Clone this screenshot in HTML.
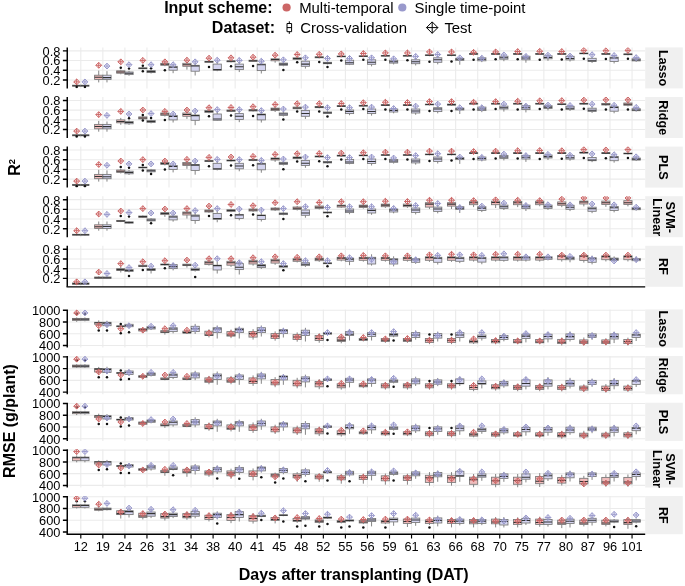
<!DOCTYPE html>
<html><head><meta charset="utf-8"><style>
html,body{margin:0;padding:0;background:#fff;}
body{width:685px;height:586px;overflow:hidden;font-family:"Liberation Sans",sans-serif;}
svg{display:block;will-change:transform;}
</style></head><body>
<svg width="685" height="586" viewBox="0 0 685 586" font-family='"Liberation Sans", sans-serif'><defs><clipPath id="c0"><rect x="67.6" y="47.4" width="577.6" height="41"/></clipPath><clipPath id="c1"><rect x="67.6" y="97" width="577.6" height="41"/></clipPath><clipPath id="c2"><rect x="67.6" y="146.6" width="577.6" height="41"/></clipPath><clipPath id="c3"><rect x="67.6" y="196.2" width="577.6" height="41"/></clipPath><clipPath id="c4"><rect x="67.6" y="245.8" width="577.6" height="41"/></clipPath><clipPath id="c5"><rect x="67.6" y="309.4" width="577.6" height="38.2"/></clipPath><clipPath id="c6"><rect x="67.6" y="356.05" width="577.6" height="38.2"/></clipPath><clipPath id="c7"><rect x="67.6" y="402.7" width="577.6" height="38.2"/></clipPath><clipPath id="c8"><rect x="67.6" y="449.35" width="577.6" height="38.2"/></clipPath><clipPath id="c9"><rect x="67.6" y="496" width="577.6" height="38.2"/></clipPath></defs>
<path d="M67.6 50.85H645.2M67.6 60.55H645.2M67.6 70.25H645.2M67.6 79.95H645.2M80.8 47.4V88.4M102.85 47.4V88.4M124.9 47.4V88.4M146.95 47.4V88.4M169 47.4V88.4M191.05 47.4V88.4M213.1 47.4V88.4M235.15 47.4V88.4M257.2 47.4V88.4M279.25 47.4V88.4M301.3 47.4V88.4M323.35 47.4V88.4M345.4 47.4V88.4M367.45 47.4V88.4M389.5 47.4V88.4M411.55 47.4V88.4M433.6 47.4V88.4M455.65 47.4V88.4M477.7 47.4V88.4M499.75 47.4V88.4M521.8 47.4V88.4M543.85 47.4V88.4M565.9 47.4V88.4M587.95 47.4V88.4M610 47.4V88.4M632.05 47.4V88.4" stroke="#EBEBEB" stroke-width="1.1" fill="none"/>
<rect x="645.2" y="47.4" width="37.6" height="41" fill="#F0F0F0"/>
<text transform="translate(659.2 68.1) rotate(90)" text-anchor="middle" font-weight="bold" font-size="12.6">Lasso</text>
<path d="M67.25 47.4V88.4M62.9 50.85H67.25M62.9 60.55H67.25M62.9 70.25H67.25M62.9 79.95H67.25" stroke="#000" stroke-width="1.45" fill="none"/>
<text x="60.4" y="55.75" text-anchor="end" font-size="12.8">0.8</text>
<text x="60.4" y="65.45" text-anchor="end" font-size="12.8">0.6</text>
<text x="60.4" y="75.15" text-anchor="end" font-size="12.8">0.4</text>
<text x="60.4" y="84.85" text-anchor="end" font-size="12.8">0.2</text>
<path d="M67.6 100.45H645.2M67.6 110.15H645.2M67.6 119.85H645.2M67.6 129.55H645.2M80.8 97V138M102.85 97V138M124.9 97V138M146.95 97V138M169 97V138M191.05 97V138M213.1 97V138M235.15 97V138M257.2 97V138M279.25 97V138M301.3 97V138M323.35 97V138M345.4 97V138M367.45 97V138M389.5 97V138M411.55 97V138M433.6 97V138M455.65 97V138M477.7 97V138M499.75 97V138M521.8 97V138M543.85 97V138M565.9 97V138M587.95 97V138M610 97V138M632.05 97V138" stroke="#EBEBEB" stroke-width="1.1" fill="none"/>
<rect x="645.2" y="97" width="37.6" height="41" fill="#F0F0F0"/>
<text transform="translate(659.2 117.7) rotate(90)" text-anchor="middle" font-weight="bold" font-size="12.6">Ridge</text>
<path d="M67.25 97V138M62.9 100.45H67.25M62.9 110.15H67.25M62.9 119.85H67.25M62.9 129.55H67.25" stroke="#000" stroke-width="1.45" fill="none"/>
<text x="60.4" y="105.35" text-anchor="end" font-size="12.8">0.8</text>
<text x="60.4" y="115.05" text-anchor="end" font-size="12.8">0.6</text>
<text x="60.4" y="124.75" text-anchor="end" font-size="12.8">0.4</text>
<text x="60.4" y="134.45" text-anchor="end" font-size="12.8">0.2</text>
<path d="M67.6 150.05H645.2M67.6 159.75H645.2M67.6 169.45H645.2M67.6 179.15H645.2M80.8 146.6V187.6M102.85 146.6V187.6M124.9 146.6V187.6M146.95 146.6V187.6M169 146.6V187.6M191.05 146.6V187.6M213.1 146.6V187.6M235.15 146.6V187.6M257.2 146.6V187.6M279.25 146.6V187.6M301.3 146.6V187.6M323.35 146.6V187.6M345.4 146.6V187.6M367.45 146.6V187.6M389.5 146.6V187.6M411.55 146.6V187.6M433.6 146.6V187.6M455.65 146.6V187.6M477.7 146.6V187.6M499.75 146.6V187.6M521.8 146.6V187.6M543.85 146.6V187.6M565.9 146.6V187.6M587.95 146.6V187.6M610 146.6V187.6M632.05 146.6V187.6" stroke="#EBEBEB" stroke-width="1.1" fill="none"/>
<rect x="645.2" y="146.6" width="37.6" height="41" fill="#F0F0F0"/>
<text transform="translate(659.2 167.3) rotate(90)" text-anchor="middle" font-weight="bold" font-size="12.6">PLS</text>
<path d="M67.25 146.6V187.6M62.9 150.05H67.25M62.9 159.75H67.25M62.9 169.45H67.25M62.9 179.15H67.25" stroke="#000" stroke-width="1.45" fill="none"/>
<text x="60.4" y="154.95" text-anchor="end" font-size="12.8">0.8</text>
<text x="60.4" y="164.65" text-anchor="end" font-size="12.8">0.6</text>
<text x="60.4" y="174.35" text-anchor="end" font-size="12.8">0.4</text>
<text x="60.4" y="184.05" text-anchor="end" font-size="12.8">0.2</text>
<path d="M67.6 199.65H645.2M67.6 209.35H645.2M67.6 219.05H645.2M67.6 228.75H645.2M80.8 196.2V237.2M102.85 196.2V237.2M124.9 196.2V237.2M146.95 196.2V237.2M169 196.2V237.2M191.05 196.2V237.2M213.1 196.2V237.2M235.15 196.2V237.2M257.2 196.2V237.2M279.25 196.2V237.2M301.3 196.2V237.2M323.35 196.2V237.2M345.4 196.2V237.2M367.45 196.2V237.2M389.5 196.2V237.2M411.55 196.2V237.2M433.6 196.2V237.2M455.65 196.2V237.2M477.7 196.2V237.2M499.75 196.2V237.2M521.8 196.2V237.2M543.85 196.2V237.2M565.9 196.2V237.2M587.95 196.2V237.2M610 196.2V237.2M632.05 196.2V237.2" stroke="#EBEBEB" stroke-width="1.1" fill="none"/>
<rect x="645.2" y="196.2" width="37.6" height="41" fill="#F0F0F0"/>
<text transform="translate(665.8 217.2) rotate(90)" text-anchor="middle" font-weight="bold" font-size="12.6">SVM-</text>
<text transform="translate(652.6 217.2) rotate(90)" text-anchor="middle" font-weight="bold" font-size="12.6">Linear</text>
<path d="M67.25 196.2V237.2M62.9 199.65H67.25M62.9 209.35H67.25M62.9 219.05H67.25M62.9 228.75H67.25" stroke="#000" stroke-width="1.45" fill="none"/>
<text x="60.4" y="204.55" text-anchor="end" font-size="12.8">0.8</text>
<text x="60.4" y="214.25" text-anchor="end" font-size="12.8">0.6</text>
<text x="60.4" y="223.95" text-anchor="end" font-size="12.8">0.4</text>
<text x="60.4" y="233.65" text-anchor="end" font-size="12.8">0.2</text>
<path d="M67.6 249.25H645.2M67.6 258.95H645.2M67.6 268.65H645.2M67.6 278.35H645.2M80.8 245.8V286.8M102.85 245.8V286.8M124.9 245.8V286.8M146.95 245.8V286.8M169 245.8V286.8M191.05 245.8V286.8M213.1 245.8V286.8M235.15 245.8V286.8M257.2 245.8V286.8M279.25 245.8V286.8M301.3 245.8V286.8M323.35 245.8V286.8M345.4 245.8V286.8M367.45 245.8V286.8M389.5 245.8V286.8M411.55 245.8V286.8M433.6 245.8V286.8M455.65 245.8V286.8M477.7 245.8V286.8M499.75 245.8V286.8M521.8 245.8V286.8M543.85 245.8V286.8M565.9 245.8V286.8M587.95 245.8V286.8M610 245.8V286.8M632.05 245.8V286.8" stroke="#EBEBEB" stroke-width="1.1" fill="none"/>
<rect x="645.2" y="245.8" width="37.6" height="41" fill="#F0F0F0"/>
<text transform="translate(659.2 266.5) rotate(90)" text-anchor="middle" font-weight="bold" font-size="12.6">RF</text>
<path d="M67.25 245.8V286.8M62.9 249.25H67.25M62.9 258.95H67.25M62.9 268.65H67.25M62.9 278.35H67.25" stroke="#000" stroke-width="1.45" fill="none"/>
<text x="60.4" y="254.15" text-anchor="end" font-size="12.8">0.8</text>
<text x="60.4" y="263.85" text-anchor="end" font-size="12.8">0.6</text>
<text x="60.4" y="273.55" text-anchor="end" font-size="12.8">0.4</text>
<text x="60.4" y="283.25" text-anchor="end" font-size="12.8">0.2</text>
<path d="M67.6 310.2H645.2M67.6 321.95H645.2M67.6 333.7H645.2M67.6 345.45H645.2M80.8 309.4V347.6M102.85 309.4V347.6M124.9 309.4V347.6M146.95 309.4V347.6M169 309.4V347.6M191.05 309.4V347.6M213.1 309.4V347.6M235.15 309.4V347.6M257.2 309.4V347.6M279.25 309.4V347.6M301.3 309.4V347.6M323.35 309.4V347.6M345.4 309.4V347.6M367.45 309.4V347.6M389.5 309.4V347.6M411.55 309.4V347.6M433.6 309.4V347.6M455.65 309.4V347.6M477.7 309.4V347.6M499.75 309.4V347.6M521.8 309.4V347.6M543.85 309.4V347.6M565.9 309.4V347.6M587.95 309.4V347.6M610 309.4V347.6M632.05 309.4V347.6" stroke="#EBEBEB" stroke-width="1.1" fill="none"/>
<rect x="645.2" y="309.4" width="37.6" height="38.2" fill="#F0F0F0"/>
<text transform="translate(659.2 328.7) rotate(90)" text-anchor="middle" font-weight="bold" font-size="12.6">Lasso</text>
<path d="M67.25 309.4V347.6M62.9 310.2H67.25M62.9 321.95H67.25M62.9 333.7H67.25M62.9 345.45H67.25" stroke="#000" stroke-width="1.45" fill="none"/>
<text x="60.4" y="315.1" text-anchor="end" font-size="12.8">1000</text>
<text x="60.4" y="326.85" text-anchor="end" font-size="12.8">800</text>
<text x="60.4" y="338.6" text-anchor="end" font-size="12.8">600</text>
<text x="60.4" y="350.35" text-anchor="end" font-size="12.8">400</text>
<path d="M67.6 356.85H645.2M67.6 368.6H645.2M67.6 380.35H645.2M67.6 392.1H645.2M80.8 356.05V394.25M102.85 356.05V394.25M124.9 356.05V394.25M146.95 356.05V394.25M169 356.05V394.25M191.05 356.05V394.25M213.1 356.05V394.25M235.15 356.05V394.25M257.2 356.05V394.25M279.25 356.05V394.25M301.3 356.05V394.25M323.35 356.05V394.25M345.4 356.05V394.25M367.45 356.05V394.25M389.5 356.05V394.25M411.55 356.05V394.25M433.6 356.05V394.25M455.65 356.05V394.25M477.7 356.05V394.25M499.75 356.05V394.25M521.8 356.05V394.25M543.85 356.05V394.25M565.9 356.05V394.25M587.95 356.05V394.25M610 356.05V394.25M632.05 356.05V394.25" stroke="#EBEBEB" stroke-width="1.1" fill="none"/>
<rect x="645.2" y="356.05" width="37.6" height="38.2" fill="#F0F0F0"/>
<text transform="translate(659.2 375.35) rotate(90)" text-anchor="middle" font-weight="bold" font-size="12.6">Ridge</text>
<path d="M67.25 356.05V394.25M62.9 356.85H67.25M62.9 368.6H67.25M62.9 380.35H67.25M62.9 392.1H67.25" stroke="#000" stroke-width="1.45" fill="none"/>
<text x="60.4" y="361.75" text-anchor="end" font-size="12.8">1000</text>
<text x="60.4" y="373.5" text-anchor="end" font-size="12.8">800</text>
<text x="60.4" y="385.25" text-anchor="end" font-size="12.8">600</text>
<text x="60.4" y="397" text-anchor="end" font-size="12.8">400</text>
<path d="M67.6 403.5H645.2M67.6 415.25H645.2M67.6 427H645.2M67.6 438.75H645.2M80.8 402.7V440.9M102.85 402.7V440.9M124.9 402.7V440.9M146.95 402.7V440.9M169 402.7V440.9M191.05 402.7V440.9M213.1 402.7V440.9M235.15 402.7V440.9M257.2 402.7V440.9M279.25 402.7V440.9M301.3 402.7V440.9M323.35 402.7V440.9M345.4 402.7V440.9M367.45 402.7V440.9M389.5 402.7V440.9M411.55 402.7V440.9M433.6 402.7V440.9M455.65 402.7V440.9M477.7 402.7V440.9M499.75 402.7V440.9M521.8 402.7V440.9M543.85 402.7V440.9M565.9 402.7V440.9M587.95 402.7V440.9M610 402.7V440.9M632.05 402.7V440.9" stroke="#EBEBEB" stroke-width="1.1" fill="none"/>
<rect x="645.2" y="402.7" width="37.6" height="38.2" fill="#F0F0F0"/>
<text transform="translate(659.2 422) rotate(90)" text-anchor="middle" font-weight="bold" font-size="12.6">PLS</text>
<path d="M67.25 402.7V440.9M62.9 403.5H67.25M62.9 415.25H67.25M62.9 427H67.25M62.9 438.75H67.25" stroke="#000" stroke-width="1.45" fill="none"/>
<text x="60.4" y="408.4" text-anchor="end" font-size="12.8">1000</text>
<text x="60.4" y="420.15" text-anchor="end" font-size="12.8">800</text>
<text x="60.4" y="431.9" text-anchor="end" font-size="12.8">600</text>
<text x="60.4" y="443.65" text-anchor="end" font-size="12.8">400</text>
<path d="M67.6 450.15H645.2M67.6 461.9H645.2M67.6 473.65H645.2M67.6 485.4H645.2M80.8 449.35V487.55M102.85 449.35V487.55M124.9 449.35V487.55M146.95 449.35V487.55M169 449.35V487.55M191.05 449.35V487.55M213.1 449.35V487.55M235.15 449.35V487.55M257.2 449.35V487.55M279.25 449.35V487.55M301.3 449.35V487.55M323.35 449.35V487.55M345.4 449.35V487.55M367.45 449.35V487.55M389.5 449.35V487.55M411.55 449.35V487.55M433.6 449.35V487.55M455.65 449.35V487.55M477.7 449.35V487.55M499.75 449.35V487.55M521.8 449.35V487.55M543.85 449.35V487.55M565.9 449.35V487.55M587.95 449.35V487.55M610 449.35V487.55M632.05 449.35V487.55" stroke="#EBEBEB" stroke-width="1.1" fill="none"/>
<rect x="645.2" y="449.35" width="37.6" height="38.2" fill="#F0F0F0"/>
<text transform="translate(665.8 468.95) rotate(90)" text-anchor="middle" font-weight="bold" font-size="12.6">SVM-</text>
<text transform="translate(652.6 468.95) rotate(90)" text-anchor="middle" font-weight="bold" font-size="12.6">Linear</text>
<path d="M67.25 449.35V487.55M62.9 450.15H67.25M62.9 461.9H67.25M62.9 473.65H67.25M62.9 485.4H67.25" stroke="#000" stroke-width="1.45" fill="none"/>
<text x="60.4" y="455.05" text-anchor="end" font-size="12.8">1000</text>
<text x="60.4" y="466.8" text-anchor="end" font-size="12.8">800</text>
<text x="60.4" y="478.55" text-anchor="end" font-size="12.8">600</text>
<text x="60.4" y="490.3" text-anchor="end" font-size="12.8">400</text>
<path d="M67.6 496.8H645.2M67.6 508.55H645.2M67.6 520.3H645.2M67.6 532.05H645.2M80.8 496V534.2M102.85 496V534.2M124.9 496V534.2M146.95 496V534.2M169 496V534.2M191.05 496V534.2M213.1 496V534.2M235.15 496V534.2M257.2 496V534.2M279.25 496V534.2M301.3 496V534.2M323.35 496V534.2M345.4 496V534.2M367.45 496V534.2M389.5 496V534.2M411.55 496V534.2M433.6 496V534.2M455.65 496V534.2M477.7 496V534.2M499.75 496V534.2M521.8 496V534.2M543.85 496V534.2M565.9 496V534.2M587.95 496V534.2M610 496V534.2M632.05 496V534.2" stroke="#EBEBEB" stroke-width="1.1" fill="none"/>
<rect x="645.2" y="496" width="37.6" height="38.2" fill="#F0F0F0"/>
<text transform="translate(659.2 515.3) rotate(90)" text-anchor="middle" font-weight="bold" font-size="12.6">RF</text>
<path d="M67.25 496V534.2M62.9 496.8H67.25M62.9 508.55H67.25M62.9 520.3H67.25M62.9 532.05H67.25" stroke="#000" stroke-width="1.45" fill="none"/>
<text x="60.4" y="501.7" text-anchor="end" font-size="12.8">1000</text>
<text x="60.4" y="513.45" text-anchor="end" font-size="12.8">800</text>
<text x="60.4" y="525.2" text-anchor="end" font-size="12.8">600</text>
<text x="60.4" y="536.95" text-anchor="end" font-size="12.8">400</text>
<g clip-path="url(#c0)">
<path d="M76.68 84.6V85.2M76.68 86.2V86.8" stroke="#777777" stroke-width="0.9"/><rect x="72.56" y="85.2" width="8.24" height="1" fill="#F0BCBC" stroke="#777777" stroke-width="0.85"/><path d="M72.56 85.7H80.8" stroke="#333" stroke-width="1.05"/><circle cx="76.68" cy="87" r="1.25" fill="#111"/>
<path d="M84.92 84.6V85.2M84.92 86.2V86.8" stroke="#777777" stroke-width="0.9"/><rect x="80.8" y="85.2" width="8.24" height="1" fill="#D5D5F0" stroke="#777777" stroke-width="0.85"/><path d="M80.8 85.7H89.04" stroke="#333" stroke-width="1.05"/><circle cx="84.92" cy="87" r="1.25" fill="#111"/>
<path d="M98.73 70.6V75.2M98.73 79.5V82.4" stroke="#777777" stroke-width="0.9"/><rect x="94.61" y="75.2" width="8.24" height="4.3" fill="#F0BCBC" stroke="#777777" stroke-width="0.85"/><path d="M94.61 77.3H102.85" stroke="#333" stroke-width="1.05"/>
<path d="M106.97 71.2V75.2M106.97 79.5V82.4" stroke="#777777" stroke-width="0.9"/><rect x="102.85" y="75.2" width="8.24" height="4.3" fill="#D5D5F0" stroke="#777777" stroke-width="0.85"/><path d="M102.85 77.6H111.09" stroke="#333" stroke-width="1.05"/>
<path d="M120.78 69.72V70.8M120.78 73.2V74.28" stroke="#777777" stroke-width="0.9"/><rect x="116.66" y="70.8" width="8.24" height="2.4" fill="#F0BCBC" stroke="#777777" stroke-width="0.85"/><path d="M116.66 72H124.9" stroke="#333" stroke-width="1.05"/><circle cx="120.78" cy="67.7" r="1.25" fill="#111"/>
<path d="M129.02 70.83V72M129.02 74.6V75.77" stroke="#777777" stroke-width="0.9"/><rect x="124.9" y="72" width="8.24" height="2.6" fill="#D5D5F0" stroke="#777777" stroke-width="0.85"/><path d="M124.9 73.2H133.14" stroke="#333" stroke-width="1.05"/><circle cx="129.02" cy="68.6" r="1.25" fill="#111"/>
<path d="M142.83 67.3V67.9M142.83 68.7V69.3" stroke="#777777" stroke-width="0.9"/><rect x="138.71" y="67.9" width="8.24" height="0.8" fill="#F0BCBC" stroke="#777777" stroke-width="0.85"/><path d="M138.71 68.3H146.95" stroke="#333" stroke-width="1.05"/><circle cx="142.83" cy="65.7" r="1.25" fill="#111"/><circle cx="142.83" cy="71.2" r="1.25" fill="#111"/>
<path d="M151.07 69.7V70.6M151.07 72.6V73.5" stroke="#777777" stroke-width="0.9"/><rect x="146.95" y="70.6" width="8.24" height="2" fill="#D5D5F0" stroke="#777777" stroke-width="0.85"/><path d="M146.95 71.6H155.19" stroke="#333" stroke-width="1.05"/><circle cx="151.07" cy="68.3" r="1.25" fill="#111"/>
<path d="M164.88 62.4V63.3M164.88 65.3V66.2" stroke="#777777" stroke-width="0.9"/><rect x="160.76" y="63.3" width="8.24" height="2" fill="#F0BCBC" stroke="#777777" stroke-width="0.85"/><path d="M160.76 64.3H169" stroke="#333" stroke-width="1.05"/><circle cx="164.88" cy="70.2" r="1.25" fill="#111"/>
<path d="M173.12 64.54V66.3M173.12 70.2V73.2" stroke="#777777" stroke-width="0.9"/><rect x="169" y="66.3" width="8.24" height="3.9" fill="#D5D5F0" stroke="#777777" stroke-width="0.85"/><path d="M169 67.3H177.24" stroke="#333" stroke-width="1.05"/>
<path d="M186.93 61.95V63.3M186.93 66.3V69.6" stroke="#777777" stroke-width="0.9"/><rect x="182.81" y="63.3" width="8.24" height="3" fill="#F0BCBC" stroke="#777777" stroke-width="0.85"/><path d="M182.81 64.7H191.05" stroke="#333" stroke-width="1.05"/>
<path d="M195.17 62.64V65.3M195.17 71.2V75.5" stroke="#777777" stroke-width="0.9"/><rect x="191.05" y="65.3" width="8.24" height="5.9" fill="#D5D5F0" stroke="#777777" stroke-width="0.85"/><path d="M191.05 65.9H199.29" stroke="#333" stroke-width="1.05"/>
<path d="M208.98 60.8V61.4M208.98 62.3V62.9" stroke="#777777" stroke-width="0.9"/><rect x="204.86" y="61.4" width="8.24" height="0.9" fill="#F0BCBC" stroke="#777777" stroke-width="0.85"/><path d="M204.86 61.8H213.1" stroke="#333" stroke-width="1.05"/><circle cx="208.98" cy="67.1" r="1.25" fill="#111"/>
<path d="M217.22 61.35V64.1M217.22 70.2V71.2" stroke="#777777" stroke-width="0.9"/><rect x="213.1" y="64.1" width="8.24" height="6.1" fill="#D5D5F0" stroke="#777777" stroke-width="0.85"/><path d="M213.1 69.6H221.34" stroke="#333" stroke-width="1.05"/>
<path d="M231.03 60.2V60.8M231.03 61.8V62.4" stroke="#777777" stroke-width="0.9"/><rect x="226.91" y="60.8" width="8.24" height="1" fill="#F0BCBC" stroke="#777777" stroke-width="0.85"/><path d="M226.91 61.3H235.15" stroke="#333" stroke-width="1.05"/><circle cx="231.03" cy="66.3" r="1.25" fill="#111"/>
<path d="M239.27 61.62V64.1M239.27 69.6V72.07" stroke="#777777" stroke-width="0.9"/><rect x="235.15" y="64.1" width="8.24" height="5.5" fill="#D5D5F0" stroke="#777777" stroke-width="0.85"/><path d="M235.15 66.7H243.39" stroke="#333" stroke-width="1.05"/>
<path d="M253.08 59.6V60.2M253.08 61.4V62" stroke="#777777" stroke-width="0.9"/><rect x="248.96" y="60.2" width="8.24" height="1.2" fill="#F0BCBC" stroke="#777777" stroke-width="0.85"/><path d="M248.96 60.8H257.2" stroke="#333" stroke-width="1.05"/><circle cx="253.08" cy="66.1" r="1.25" fill="#111"/>
<path d="M261.32 61.17V64.1M261.32 70.6V73.52" stroke="#777777" stroke-width="0.9"/><rect x="257.2" y="64.1" width="8.24" height="6.5" fill="#D5D5F0" stroke="#777777" stroke-width="0.85"/><path d="M257.2 64.7H265.44" stroke="#333" stroke-width="1.05"/>
<path d="M275.13 57.9V58.8M275.13 60.8V62.7" stroke="#777777" stroke-width="0.9"/><rect x="271.01" y="58.8" width="8.24" height="2" fill="#F0BCBC" stroke="#777777" stroke-width="0.85"/><path d="M271.01 59.4H279.25" stroke="#333" stroke-width="1.05"/>
<path d="M283.37 62.11V63.1M283.37 65.3V66.29" stroke="#777777" stroke-width="0.9"/><rect x="279.25" y="63.1" width="8.24" height="2.2" fill="#D5D5F0" stroke="#777777" stroke-width="0.85"/><path d="M279.25 64.1H287.49" stroke="#333" stroke-width="1.05"/><circle cx="283.37" cy="70" r="1.25" fill="#111"/>
<path d="M297.18 57.08V57.8M297.18 59.4V60.12" stroke="#777777" stroke-width="0.9"/><rect x="293.06" y="57.8" width="8.24" height="1.6" fill="#F0BCBC" stroke="#777777" stroke-width="0.85"/><path d="M293.06 58.4H301.3" stroke="#333" stroke-width="1.05"/><circle cx="297.18" cy="62.3" r="1.25" fill="#111"/>
<path d="M305.42 58.91V61.2M305.42 66.3V68.59" stroke="#777777" stroke-width="0.9"/><rect x="301.3" y="61.2" width="8.24" height="5.1" fill="#D5D5F0" stroke="#777777" stroke-width="0.85"/><path d="M301.3 64.1H309.54" stroke="#333" stroke-width="1.05"/>
<path d="M319.23 56.2V56.8M319.23 57.8V58.4" stroke="#777777" stroke-width="0.9"/><rect x="315.11" y="56.8" width="8.24" height="1" fill="#F0BCBC" stroke="#777777" stroke-width="0.85"/><path d="M315.11 57.3H323.35" stroke="#333" stroke-width="1.05"/><circle cx="319.23" cy="62.1" r="1.25" fill="#111"/>
<path d="M327.47 61.67V62.3M327.47 63.7V64.33" stroke="#777777" stroke-width="0.9"/><rect x="323.35" y="62.3" width="8.24" height="1.4" fill="#D5D5F0" stroke="#777777" stroke-width="0.85"/><path d="M323.35 63.1H331.59" stroke="#333" stroke-width="1.05"/><circle cx="327.47" cy="67.1" r="1.25" fill="#111"/>
<path d="M341.28 55.4V56M341.28 56.8V57.4" stroke="#777777" stroke-width="0.9"/><rect x="337.16" y="56" width="8.24" height="0.8" fill="#F0BCBC" stroke="#777777" stroke-width="0.85"/><path d="M337.16 56.4H345.4" stroke="#333" stroke-width="1.05"/><circle cx="341.28" cy="60.4" r="1.25" fill="#111"/>
<path d="M349.52 58.36V60.2M349.52 64.3V65.1" stroke="#777777" stroke-width="0.9"/><rect x="345.4" y="60.2" width="8.24" height="4.1" fill="#D5D5F0" stroke="#777777" stroke-width="0.85"/><path d="M345.4 62.7H353.64" stroke="#333" stroke-width="1.05"/>
<path d="M363.33 55.2V55.8M363.33 56.6V57.2" stroke="#777777" stroke-width="0.9"/><rect x="359.21" y="55.8" width="8.24" height="0.8" fill="#F0BCBC" stroke="#777777" stroke-width="0.85"/><path d="M359.21 56.2H367.45" stroke="#333" stroke-width="1.05"/><circle cx="363.33" cy="59.8" r="1.25" fill="#111"/>
<path d="M371.57 57.77V59.8M371.57 64.3V66.33" stroke="#777777" stroke-width="0.9"/><rect x="367.45" y="59.8" width="8.24" height="4.5" fill="#D5D5F0" stroke="#777777" stroke-width="0.85"/><path d="M367.45 62.3H375.69" stroke="#333" stroke-width="1.05"/>
<path d="M385.38 54.8V55.4M385.38 56.2V56.8" stroke="#777777" stroke-width="0.9"/><rect x="381.26" y="55.4" width="8.24" height="0.8" fill="#F0BCBC" stroke="#777777" stroke-width="0.85"/><path d="M381.26 55.8H389.5" stroke="#333" stroke-width="1.05"/><circle cx="385.38" cy="59.8" r="1.25" fill="#111"/>
<path d="M393.62 58.9V60.2M393.62 63.1V64.41" stroke="#777777" stroke-width="0.9"/><rect x="389.5" y="60.2" width="8.24" height="2.9" fill="#D5D5F0" stroke="#777777" stroke-width="0.85"/><path d="M389.5 61.8H397.74" stroke="#333" stroke-width="1.05"/>
<path d="M407.43 54.8V55.4M407.43 56.2V56.8" stroke="#777777" stroke-width="0.9"/><rect x="403.31" y="55.4" width="8.24" height="0.8" fill="#F0BCBC" stroke="#777777" stroke-width="0.85"/><path d="M403.31 55.8H411.55" stroke="#333" stroke-width="1.05"/><circle cx="407.43" cy="60.2" r="1.25" fill="#111"/>
<path d="M415.67 58.04V59.8M415.67 63.7V65.46" stroke="#777777" stroke-width="0.9"/><rect x="411.55" y="59.8" width="8.24" height="3.9" fill="#D5D5F0" stroke="#777777" stroke-width="0.85"/><path d="M411.55 61.8H419.79" stroke="#333" stroke-width="1.05"/>
<path d="M429.48 54.2V54.8M429.48 55.6V56.2" stroke="#777777" stroke-width="0.9"/><rect x="425.36" y="54.8" width="8.24" height="0.8" fill="#F0BCBC" stroke="#777777" stroke-width="0.85"/><path d="M425.36 55.2H433.6" stroke="#333" stroke-width="1.05"/><circle cx="429.48" cy="61.8" r="1.25" fill="#111"/>
<path d="M437.72 55.77V57.8M437.72 62.3V64.33" stroke="#777777" stroke-width="0.9"/><rect x="433.6" y="57.8" width="8.24" height="4.5" fill="#D5D5F0" stroke="#777777" stroke-width="0.85"/><path d="M433.6 59.8H441.84" stroke="#333" stroke-width="1.05"/>
<path d="M451.53 54.2V54.8M451.53 55.6V56.2" stroke="#777777" stroke-width="0.9"/><rect x="447.41" y="54.8" width="8.24" height="0.8" fill="#F0BCBC" stroke="#777777" stroke-width="0.85"/><path d="M447.41 55.2H455.65" stroke="#333" stroke-width="1.05"/><circle cx="451.53" cy="61.4" r="1.25" fill="#111"/>
<path d="M459.77 57.5V58.4M459.77 60.4V64.7" stroke="#777777" stroke-width="0.9"/><rect x="455.65" y="58.4" width="8.24" height="2" fill="#D5D5F0" stroke="#777777" stroke-width="0.85"/><path d="M455.65 59.2H463.89" stroke="#333" stroke-width="1.05"/>
<path d="M473.58 52.9V53.5M473.58 54.3V54.9" stroke="#777777" stroke-width="0.9"/><rect x="469.46" y="53.5" width="8.24" height="0.8" fill="#F0BCBC" stroke="#777777" stroke-width="0.85"/><path d="M469.46 53.9H477.7" stroke="#333" stroke-width="1.05"/><circle cx="473.58" cy="59.8" r="1.25" fill="#111"/>
<path d="M481.82 56.45V57.8M481.82 60.8V62.15" stroke="#777777" stroke-width="0.9"/><rect x="477.7" y="57.8" width="8.24" height="3" fill="#D5D5F0" stroke="#777777" stroke-width="0.85"/><path d="M477.7 59.2H485.94" stroke="#333" stroke-width="1.05"/>
<path d="M495.63 52.9V53.5M495.63 54.3V54.9" stroke="#777777" stroke-width="0.9"/><rect x="491.51" y="53.5" width="8.24" height="0.8" fill="#F0BCBC" stroke="#777777" stroke-width="0.85"/><path d="M491.51 53.9H499.75" stroke="#333" stroke-width="1.05"/><circle cx="495.63" cy="59.2" r="1.25" fill="#111"/>
<path d="M503.87 54.85V56.2M503.87 59.2V61.2" stroke="#777777" stroke-width="0.9"/><rect x="499.75" y="56.2" width="8.24" height="3" fill="#D5D5F0" stroke="#777777" stroke-width="0.85"/><path d="M499.75 57.8H507.99" stroke="#333" stroke-width="1.05"/>
<path d="M517.68 52.9V53.5M517.68 54.3V54.9" stroke="#777777" stroke-width="0.9"/><rect x="513.56" y="53.5" width="8.24" height="0.8" fill="#F0BCBC" stroke="#777777" stroke-width="0.85"/><path d="M513.56 53.9H521.8" stroke="#333" stroke-width="1.05"/><circle cx="517.68" cy="59.2" r="1.25" fill="#111"/>
<path d="M525.92 54.58V56.2M525.92 59.8V62.7" stroke="#777777" stroke-width="0.9"/><rect x="521.8" y="56.2" width="8.24" height="3.6" fill="#D5D5F0" stroke="#777777" stroke-width="0.85"/><path d="M521.8 58H530.04" stroke="#333" stroke-width="1.05"/>
<path d="M539.73 52.9V53.5M539.73 54.3V54.9" stroke="#777777" stroke-width="0.9"/><rect x="535.61" y="53.5" width="8.24" height="0.8" fill="#F0BCBC" stroke="#777777" stroke-width="0.85"/><path d="M535.61 53.9H543.85" stroke="#333" stroke-width="1.05"/><circle cx="539.73" cy="59.8" r="1.25" fill="#111"/>
<path d="M547.97 54.45V55.8M547.97 58.8V60.8" stroke="#777777" stroke-width="0.9"/><rect x="543.85" y="55.8" width="8.24" height="3" fill="#D5D5F0" stroke="#777777" stroke-width="0.85"/><path d="M543.85 57.4H552.09" stroke="#333" stroke-width="1.05"/>
<path d="M561.78 52.9V53.5M561.78 54.3V54.9" stroke="#777777" stroke-width="0.9"/><rect x="557.66" y="53.5" width="8.24" height="0.8" fill="#F0BCBC" stroke="#777777" stroke-width="0.85"/><path d="M557.66 53.9H565.9" stroke="#333" stroke-width="1.05"/><circle cx="561.78" cy="59.6" r="1.25" fill="#111"/>
<path d="M570.02 54.68V56.3M570.02 59.9V61.52" stroke="#777777" stroke-width="0.9"/><rect x="565.9" y="56.3" width="8.24" height="3.6" fill="#D5D5F0" stroke="#777777" stroke-width="0.85"/><path d="M565.9 58.5H574.14" stroke="#333" stroke-width="1.05"/>
<path d="M583.83 52.4V53M583.83 53.8V54.4" stroke="#777777" stroke-width="0.9"/><rect x="579.71" y="53" width="8.24" height="0.8" fill="#F0BCBC" stroke="#777777" stroke-width="0.85"/><path d="M579.71 53.4H587.95" stroke="#333" stroke-width="1.05"/><circle cx="583.83" cy="58.8" r="1.25" fill="#111"/>
<path d="M592.07 56.86V58.3M592.07 61.5V62.94" stroke="#777777" stroke-width="0.9"/><rect x="587.95" y="58.3" width="8.24" height="3.2" fill="#D5D5F0" stroke="#777777" stroke-width="0.85"/><path d="M587.95 60.7H596.19" stroke="#333" stroke-width="1.05"/>
<path d="M605.88 52.9V53.5M605.88 54.3V54.9" stroke="#777777" stroke-width="0.9"/><rect x="601.76" y="53.5" width="8.24" height="0.8" fill="#F0BCBC" stroke="#777777" stroke-width="0.85"/><path d="M601.76 53.9H610" stroke="#333" stroke-width="1.05"/><circle cx="605.88" cy="59.1" r="1.25" fill="#111"/>
<path d="M614.12 55.27V57.2M614.12 61.5V63.44" stroke="#777777" stroke-width="0.9"/><rect x="610" y="57.2" width="8.24" height="4.3" fill="#D5D5F0" stroke="#777777" stroke-width="0.85"/><path d="M610 58H618.24" stroke="#333" stroke-width="1.05"/>
<path d="M627.93 53.3V53.9M627.93 54.7V55.3" stroke="#777777" stroke-width="0.9"/><rect x="623.81" y="53.9" width="8.24" height="0.8" fill="#F0BCBC" stroke="#777777" stroke-width="0.85"/><path d="M623.81 54.3H632.05" stroke="#333" stroke-width="1.05"/><circle cx="627.93" cy="58.8" r="1.25" fill="#111"/>
<path d="M636.17 57.85V58.8M636.17 60.9V61.84" stroke="#777777" stroke-width="0.9"/><rect x="632.05" y="58.8" width="8.24" height="2.1" fill="#D5D5F0" stroke="#777777" stroke-width="0.85"/><path d="M632.05 59.9H640.29" stroke="#333" stroke-width="1.05"/>
<path d="M76.68 79L79.58 81.9L76.68 84.8L73.78 81.9ZM73.78 81.9H79.58M76.68 79V84.8" stroke="#CC6666" stroke-width="1.0" fill="none"/>
<path d="M84.92 79L87.82 81.9L84.92 84.8L82.02 81.9ZM82.02 81.9H87.82M84.92 79V84.8" stroke="#9999CC" stroke-width="1.0" fill="none"/>
<path d="M98.73 62.4L101.63 65.3L98.73 68.2L95.83 65.3ZM95.83 65.3H101.63M98.73 62.4V68.2" stroke="#CC6666" stroke-width="1.0" fill="none"/>
<path d="M106.97 63.2L109.87 66.1L106.97 69L104.07 66.1ZM104.07 66.1H109.87M106.97 63.2V69" stroke="#9999CC" stroke-width="1.0" fill="none"/>
<path d="M120.78 58.9L123.68 61.8L120.78 64.7L117.88 61.8ZM117.88 61.8H123.68M120.78 58.9V64.7" stroke="#CC6666" stroke-width="1.0" fill="none"/>
<path d="M129.02 61.8L131.92 64.7L129.02 67.6L126.12 64.7ZM126.12 64.7H131.92M129.02 61.8V67.6" stroke="#9999CC" stroke-width="1.0" fill="none"/>
<path d="M142.83 57.5L145.73 60.4L142.83 63.3L139.93 60.4ZM139.93 60.4H145.73M142.83 57.5V63.3" stroke="#CC6666" stroke-width="1.0" fill="none"/>
<path d="M151.07 61.8L153.97 64.7L151.07 67.6L148.17 64.7ZM148.17 64.7H153.97M151.07 61.8V67.6" stroke="#9999CC" stroke-width="1.0" fill="none"/>
<path d="M164.88 58.9L167.78 61.8L164.88 64.7L161.98 61.8ZM161.98 61.8H167.78M164.88 58.9V64.7" stroke="#CC6666" stroke-width="1.0" fill="none"/>
<path d="M173.12 61.8L176.02 64.7L173.12 67.6L170.22 64.7ZM170.22 64.7H176.02M173.12 61.8V67.6" stroke="#9999CC" stroke-width="1.0" fill="none"/>
<path d="M186.93 57.3L189.83 60.2L186.93 63.1L184.03 60.2ZM184.03 60.2H189.83M186.93 57.3V63.1" stroke="#CC6666" stroke-width="1.0" fill="none"/>
<path d="M195.17 58.9L198.07 61.8L195.17 64.7L192.27 61.8ZM192.27 61.8H198.07M195.17 58.9V64.7" stroke="#9999CC" stroke-width="1.0" fill="none"/>
<path d="M208.98 55.3L211.88 58.2L208.98 61.1L206.08 58.2ZM206.08 58.2H211.88M208.98 55.3V61.1" stroke="#CC6666" stroke-width="1.0" fill="none"/>
<path d="M217.22 57.3L220.12 60.2L217.22 63.1L214.32 60.2ZM214.32 60.2H220.12M217.22 57.3V63.1" stroke="#9999CC" stroke-width="1.0" fill="none"/>
<path d="M231.03 54.9L233.93 57.8L231.03 60.7L228.13 57.8ZM228.13 57.8H233.93M231.03 54.9V60.7" stroke="#CC6666" stroke-width="1.0" fill="none"/>
<path d="M239.27 57.5L242.17 60.4L239.27 63.3L236.37 60.4ZM236.37 60.4H242.17M239.27 57.5V63.3" stroke="#9999CC" stroke-width="1.0" fill="none"/>
<path d="M253.08 54.3L255.98 57.2L253.08 60.1L250.18 57.2ZM250.18 57.2H255.98M253.08 54.3V60.1" stroke="#CC6666" stroke-width="1.0" fill="none"/>
<path d="M261.32 58.3L264.22 61.2L261.32 64.1L258.42 61.2ZM258.42 61.2H264.22M261.32 58.3V64.1" stroke="#9999CC" stroke-width="1.0" fill="none"/>
<path d="M275.13 52.3L278.03 55.2L275.13 58.1L272.23 55.2ZM272.23 55.2H278.03M275.13 52.3V58.1" stroke="#CC6666" stroke-width="1.0" fill="none"/>
<path d="M283.37 56.9L286.27 59.8L283.37 62.7L280.47 59.8ZM280.47 59.8H286.27M283.37 56.9V62.7" stroke="#9999CC" stroke-width="1.0" fill="none"/>
<path d="M297.18 51.6L300.08 54.5L297.18 57.4L294.28 54.5ZM294.28 54.5H300.08M297.18 51.6V57.4" stroke="#CC6666" stroke-width="1.0" fill="none"/>
<path d="M305.42 54.9L308.32 57.8L305.42 60.7L302.52 57.8ZM302.52 57.8H308.32M305.42 54.9V60.7" stroke="#9999CC" stroke-width="1.0" fill="none"/>
<path d="M319.23 51.4L322.13 54.3L319.23 57.2L316.33 54.3ZM316.33 54.3H322.13M319.23 51.4V57.2" stroke="#CC6666" stroke-width="1.0" fill="none"/>
<path d="M327.47 55.5L330.37 58.4L327.47 61.3L324.57 58.4ZM324.57 58.4H330.37M327.47 55.5V61.3" stroke="#9999CC" stroke-width="1.0" fill="none"/>
<path d="M341.28 51L344.18 53.9L341.28 56.8L338.38 53.9ZM338.38 53.9H344.18M341.28 51V56.8" stroke="#CC6666" stroke-width="1.0" fill="none"/>
<path d="M349.52 55.5L352.42 58.4L349.52 61.3L346.62 58.4ZM346.62 58.4H352.42M349.52 55.5V61.3" stroke="#9999CC" stroke-width="1.0" fill="none"/>
<path d="M363.33 50.6L366.23 53.5L363.33 56.4L360.43 53.5ZM360.43 53.5H366.23M363.33 50.6V56.4" stroke="#CC6666" stroke-width="1.0" fill="none"/>
<path d="M371.57 54.9L374.47 57.8L371.57 60.7L368.67 57.8ZM368.67 57.8H374.47M371.57 54.9V60.7" stroke="#9999CC" stroke-width="1.0" fill="none"/>
<path d="M385.38 50L388.28 52.9L385.38 55.8L382.48 52.9ZM382.48 52.9H388.28M385.38 50V55.8" stroke="#CC6666" stroke-width="1.0" fill="none"/>
<path d="M393.62 55.9L396.52 58.8L393.62 61.7L390.72 58.8ZM390.72 58.8H396.52M393.62 55.9V61.7" stroke="#9999CC" stroke-width="1.0" fill="none"/>
<path d="M407.43 50L410.33 52.9L407.43 55.8L404.53 52.9ZM404.53 52.9H410.33M407.43 50V55.8" stroke="#CC6666" stroke-width="1.0" fill="none"/>
<path d="M415.67 53.5L418.57 56.4L415.67 59.3L412.77 56.4ZM412.77 56.4H418.57M415.67 53.5V59.3" stroke="#9999CC" stroke-width="1.0" fill="none"/>
<path d="M429.48 49L432.38 51.9L429.48 54.8L426.58 51.9ZM426.58 51.9H432.38M429.48 49V54.8" stroke="#CC6666" stroke-width="1.0" fill="none"/>
<path d="M437.72 51.6L440.62 54.5L437.72 57.4L434.82 54.5ZM434.82 54.5H440.62M437.72 51.6V57.4" stroke="#9999CC" stroke-width="1.0" fill="none"/>
<path d="M451.53 49L454.43 51.9L451.53 54.8L448.63 51.9ZM448.63 51.9H454.43M451.53 49V54.8" stroke="#CC6666" stroke-width="1.0" fill="none"/>
<path d="M459.77 54.9L462.67 57.8L459.77 60.7L456.87 57.8ZM456.87 57.8H462.67M459.77 54.9V60.7" stroke="#9999CC" stroke-width="1.0" fill="none"/>
<path d="M473.58 49.4L476.48 52.3L473.58 55.2L470.68 52.3ZM470.68 52.3H476.48M473.58 49.4V55.2" stroke="#CC6666" stroke-width="1.0" fill="none"/>
<path d="M481.82 55.3L484.72 58.2L481.82 61.1L478.92 58.2ZM478.92 58.2H484.72M481.82 55.3V61.1" stroke="#9999CC" stroke-width="1.0" fill="none"/>
<path d="M495.63 49L498.53 51.9L495.63 54.8L492.73 51.9ZM492.73 51.9H498.53M495.63 49V54.8" stroke="#CC6666" stroke-width="1.0" fill="none"/>
<path d="M503.87 52L506.77 54.9L503.87 57.8L500.97 54.9ZM500.97 54.9H506.77M503.87 52V57.8" stroke="#9999CC" stroke-width="1.0" fill="none"/>
<path d="M517.68 48.6L520.58 51.5L517.68 54.4L514.78 51.5ZM514.78 51.5H520.58M517.68 48.6V54.4" stroke="#CC6666" stroke-width="1.0" fill="none"/>
<path d="M525.92 53.5L528.82 56.4L525.92 59.3L523.02 56.4ZM523.02 56.4H528.82M525.92 53.5V59.3" stroke="#9999CC" stroke-width="1.0" fill="none"/>
<path d="M539.73 48.4L542.63 51.3L539.73 54.2L536.83 51.3ZM536.83 51.3H542.63M539.73 48.4V54.2" stroke="#CC6666" stroke-width="1.0" fill="none"/>
<path d="M547.97 52.3L550.87 55.2L547.97 58.1L545.07 55.2ZM545.07 55.2H550.87M547.97 52.3V58.1" stroke="#9999CC" stroke-width="1.0" fill="none"/>
<path d="M561.78 48.6L564.68 51.5L561.78 54.4L558.88 51.5ZM558.88 51.5H564.68M561.78 48.6V54.4" stroke="#CC6666" stroke-width="1.0" fill="none"/>
<path d="M570.02 53.1L572.92 56L570.02 58.9L567.12 56ZM567.12 56H572.92M570.02 53.1V58.9" stroke="#9999CC" stroke-width="1.0" fill="none"/>
<path d="M583.83 47.5L586.73 50.4L583.83 53.3L580.93 50.4ZM580.93 50.4H586.73M583.83 47.5V53.3" stroke="#CC6666" stroke-width="1.0" fill="none"/>
<path d="M592.07 51.8L594.97 54.7L592.07 57.6L589.17 54.7ZM589.17 54.7H594.97M592.07 51.8V57.6" stroke="#9999CC" stroke-width="1.0" fill="none"/>
<path d="M605.88 47.8L608.78 50.7L605.88 53.6L602.98 50.7ZM602.98 50.7H608.78M605.88 47.8V53.6" stroke="#CC6666" stroke-width="1.0" fill="none"/>
<path d="M614.12 52.6L617.02 55.5L614.12 58.4L611.22 55.5ZM611.22 55.5H617.02M614.12 52.6V58.4" stroke="#9999CC" stroke-width="1.0" fill="none"/>
<path d="M627.93 47.5L630.83 50.4L627.93 53.3L625.03 50.4ZM625.03 50.4H630.83M627.93 47.5V53.3" stroke="#CC6666" stroke-width="1.0" fill="none"/>
<path d="M636.17 54.7L639.07 57.6L636.17 60.5L633.27 57.6ZM633.27 57.6H639.07M636.17 54.7V60.5" stroke="#9999CC" stroke-width="1.0" fill="none"/>
</g>
<g clip-path="url(#c1)">
<path d="M76.68 134.2V134.8M76.68 135.8V136.4" stroke="#777777" stroke-width="0.9"/><rect x="72.56" y="134.8" width="8.24" height="1" fill="#F0BCBC" stroke="#777777" stroke-width="0.85"/><path d="M72.56 135.3H80.8" stroke="#333" stroke-width="1.05"/><circle cx="76.68" cy="136.5" r="1.25" fill="#111"/>
<path d="M84.92 134.2V134.8M84.92 135.8V136.4" stroke="#777777" stroke-width="0.9"/><rect x="80.8" y="134.8" width="8.24" height="1" fill="#D5D5F0" stroke="#777777" stroke-width="0.85"/><path d="M80.8 135.3H89.04" stroke="#333" stroke-width="1.05"/><circle cx="84.92" cy="136.5" r="1.25" fill="#111"/>
<path d="M98.73 120.9V124.4M98.73 128.8V131.7" stroke="#777777" stroke-width="0.9"/><rect x="94.61" y="124.4" width="8.24" height="4.4" fill="#F0BCBC" stroke="#777777" stroke-width="0.85"/><path d="M94.61 126.4H102.85" stroke="#333" stroke-width="1.05"/>
<path d="M106.97 121.5V124.4M106.97 128.8V131.7" stroke="#777777" stroke-width="0.9"/><rect x="102.85" y="124.4" width="8.24" height="4.4" fill="#D5D5F0" stroke="#777777" stroke-width="0.85"/><path d="M102.85 126.6H111.09" stroke="#333" stroke-width="1.05"/>
<path d="M120.78 117.9V119.9M120.78 122.8V124.8" stroke="#777777" stroke-width="0.9"/><rect x="116.66" y="119.9" width="8.24" height="2.9" fill="#F0BCBC" stroke="#777777" stroke-width="0.85"/><path d="M116.66 121.5H124.9" stroke="#333" stroke-width="1.05"/>
<path d="M129.02 120.47V121.5M129.02 123.8V124.83" stroke="#777777" stroke-width="0.9"/><rect x="124.9" y="121.5" width="8.24" height="2.3" fill="#D5D5F0" stroke="#777777" stroke-width="0.85"/><path d="M124.9 122.5H133.14" stroke="#333" stroke-width="1.05"/><circle cx="129.02" cy="118.3" r="1.25" fill="#111"/>
<path d="M142.83 116V116.9M142.83 118.9V119.8" stroke="#777777" stroke-width="0.9"/><rect x="138.71" y="116.9" width="8.24" height="2" fill="#F0BCBC" stroke="#777777" stroke-width="0.85"/><path d="M138.71 117.9H146.95" stroke="#333" stroke-width="1.05"/><circle cx="142.83" cy="115" r="1.25" fill="#111"/><circle cx="142.83" cy="120.5" r="1.25" fill="#111"/>
<path d="M151.07 119.6V120.5M151.07 122.5V123.4" stroke="#777777" stroke-width="0.9"/><rect x="146.95" y="120.5" width="8.24" height="2" fill="#D5D5F0" stroke="#777777" stroke-width="0.85"/><path d="M146.95 121.5H155.19" stroke="#333" stroke-width="1.05"/><circle cx="151.07" cy="117.9" r="1.25" fill="#111"/>
<path d="M164.88 111.92V113M164.88 115.4V116.48" stroke="#777777" stroke-width="0.9"/><rect x="160.76" y="113" width="8.24" height="2.4" fill="#F0BCBC" stroke="#777777" stroke-width="0.85"/><path d="M160.76 114H169" stroke="#333" stroke-width="1.05"/><circle cx="164.88" cy="119.9" r="1.25" fill="#111"/>
<path d="M173.12 113.38V115.4M173.12 119.9V122.5" stroke="#777777" stroke-width="0.9"/><rect x="169" y="115.4" width="8.24" height="4.5" fill="#D5D5F0" stroke="#777777" stroke-width="0.85"/><path d="M169 116.5H177.24" stroke="#333" stroke-width="1.05"/>
<path d="M186.93 111.52V113M186.93 116.3V118.9" stroke="#777777" stroke-width="0.9"/><rect x="182.81" y="113" width="8.24" height="3.3" fill="#F0BCBC" stroke="#777777" stroke-width="0.85"/><path d="M182.81 114.4H191.05" stroke="#333" stroke-width="1.05"/>
<path d="M195.17 112.61V115M195.17 120.3V125.2" stroke="#777777" stroke-width="0.9"/><rect x="191.05" y="115" width="8.24" height="5.3" fill="#D5D5F0" stroke="#777777" stroke-width="0.85"/><path d="M191.05 115.6H199.29" stroke="#333" stroke-width="1.05"/>
<path d="M208.98 109.5V110.4M208.98 112.4V113.3" stroke="#777777" stroke-width="0.9"/><rect x="204.86" y="110.4" width="8.24" height="2" fill="#F0BCBC" stroke="#777777" stroke-width="0.85"/><path d="M204.86 111.4H213.1" stroke="#333" stroke-width="1.05"/><circle cx="208.98" cy="116.3" r="1.25" fill="#111"/>
<path d="M217.22 111.17V114M217.22 120.3V120.9" stroke="#777777" stroke-width="0.9"/><rect x="213.1" y="114" width="8.24" height="6.3" fill="#D5D5F0" stroke="#777777" stroke-width="0.85"/><path d="M213.1 118.9H221.34" stroke="#333" stroke-width="1.05"/>
<path d="M231.03 109.37V110M231.03 111.4V112.03" stroke="#777777" stroke-width="0.9"/><rect x="226.91" y="110" width="8.24" height="1.4" fill="#F0BCBC" stroke="#777777" stroke-width="0.85"/><path d="M226.91 110.7H235.15" stroke="#333" stroke-width="1.05"/><circle cx="231.03" cy="115.6" r="1.25" fill="#111"/>
<path d="M239.27 110.94V113.6M239.27 119.5V122.16" stroke="#777777" stroke-width="0.9"/><rect x="235.15" y="113.6" width="8.24" height="5.9" fill="#D5D5F0" stroke="#777777" stroke-width="0.85"/><path d="M235.15 116.3H243.39" stroke="#333" stroke-width="1.05"/>
<path d="M253.08 108.97V109.6M253.08 111V111.63" stroke="#777777" stroke-width="0.9"/><rect x="248.96" y="109.6" width="8.24" height="1.4" fill="#F0BCBC" stroke="#777777" stroke-width="0.85"/><path d="M248.96 110.3H257.2" stroke="#333" stroke-width="1.05"/><circle cx="253.08" cy="116" r="1.25" fill="#111"/>
<path d="M261.32 111.34V114M261.32 119.9V122.56" stroke="#777777" stroke-width="0.9"/><rect x="257.2" y="114" width="8.24" height="5.9" fill="#D5D5F0" stroke="#777777" stroke-width="0.85"/><path d="M257.2 114.6H265.44" stroke="#333" stroke-width="1.05"/>
<path d="M275.13 106.97V108.1M275.13 110.6V112" stroke="#777777" stroke-width="0.9"/><rect x="271.01" y="108.1" width="8.24" height="2.5" fill="#F0BCBC" stroke="#777777" stroke-width="0.85"/><path d="M271.01 109.1H279.25" stroke="#333" stroke-width="1.05"/>
<path d="M283.37 111.92V113M283.37 115.4V116.48" stroke="#777777" stroke-width="0.9"/><rect x="279.25" y="113" width="8.24" height="2.4" fill="#D5D5F0" stroke="#777777" stroke-width="0.85"/><path d="M279.25 114H287.49" stroke="#333" stroke-width="1.05"/><circle cx="283.37" cy="119.5" r="1.25" fill="#111"/>
<path d="M297.18 106.38V107.1M297.18 108.7V109.42" stroke="#777777" stroke-width="0.9"/><rect x="293.06" y="107.1" width="8.24" height="1.6" fill="#F0BCBC" stroke="#777777" stroke-width="0.85"/><path d="M293.06 107.9H301.3" stroke="#333" stroke-width="1.05"/><circle cx="297.18" cy="111.6" r="1.25" fill="#111"/>
<path d="M305.42 107.75V110.4M305.42 116.3V118.95" stroke="#777777" stroke-width="0.9"/><rect x="301.3" y="110.4" width="8.24" height="5.9" fill="#D5D5F0" stroke="#777777" stroke-width="0.85"/><path d="M301.3 113.4H309.54" stroke="#333" stroke-width="1.05"/>
<path d="M319.23 105.9V106.5M319.23 107.7V108.3" stroke="#777777" stroke-width="0.9"/><rect x="315.11" y="106.5" width="8.24" height="1.2" fill="#F0BCBC" stroke="#777777" stroke-width="0.85"/><path d="M315.11 107.1H323.35" stroke="#333" stroke-width="1.05"/><circle cx="319.23" cy="111.4" r="1.25" fill="#111"/>
<path d="M327.47 111.37V112M327.47 113.4V114.03" stroke="#777777" stroke-width="0.9"/><rect x="323.35" y="112" width="8.24" height="1.4" fill="#D5D5F0" stroke="#777777" stroke-width="0.85"/><path d="M323.35 112.7H331.59" stroke="#333" stroke-width="1.05"/><circle cx="327.47" cy="116.5" r="1.25" fill="#111"/>
<path d="M341.28 105.1V105.7M341.28 106.5V107.1" stroke="#777777" stroke-width="0.9"/><rect x="337.16" y="105.7" width="8.24" height="0.8" fill="#F0BCBC" stroke="#777777" stroke-width="0.85"/><path d="M337.16 106.1H345.4" stroke="#333" stroke-width="1.05"/><circle cx="341.28" cy="109.6" r="1.25" fill="#111"/>
<path d="M349.52 108.38V110M349.52 113.6V115.22" stroke="#777777" stroke-width="0.9"/><rect x="345.4" y="110" width="8.24" height="3.6" fill="#D5D5F0" stroke="#777777" stroke-width="0.85"/><path d="M345.4 111.4H353.64" stroke="#333" stroke-width="1.05"/>
<path d="M363.33 104.7V105.3M363.33 106.1V106.7" stroke="#777777" stroke-width="0.9"/><rect x="359.21" y="105.3" width="8.24" height="0.8" fill="#F0BCBC" stroke="#777777" stroke-width="0.85"/><path d="M359.21 105.7H367.45" stroke="#333" stroke-width="1.05"/><circle cx="363.33" cy="109" r="1.25" fill="#111"/>
<path d="M371.57 106.93V109M371.57 113.6V115.67" stroke="#777777" stroke-width="0.9"/><rect x="367.45" y="109" width="8.24" height="4.6" fill="#D5D5F0" stroke="#777777" stroke-width="0.85"/><path d="M367.45 111.4H375.69" stroke="#333" stroke-width="1.05"/>
<path d="M385.38 104.1V104.7M385.38 105.5V106.1" stroke="#777777" stroke-width="0.9"/><rect x="381.26" y="104.7" width="8.24" height="0.8" fill="#F0BCBC" stroke="#777777" stroke-width="0.85"/><path d="M381.26 105.1H389.5" stroke="#333" stroke-width="1.05"/><circle cx="385.38" cy="109.4" r="1.25" fill="#111"/>
<path d="M393.62 107.65V109M393.62 112V113.35" stroke="#777777" stroke-width="0.9"/><rect x="389.5" y="109" width="8.24" height="3" fill="#D5D5F0" stroke="#777777" stroke-width="0.85"/><path d="M389.5 110.4H397.74" stroke="#333" stroke-width="1.05"/>
<path d="M407.43 104.1V104.7M407.43 105.5V106.1" stroke="#777777" stroke-width="0.9"/><rect x="403.31" y="104.7" width="8.24" height="0.8" fill="#F0BCBC" stroke="#777777" stroke-width="0.85"/><path d="M403.31 105.1H411.55" stroke="#333" stroke-width="1.05"/><circle cx="407.43" cy="109.4" r="1.25" fill="#111"/>
<path d="M415.67 107.2V109M415.67 113V114.8" stroke="#777777" stroke-width="0.9"/><rect x="411.55" y="109" width="8.24" height="4" fill="#D5D5F0" stroke="#777777" stroke-width="0.85"/><path d="M411.55 111H419.79" stroke="#333" stroke-width="1.05"/>
<path d="M429.48 103.5V104.1M429.48 104.9V105.5" stroke="#777777" stroke-width="0.9"/><rect x="425.36" y="104.1" width="8.24" height="0.8" fill="#F0BCBC" stroke="#777777" stroke-width="0.85"/><path d="M425.36 104.5H433.6" stroke="#333" stroke-width="1.05"/><circle cx="429.48" cy="111" r="1.25" fill="#111"/>
<path d="M437.72 105.95V107.7M437.72 111.6V113.35" stroke="#777777" stroke-width="0.9"/><rect x="433.6" y="107.7" width="8.24" height="3.9" fill="#D5D5F0" stroke="#777777" stroke-width="0.85"/><path d="M433.6 109H441.84" stroke="#333" stroke-width="1.05"/>
<path d="M451.53 103.5V104.1M451.53 105.1V105.7" stroke="#777777" stroke-width="0.9"/><rect x="447.41" y="104.1" width="8.24" height="1" fill="#F0BCBC" stroke="#777777" stroke-width="0.85"/><path d="M447.41 104.6H455.65" stroke="#333" stroke-width="1.05"/><circle cx="451.53" cy="111" r="1.25" fill="#111"/>
<path d="M459.77 107.24V108.1M459.77 110V114" stroke="#777777" stroke-width="0.9"/><rect x="455.65" y="108.1" width="8.24" height="1.9" fill="#D5D5F0" stroke="#777777" stroke-width="0.85"/><path d="M455.65 109H463.89" stroke="#333" stroke-width="1.05"/>
<path d="M473.58 102.7V103.3M473.58 104.1V104.7" stroke="#777777" stroke-width="0.9"/><rect x="469.46" y="103.3" width="8.24" height="0.8" fill="#F0BCBC" stroke="#777777" stroke-width="0.85"/><path d="M469.46 103.7H477.7" stroke="#333" stroke-width="1.05"/><circle cx="473.58" cy="109.6" r="1.25" fill="#111"/>
<path d="M481.82 105.52V107.1M481.82 110.6V112.17" stroke="#777777" stroke-width="0.9"/><rect x="477.7" y="107.1" width="8.24" height="3.5" fill="#D5D5F0" stroke="#777777" stroke-width="0.85"/><path d="M477.7 109H485.94" stroke="#333" stroke-width="1.05"/>
<path d="M495.63 102.7V103.3M495.63 104.1V104.7" stroke="#777777" stroke-width="0.9"/><rect x="491.51" y="103.3" width="8.24" height="0.8" fill="#F0BCBC" stroke="#777777" stroke-width="0.85"/><path d="M491.51 103.7H499.75" stroke="#333" stroke-width="1.05"/><circle cx="495.63" cy="109" r="1.25" fill="#111"/>
<path d="M503.87 104.79V106.1M503.87 109V111.6" stroke="#777777" stroke-width="0.9"/><rect x="499.75" y="106.1" width="8.24" height="2.9" fill="#D5D5F0" stroke="#777777" stroke-width="0.85"/><path d="M499.75 107.7H507.99" stroke="#333" stroke-width="1.05"/>
<path d="M517.68 102.7V103.3M517.68 104.1V104.7" stroke="#777777" stroke-width="0.9"/><rect x="513.56" y="103.3" width="8.24" height="0.8" fill="#F0BCBC" stroke="#777777" stroke-width="0.85"/><path d="M513.56 103.7H521.8" stroke="#333" stroke-width="1.05"/><circle cx="517.68" cy="109.4" r="1.25" fill="#111"/>
<path d="M525.92 103.95V105.7M525.92 109.6V112.4" stroke="#777777" stroke-width="0.9"/><rect x="521.8" y="105.7" width="8.24" height="3.9" fill="#D5D5F0" stroke="#777777" stroke-width="0.85"/><path d="M521.8 107.7H530.04" stroke="#333" stroke-width="1.05"/>
<path d="M539.73 102.7V103.3M539.73 104.1V104.7" stroke="#777777" stroke-width="0.9"/><rect x="535.61" y="103.3" width="8.24" height="0.8" fill="#F0BCBC" stroke="#777777" stroke-width="0.85"/><path d="M535.61 103.7H543.85" stroke="#333" stroke-width="1.05"/><circle cx="539.73" cy="109" r="1.25" fill="#111"/>
<path d="M547.97 104.44V105.7M547.97 108.5V110.4" stroke="#777777" stroke-width="0.9"/><rect x="543.85" y="105.7" width="8.24" height="2.8" fill="#D5D5F0" stroke="#777777" stroke-width="0.85"/><path d="M543.85 107.1H552.09" stroke="#333" stroke-width="1.05"/>
<path d="M561.78 103.2V103.8M561.78 104.6V105.2" stroke="#777777" stroke-width="0.9"/><rect x="557.66" y="103.8" width="8.24" height="0.8" fill="#F0BCBC" stroke="#777777" stroke-width="0.85"/><path d="M557.66 104.2H565.9" stroke="#333" stroke-width="1.05"/><circle cx="561.78" cy="109.4" r="1.25" fill="#111"/>
<path d="M570.02 104.86V106.3M570.02 109.5V110.94" stroke="#777777" stroke-width="0.9"/><rect x="565.9" y="106.3" width="8.24" height="3.2" fill="#D5D5F0" stroke="#777777" stroke-width="0.85"/><path d="M565.9 108.2H574.14" stroke="#333" stroke-width="1.05"/>
<path d="M583.83 102.7V103.3M583.83 104.1V104.7" stroke="#777777" stroke-width="0.9"/><rect x="579.71" y="103.3" width="8.24" height="0.8" fill="#F0BCBC" stroke="#777777" stroke-width="0.85"/><path d="M579.71 103.7H587.95" stroke="#333" stroke-width="1.05"/><circle cx="583.83" cy="108.7" r="1.25" fill="#111"/>
<path d="M592.07 106.72V108.2M592.07 111.5V112.98" stroke="#777777" stroke-width="0.9"/><rect x="587.95" y="108.2" width="8.24" height="3.3" fill="#D5D5F0" stroke="#777777" stroke-width="0.85"/><path d="M587.95 110.2H596.19" stroke="#333" stroke-width="1.05"/>
<path d="M605.88 102.68V103.4M605.88 105V105.72" stroke="#777777" stroke-width="0.9"/><rect x="601.76" y="103.4" width="8.24" height="1.6" fill="#F0BCBC" stroke="#777777" stroke-width="0.85"/><path d="M601.76 104.2H610" stroke="#333" stroke-width="1.05"/><circle cx="605.88" cy="109.4" r="1.25" fill="#111"/>
<path d="M614.12 104.53V106.6M614.12 111.2V113.27" stroke="#777777" stroke-width="0.9"/><rect x="610" y="106.6" width="8.24" height="4.6" fill="#D5D5F0" stroke="#777777" stroke-width="0.85"/><path d="M610 107.4H618.24" stroke="#333" stroke-width="1.05"/>
<path d="M627.93 101.97V103M627.93 105.3V106.33" stroke="#777777" stroke-width="0.9"/><rect x="623.81" y="103" width="8.24" height="2.3" fill="#F0BCBC" stroke="#777777" stroke-width="0.85"/><path d="M623.81 104.2H632.05" stroke="#333" stroke-width="1.05"/><circle cx="627.93" cy="109.4" r="1.25" fill="#111"/>
<path d="M636.17 107.8V108.7M636.17 110.7V111.6" stroke="#777777" stroke-width="0.9"/><rect x="632.05" y="108.7" width="8.24" height="2" fill="#D5D5F0" stroke="#777777" stroke-width="0.85"/><path d="M632.05 109.9H640.29" stroke="#333" stroke-width="1.05"/>
<path d="M76.68 128.2L79.58 131.1L76.68 134L73.78 131.1ZM73.78 131.1H79.58M76.68 128.2V134" stroke="#CC6666" stroke-width="1.0" fill="none"/>
<path d="M84.92 128.2L87.82 131.1L84.92 134L82.02 131.1ZM82.02 131.1H87.82M84.92 128.2V134" stroke="#9999CC" stroke-width="1.0" fill="none"/>
<path d="M98.73 111.7L101.63 114.6L98.73 117.5L95.83 114.6ZM95.83 114.6H101.63M98.73 111.7V117.5" stroke="#CC6666" stroke-width="1.0" fill="none"/>
<path d="M106.97 112.5L109.87 115.4L106.97 118.3L104.07 115.4ZM104.07 115.4H109.87M106.97 112.5V118.3" stroke="#9999CC" stroke-width="1.0" fill="none"/>
<path d="M120.78 108.5L123.68 111.4L120.78 114.3L117.88 111.4ZM117.88 111.4H123.68M120.78 108.5V114.3" stroke="#CC6666" stroke-width="1.0" fill="none"/>
<path d="M129.02 111.1L131.92 114L129.02 116.9L126.12 114ZM126.12 114H131.92M129.02 111.1V116.9" stroke="#9999CC" stroke-width="1.0" fill="none"/>
<path d="M142.83 107.1L145.73 110L142.83 112.9L139.93 110ZM139.93 110H145.73M142.83 107.1V112.9" stroke="#CC6666" stroke-width="1.0" fill="none"/>
<path d="M151.07 110.7L153.97 113.6L151.07 116.5L148.17 113.6ZM148.17 113.6H153.97M151.07 110.7V116.5" stroke="#9999CC" stroke-width="1.0" fill="none"/>
<path d="M164.88 108.5L167.78 111.4L164.88 114.3L161.98 111.4ZM161.98 111.4H167.78M164.88 108.5V114.3" stroke="#CC6666" stroke-width="1.0" fill="none"/>
<path d="M173.12 111.1L176.02 114L173.12 116.9L170.22 114ZM170.22 114H176.02M173.12 111.1V116.9" stroke="#9999CC" stroke-width="1.0" fill="none"/>
<path d="M186.93 107.1L189.83 110L186.93 112.9L184.03 110ZM184.03 110H189.83M186.93 107.1V112.9" stroke="#CC6666" stroke-width="1.0" fill="none"/>
<path d="M195.17 108.1L198.07 111L195.17 113.9L192.27 111ZM192.27 111H198.07M195.17 108.1V113.9" stroke="#9999CC" stroke-width="1.0" fill="none"/>
<path d="M208.98 104.8L211.88 107.7L208.98 110.6L206.08 107.7ZM206.08 107.7H211.88M208.98 104.8V110.6" stroke="#CC6666" stroke-width="1.0" fill="none"/>
<path d="M217.22 106.7L220.12 109.6L217.22 112.5L214.32 109.6ZM214.32 109.6H220.12M217.22 106.7V112.5" stroke="#9999CC" stroke-width="1.0" fill="none"/>
<path d="M231.03 104.6L233.93 107.5L231.03 110.4L228.13 107.5ZM228.13 107.5H233.93M231.03 104.6V110.4" stroke="#CC6666" stroke-width="1.0" fill="none"/>
<path d="M239.27 106.7L242.17 109.6L239.27 112.5L236.37 109.6ZM236.37 109.6H242.17M239.27 106.7V112.5" stroke="#9999CC" stroke-width="1.0" fill="none"/>
<path d="M253.08 103.8L255.98 106.7L253.08 109.6L250.18 106.7ZM250.18 106.7H255.98M253.08 103.8V109.6" stroke="#CC6666" stroke-width="1.0" fill="none"/>
<path d="M261.32 107.7L264.22 110.6L261.32 113.5L258.42 110.6ZM258.42 110.6H264.22M261.32 107.7V113.5" stroke="#9999CC" stroke-width="1.0" fill="none"/>
<path d="M275.13 101.6L278.03 104.5L275.13 107.4L272.23 104.5ZM272.23 104.5H278.03M275.13 101.6V107.4" stroke="#CC6666" stroke-width="1.0" fill="none"/>
<path d="M283.37 106.1L286.27 109L283.37 111.9L280.47 109ZM280.47 109H286.27M283.37 106.1V111.9" stroke="#9999CC" stroke-width="1.0" fill="none"/>
<path d="M297.18 100.8L300.08 103.7L297.18 106.6L294.28 103.7ZM294.28 103.7H300.08M297.18 100.8V106.6" stroke="#CC6666" stroke-width="1.0" fill="none"/>
<path d="M305.42 104.2L308.32 107.1L305.42 110L302.52 107.1ZM302.52 107.1H308.32M305.42 104.2V110" stroke="#9999CC" stroke-width="1.0" fill="none"/>
<path d="M319.23 100.8L322.13 103.7L319.23 106.6L316.33 103.7ZM316.33 103.7H322.13M319.23 100.8V106.6" stroke="#CC6666" stroke-width="1.0" fill="none"/>
<path d="M327.47 104.8L330.37 107.7L327.47 110.6L324.57 107.7ZM324.57 107.7H330.37M327.47 104.8V110.6" stroke="#9999CC" stroke-width="1.0" fill="none"/>
<path d="M341.28 100.6L344.18 103.5L341.28 106.4L338.38 103.5ZM338.38 103.5H344.18M341.28 100.6V106.4" stroke="#CC6666" stroke-width="1.0" fill="none"/>
<path d="M349.52 104.8L352.42 107.7L349.52 110.6L346.62 107.7ZM346.62 107.7H352.42M349.52 104.8V110.6" stroke="#9999CC" stroke-width="1.0" fill="none"/>
<path d="M363.33 99.8L366.23 102.7L363.33 105.6L360.43 102.7ZM360.43 102.7H366.23M363.33 99.8V105.6" stroke="#CC6666" stroke-width="1.0" fill="none"/>
<path d="M371.57 104.2L374.47 107.1L371.57 110L368.67 107.1ZM368.67 107.1H374.47M371.57 104.2V110" stroke="#9999CC" stroke-width="1.0" fill="none"/>
<path d="M385.38 99.3L388.28 102.2L385.38 105.1L382.48 102.2ZM382.48 102.2H388.28M385.38 99.3V105.1" stroke="#CC6666" stroke-width="1.0" fill="none"/>
<path d="M393.62 105.6L396.52 108.5L393.62 111.4L390.72 108.5ZM390.72 108.5H396.52M393.62 105.6V111.4" stroke="#9999CC" stroke-width="1.0" fill="none"/>
<path d="M407.43 99.6L410.33 102.5L407.43 105.4L404.53 102.5ZM404.53 102.5H410.33M407.43 99.6V105.4" stroke="#CC6666" stroke-width="1.0" fill="none"/>
<path d="M415.67 103.2L418.57 106.1L415.67 109L412.77 106.1ZM412.77 106.1H418.57M415.67 103.2V109" stroke="#9999CC" stroke-width="1.0" fill="none"/>
<path d="M429.48 98.7L432.38 101.6L429.48 104.5L426.58 101.6ZM426.58 101.6H432.38M429.48 98.7V104.5" stroke="#CC6666" stroke-width="1.0" fill="none"/>
<path d="M437.72 101.2L440.62 104.1L437.72 107L434.82 104.1ZM434.82 104.1H440.62M437.72 101.2V107" stroke="#9999CC" stroke-width="1.0" fill="none"/>
<path d="M451.53 98.7L454.43 101.6L451.53 104.5L448.63 101.6ZM448.63 101.6H454.43M451.53 98.7V104.5" stroke="#CC6666" stroke-width="1.0" fill="none"/>
<path d="M459.77 104.8L462.67 107.7L459.77 110.6L456.87 107.7ZM456.87 107.7H462.67M459.77 104.8V110.6" stroke="#9999CC" stroke-width="1.0" fill="none"/>
<path d="M473.58 99.3L476.48 102.2L473.58 105.1L470.68 102.2ZM470.68 102.2H476.48M473.58 99.3V105.1" stroke="#CC6666" stroke-width="1.0" fill="none"/>
<path d="M481.82 104.8L484.72 107.7L481.82 110.6L478.92 107.7ZM478.92 107.7H484.72M481.82 104.8V110.6" stroke="#9999CC" stroke-width="1.0" fill="none"/>
<path d="M495.63 98.7L498.53 101.6L495.63 104.5L492.73 101.6ZM492.73 101.6H498.53M495.63 98.7V104.5" stroke="#CC6666" stroke-width="1.0" fill="none"/>
<path d="M503.87 101.2L506.77 104.1L503.87 107L500.97 104.1ZM500.97 104.1H506.77M503.87 101.2V107" stroke="#9999CC" stroke-width="1.0" fill="none"/>
<path d="M517.68 98.3L520.58 101.2L517.68 104.1L514.78 101.2ZM514.78 101.2H520.58M517.68 98.3V104.1" stroke="#CC6666" stroke-width="1.0" fill="none"/>
<path d="M525.92 103.2L528.82 106.1L525.92 109L523.02 106.1ZM523.02 106.1H528.82M525.92 103.2V109" stroke="#9999CC" stroke-width="1.0" fill="none"/>
<path d="M539.73 97.9L542.63 100.8L539.73 103.7L536.83 100.8ZM536.83 100.8H542.63M539.73 97.9V103.7" stroke="#CC6666" stroke-width="1.0" fill="none"/>
<path d="M547.97 102.2L550.87 105.1L547.97 108L545.07 105.1ZM545.07 105.1H550.87M547.97 102.2V108" stroke="#9999CC" stroke-width="1.0" fill="none"/>
<path d="M561.78 97.7L564.68 100.6L561.78 103.5L558.88 100.6ZM558.88 100.6H564.68M561.78 97.7V103.5" stroke="#CC6666" stroke-width="1.0" fill="none"/>
<path d="M570.02 102.6L572.92 105.5L570.02 108.4L567.12 105.5ZM567.12 105.5H572.92M570.02 102.6V108.4" stroke="#9999CC" stroke-width="1.0" fill="none"/>
<path d="M583.83 97.2L586.73 100.1L583.83 103L580.93 100.1ZM580.93 100.1H586.73M583.83 97.2V103" stroke="#CC6666" stroke-width="1.0" fill="none"/>
<path d="M592.07 101.3L594.97 104.2L592.07 107.1L589.17 104.2ZM589.17 104.2H594.97M592.07 101.3V107.1" stroke="#9999CC" stroke-width="1.0" fill="none"/>
<path d="M605.88 96.9L608.78 99.8L605.88 102.7L602.98 99.8ZM602.98 99.8H608.78M605.88 96.9V102.7" stroke="#CC6666" stroke-width="1.0" fill="none"/>
<path d="M614.12 102.4L617.02 105.3L614.12 108.2L611.22 105.3ZM611.22 105.3H617.02M614.12 102.4V108.2" stroke="#9999CC" stroke-width="1.0" fill="none"/>
<path d="M627.93 96.9L630.83 99.8L627.93 102.7L625.03 99.8ZM625.03 99.8H630.83M627.93 96.9V102.7" stroke="#CC6666" stroke-width="1.0" fill="none"/>
<path d="M636.17 104.5L639.07 107.4L636.17 110.3L633.27 107.4ZM633.27 107.4H639.07M636.17 104.5V110.3" stroke="#9999CC" stroke-width="1.0" fill="none"/>
</g>
<g clip-path="url(#c2)">
<path d="M76.68 183.8V184.4M76.68 185.4V186" stroke="#777777" stroke-width="0.9"/><rect x="72.56" y="184.4" width="8.24" height="1" fill="#F0BCBC" stroke="#777777" stroke-width="0.85"/><path d="M72.56 184.9H80.8" stroke="#333" stroke-width="1.05"/><circle cx="76.68" cy="186.2" r="1.25" fill="#111"/>
<path d="M84.92 183.8V184.4M84.92 185.4V186" stroke="#777777" stroke-width="0.9"/><rect x="80.8" y="184.4" width="8.24" height="1" fill="#D5D5F0" stroke="#777777" stroke-width="0.85"/><path d="M80.8 184.9H89.04" stroke="#333" stroke-width="1.05"/><circle cx="84.92" cy="186.2" r="1.25" fill="#111"/>
<path d="M98.73 169.8V174.4M98.73 178.7V181.6" stroke="#777777" stroke-width="0.9"/><rect x="94.61" y="174.4" width="8.24" height="4.3" fill="#F0BCBC" stroke="#777777" stroke-width="0.85"/><path d="M94.61 176.5H102.85" stroke="#333" stroke-width="1.05"/>
<path d="M106.97 170.4V174.4M106.97 178.7V181.6" stroke="#777777" stroke-width="0.9"/><rect x="102.85" y="174.4" width="8.24" height="4.3" fill="#D5D5F0" stroke="#777777" stroke-width="0.85"/><path d="M102.85 176.8H111.09" stroke="#333" stroke-width="1.05"/>
<path d="M120.78 168.92V170M120.78 172.4V173.48" stroke="#777777" stroke-width="0.9"/><rect x="116.66" y="170" width="8.24" height="2.4" fill="#F0BCBC" stroke="#777777" stroke-width="0.85"/><path d="M116.66 171.2H124.9" stroke="#333" stroke-width="1.05"/><circle cx="120.78" cy="166.9" r="1.25" fill="#111"/>
<path d="M129.02 170.03V171.2M129.02 173.8V174.97" stroke="#777777" stroke-width="0.9"/><rect x="124.9" y="171.2" width="8.24" height="2.6" fill="#D5D5F0" stroke="#777777" stroke-width="0.85"/><path d="M124.9 172.4H133.14" stroke="#333" stroke-width="1.05"/><circle cx="129.02" cy="167.8" r="1.25" fill="#111"/>
<path d="M142.83 166.5V167.1M142.83 167.9V168.5" stroke="#777777" stroke-width="0.9"/><rect x="138.71" y="167.1" width="8.24" height="0.8" fill="#F0BCBC" stroke="#777777" stroke-width="0.85"/><path d="M138.71 167.5H146.95" stroke="#333" stroke-width="1.05"/><circle cx="142.83" cy="164.9" r="1.25" fill="#111"/><circle cx="142.83" cy="170.4" r="1.25" fill="#111"/>
<path d="M151.07 168.9V169.8M151.07 171.8V172.7" stroke="#777777" stroke-width="0.9"/><rect x="146.95" y="169.8" width="8.24" height="2" fill="#D5D5F0" stroke="#777777" stroke-width="0.85"/><path d="M146.95 170.8H155.19" stroke="#333" stroke-width="1.05"/><circle cx="151.07" cy="174" r="1.25" fill="#111"/>
<path d="M164.88 161.6V162.5M164.88 164.5V165.4" stroke="#777777" stroke-width="0.9"/><rect x="160.76" y="162.5" width="8.24" height="2" fill="#F0BCBC" stroke="#777777" stroke-width="0.85"/><path d="M160.76 163.5H169" stroke="#333" stroke-width="1.05"/><circle cx="164.88" cy="169.4" r="1.25" fill="#111"/>
<path d="M173.12 163.75V165.5M173.12 169.4V172.4" stroke="#777777" stroke-width="0.9"/><rect x="169" y="165.5" width="8.24" height="3.9" fill="#D5D5F0" stroke="#777777" stroke-width="0.85"/><path d="M169 166.5H177.24" stroke="#333" stroke-width="1.05"/>
<path d="M186.93 161.15V162.5M186.93 165.5V168.8" stroke="#777777" stroke-width="0.9"/><rect x="182.81" y="162.5" width="8.24" height="3" fill="#F0BCBC" stroke="#777777" stroke-width="0.85"/><path d="M182.81 163.9H191.05" stroke="#333" stroke-width="1.05"/>
<path d="M195.17 161.84V164.5M195.17 170.4V174.7" stroke="#777777" stroke-width="0.9"/><rect x="191.05" y="164.5" width="8.24" height="5.9" fill="#D5D5F0" stroke="#777777" stroke-width="0.85"/><path d="M191.05 165.1H199.29" stroke="#333" stroke-width="1.05"/>
<path d="M208.98 160V160.6M208.98 161.5V162.1" stroke="#777777" stroke-width="0.9"/><rect x="204.86" y="160.6" width="8.24" height="0.9" fill="#F0BCBC" stroke="#777777" stroke-width="0.85"/><path d="M204.86 161H213.1" stroke="#333" stroke-width="1.05"/><circle cx="208.98" cy="166.3" r="1.25" fill="#111"/>
<path d="M217.22 160.55V163.3M217.22 169.4V170.4" stroke="#777777" stroke-width="0.9"/><rect x="213.1" y="163.3" width="8.24" height="6.1" fill="#D5D5F0" stroke="#777777" stroke-width="0.85"/><path d="M213.1 168.8H221.34" stroke="#333" stroke-width="1.05"/>
<path d="M231.03 159.4V160M231.03 161V161.6" stroke="#777777" stroke-width="0.9"/><rect x="226.91" y="160" width="8.24" height="1" fill="#F0BCBC" stroke="#777777" stroke-width="0.85"/><path d="M226.91 160.5H235.15" stroke="#333" stroke-width="1.05"/><circle cx="231.03" cy="165.5" r="1.25" fill="#111"/>
<path d="M239.27 160.82V163.3M239.27 168.8V171.27" stroke="#777777" stroke-width="0.9"/><rect x="235.15" y="163.3" width="8.24" height="5.5" fill="#D5D5F0" stroke="#777777" stroke-width="0.85"/><path d="M235.15 165.9H243.39" stroke="#333" stroke-width="1.05"/>
<path d="M253.08 158.8V159.4M253.08 160.6V161.2" stroke="#777777" stroke-width="0.9"/><rect x="248.96" y="159.4" width="8.24" height="1.2" fill="#F0BCBC" stroke="#777777" stroke-width="0.85"/><path d="M248.96 160H257.2" stroke="#333" stroke-width="1.05"/><circle cx="253.08" cy="165.3" r="1.25" fill="#111"/>
<path d="M261.32 160.37V163.3M261.32 169.8V172.72" stroke="#777777" stroke-width="0.9"/><rect x="257.2" y="163.3" width="8.24" height="6.5" fill="#D5D5F0" stroke="#777777" stroke-width="0.85"/><path d="M257.2 163.9H265.44" stroke="#333" stroke-width="1.05"/>
<path d="M275.13 157.1V158M275.13 160V161.9" stroke="#777777" stroke-width="0.9"/><rect x="271.01" y="158" width="8.24" height="2" fill="#F0BCBC" stroke="#777777" stroke-width="0.85"/><path d="M271.01 158.6H279.25" stroke="#333" stroke-width="1.05"/>
<path d="M283.37 161.31V162.3M283.37 164.5V165.49" stroke="#777777" stroke-width="0.9"/><rect x="279.25" y="162.3" width="8.24" height="2.2" fill="#D5D5F0" stroke="#777777" stroke-width="0.85"/><path d="M279.25 163.3H287.49" stroke="#333" stroke-width="1.05"/><circle cx="283.37" cy="169.2" r="1.25" fill="#111"/>
<path d="M297.18 156.28V157M297.18 158.6V159.32" stroke="#777777" stroke-width="0.9"/><rect x="293.06" y="157" width="8.24" height="1.6" fill="#F0BCBC" stroke="#777777" stroke-width="0.85"/><path d="M293.06 157.6H301.3" stroke="#333" stroke-width="1.05"/><circle cx="297.18" cy="161.5" r="1.25" fill="#111"/>
<path d="M305.42 158.1V160.4M305.42 165.5V167.8" stroke="#777777" stroke-width="0.9"/><rect x="301.3" y="160.4" width="8.24" height="5.1" fill="#D5D5F0" stroke="#777777" stroke-width="0.85"/><path d="M301.3 163.3H309.54" stroke="#333" stroke-width="1.05"/>
<path d="M319.23 155.4V156M319.23 157V157.6" stroke="#777777" stroke-width="0.9"/><rect x="315.11" y="156" width="8.24" height="1" fill="#F0BCBC" stroke="#777777" stroke-width="0.85"/><path d="M315.11 156.5H323.35" stroke="#333" stroke-width="1.05"/><circle cx="319.23" cy="161.3" r="1.25" fill="#111"/>
<path d="M327.47 160.87V161.5M327.47 162.9V163.53" stroke="#777777" stroke-width="0.9"/><rect x="323.35" y="161.5" width="8.24" height="1.4" fill="#D5D5F0" stroke="#777777" stroke-width="0.85"/><path d="M323.35 162.3H331.59" stroke="#333" stroke-width="1.05"/><circle cx="327.47" cy="166.3" r="1.25" fill="#111"/>
<path d="M341.28 154.6V155.2M341.28 156V156.6" stroke="#777777" stroke-width="0.9"/><rect x="337.16" y="155.2" width="8.24" height="0.8" fill="#F0BCBC" stroke="#777777" stroke-width="0.85"/><path d="M337.16 155.6H345.4" stroke="#333" stroke-width="1.05"/><circle cx="341.28" cy="159.6" r="1.25" fill="#111"/>
<path d="M349.52 157.55V159.4M349.52 163.5V164.3" stroke="#777777" stroke-width="0.9"/><rect x="345.4" y="159.4" width="8.24" height="4.1" fill="#D5D5F0" stroke="#777777" stroke-width="0.85"/><path d="M345.4 161.9H353.64" stroke="#333" stroke-width="1.05"/>
<path d="M363.33 154.4V155M363.33 155.8V156.4" stroke="#777777" stroke-width="0.9"/><rect x="359.21" y="155" width="8.24" height="0.8" fill="#F0BCBC" stroke="#777777" stroke-width="0.85"/><path d="M359.21 155.4H367.45" stroke="#333" stroke-width="1.05"/><circle cx="363.33" cy="159" r="1.25" fill="#111"/>
<path d="M371.57 156.97V159M371.57 163.5V165.53" stroke="#777777" stroke-width="0.9"/><rect x="367.45" y="159" width="8.24" height="4.5" fill="#D5D5F0" stroke="#777777" stroke-width="0.85"/><path d="M367.45 161.5H375.69" stroke="#333" stroke-width="1.05"/>
<path d="M385.38 154V154.6M385.38 155.4V156" stroke="#777777" stroke-width="0.9"/><rect x="381.26" y="154.6" width="8.24" height="0.8" fill="#F0BCBC" stroke="#777777" stroke-width="0.85"/><path d="M381.26 155H389.5" stroke="#333" stroke-width="1.05"/><circle cx="385.38" cy="159" r="1.25" fill="#111"/>
<path d="M393.62 158.09V159.4M393.62 162.3V163.6" stroke="#777777" stroke-width="0.9"/><rect x="389.5" y="159.4" width="8.24" height="2.9" fill="#D5D5F0" stroke="#777777" stroke-width="0.85"/><path d="M389.5 161H397.74" stroke="#333" stroke-width="1.05"/>
<path d="M407.43 154V154.6M407.43 155.4V156" stroke="#777777" stroke-width="0.9"/><rect x="403.31" y="154.6" width="8.24" height="0.8" fill="#F0BCBC" stroke="#777777" stroke-width="0.85"/><path d="M403.31 155H411.55" stroke="#333" stroke-width="1.05"/><circle cx="407.43" cy="159.4" r="1.25" fill="#111"/>
<path d="M415.67 157.25V159M415.67 162.9V164.65" stroke="#777777" stroke-width="0.9"/><rect x="411.55" y="159" width="8.24" height="3.9" fill="#D5D5F0" stroke="#777777" stroke-width="0.85"/><path d="M411.55 161H419.79" stroke="#333" stroke-width="1.05"/>
<path d="M429.48 153.4V154M429.48 154.8V155.4" stroke="#777777" stroke-width="0.9"/><rect x="425.36" y="154" width="8.24" height="0.8" fill="#F0BCBC" stroke="#777777" stroke-width="0.85"/><path d="M425.36 154.4H433.6" stroke="#333" stroke-width="1.05"/><circle cx="429.48" cy="161" r="1.25" fill="#111"/>
<path d="M437.72 154.97V157M437.72 161.5V163.53" stroke="#777777" stroke-width="0.9"/><rect x="433.6" y="157" width="8.24" height="4.5" fill="#D5D5F0" stroke="#777777" stroke-width="0.85"/><path d="M433.6 159H441.84" stroke="#333" stroke-width="1.05"/>
<path d="M451.53 153.4V154M451.53 154.8V155.4" stroke="#777777" stroke-width="0.9"/><rect x="447.41" y="154" width="8.24" height="0.8" fill="#F0BCBC" stroke="#777777" stroke-width="0.85"/><path d="M447.41 154.4H455.65" stroke="#333" stroke-width="1.05"/><circle cx="451.53" cy="160.6" r="1.25" fill="#111"/>
<path d="M459.77 156.7V157.6M459.77 159.6V163.9" stroke="#777777" stroke-width="0.9"/><rect x="455.65" y="157.6" width="8.24" height="2" fill="#D5D5F0" stroke="#777777" stroke-width="0.85"/><path d="M455.65 158.4H463.89" stroke="#333" stroke-width="1.05"/>
<path d="M473.58 152.1V152.7M473.58 153.5V154.1" stroke="#777777" stroke-width="0.9"/><rect x="469.46" y="152.7" width="8.24" height="0.8" fill="#F0BCBC" stroke="#777777" stroke-width="0.85"/><path d="M469.46 153.1H477.7" stroke="#333" stroke-width="1.05"/><circle cx="473.58" cy="159" r="1.25" fill="#111"/>
<path d="M481.82 155.65V157M481.82 160V161.35" stroke="#777777" stroke-width="0.9"/><rect x="477.7" y="157" width="8.24" height="3" fill="#D5D5F0" stroke="#777777" stroke-width="0.85"/><path d="M477.7 158.4H485.94" stroke="#333" stroke-width="1.05"/>
<path d="M495.63 152.1V152.7M495.63 153.5V154.1" stroke="#777777" stroke-width="0.9"/><rect x="491.51" y="152.7" width="8.24" height="0.8" fill="#F0BCBC" stroke="#777777" stroke-width="0.85"/><path d="M491.51 153.1H499.75" stroke="#333" stroke-width="1.05"/><circle cx="495.63" cy="158.4" r="1.25" fill="#111"/>
<path d="M503.87 154.05V155.4M503.87 158.4V160.4" stroke="#777777" stroke-width="0.9"/><rect x="499.75" y="155.4" width="8.24" height="3" fill="#D5D5F0" stroke="#777777" stroke-width="0.85"/><path d="M499.75 157H507.99" stroke="#333" stroke-width="1.05"/>
<path d="M517.68 152.1V152.7M517.68 153.5V154.1" stroke="#777777" stroke-width="0.9"/><rect x="513.56" y="152.7" width="8.24" height="0.8" fill="#F0BCBC" stroke="#777777" stroke-width="0.85"/><path d="M513.56 153.1H521.8" stroke="#333" stroke-width="1.05"/><circle cx="517.68" cy="158.4" r="1.25" fill="#111"/>
<path d="M525.92 153.78V155.4M525.92 159V161.9" stroke="#777777" stroke-width="0.9"/><rect x="521.8" y="155.4" width="8.24" height="3.6" fill="#D5D5F0" stroke="#777777" stroke-width="0.85"/><path d="M521.8 157.2H530.04" stroke="#333" stroke-width="1.05"/>
<path d="M539.73 152.1V152.7M539.73 153.5V154.1" stroke="#777777" stroke-width="0.9"/><rect x="535.61" y="152.7" width="8.24" height="0.8" fill="#F0BCBC" stroke="#777777" stroke-width="0.85"/><path d="M535.61 153.1H543.85" stroke="#333" stroke-width="1.05"/><circle cx="539.73" cy="159" r="1.25" fill="#111"/>
<path d="M547.97 153.65V155M547.97 158V160" stroke="#777777" stroke-width="0.9"/><rect x="543.85" y="155" width="8.24" height="3" fill="#D5D5F0" stroke="#777777" stroke-width="0.85"/><path d="M543.85 156.6H552.09" stroke="#333" stroke-width="1.05"/>
<path d="M561.78 152.1V152.7M561.78 153.5V154.1" stroke="#777777" stroke-width="0.9"/><rect x="557.66" y="152.7" width="8.24" height="0.8" fill="#F0BCBC" stroke="#777777" stroke-width="0.85"/><path d="M557.66 153.1H565.9" stroke="#333" stroke-width="1.05"/><circle cx="561.78" cy="158.8" r="1.25" fill="#111"/>
<path d="M570.02 153.88V155.5M570.02 159.1V160.72" stroke="#777777" stroke-width="0.9"/><rect x="565.9" y="155.5" width="8.24" height="3.6" fill="#D5D5F0" stroke="#777777" stroke-width="0.85"/><path d="M565.9 157.7H574.14" stroke="#333" stroke-width="1.05"/>
<path d="M583.83 151.6V152.2M583.83 153V153.6" stroke="#777777" stroke-width="0.9"/><rect x="579.71" y="152.2" width="8.24" height="0.8" fill="#F0BCBC" stroke="#777777" stroke-width="0.85"/><path d="M579.71 152.6H587.95" stroke="#333" stroke-width="1.05"/><circle cx="583.83" cy="158" r="1.25" fill="#111"/>
<path d="M592.07 156.06V157.5M592.07 160.7V162.14" stroke="#777777" stroke-width="0.9"/><rect x="587.95" y="157.5" width="8.24" height="3.2" fill="#D5D5F0" stroke="#777777" stroke-width="0.85"/><path d="M587.95 159.9H596.19" stroke="#333" stroke-width="1.05"/>
<path d="M605.88 152.1V152.7M605.88 153.5V154.1" stroke="#777777" stroke-width="0.9"/><rect x="601.76" y="152.7" width="8.24" height="0.8" fill="#F0BCBC" stroke="#777777" stroke-width="0.85"/><path d="M601.76 153.1H610" stroke="#333" stroke-width="1.05"/><circle cx="605.88" cy="158.3" r="1.25" fill="#111"/>
<path d="M614.12 154.46V156.4M614.12 160.7V162.63" stroke="#777777" stroke-width="0.9"/><rect x="610" y="156.4" width="8.24" height="4.3" fill="#D5D5F0" stroke="#777777" stroke-width="0.85"/><path d="M610 157.2H618.24" stroke="#333" stroke-width="1.05"/>
<path d="M627.93 152.5V153.1M627.93 153.9V154.5" stroke="#777777" stroke-width="0.9"/><rect x="623.81" y="153.1" width="8.24" height="0.8" fill="#F0BCBC" stroke="#777777" stroke-width="0.85"/><path d="M623.81 153.5H632.05" stroke="#333" stroke-width="1.05"/><circle cx="627.93" cy="158" r="1.25" fill="#111"/>
<path d="M636.17 157.06V158M636.17 160.1V161.04" stroke="#777777" stroke-width="0.9"/><rect x="632.05" y="158" width="8.24" height="2.1" fill="#D5D5F0" stroke="#777777" stroke-width="0.85"/><path d="M632.05 159.1H640.29" stroke="#333" stroke-width="1.05"/>
<path d="M76.68 178.2L79.58 181.1L76.68 184L73.78 181.1ZM73.78 181.1H79.58M76.68 178.2V184" stroke="#CC6666" stroke-width="1.0" fill="none"/>
<path d="M84.92 178.2L87.82 181.1L84.92 184L82.02 181.1ZM82.02 181.1H87.82M84.92 178.2V184" stroke="#9999CC" stroke-width="1.0" fill="none"/>
<path d="M98.73 161.6L101.63 164.5L98.73 167.4L95.83 164.5ZM95.83 164.5H101.63M98.73 161.6V167.4" stroke="#CC6666" stroke-width="1.0" fill="none"/>
<path d="M106.97 162.4L109.87 165.3L106.97 168.2L104.07 165.3ZM104.07 165.3H109.87M106.97 162.4V168.2" stroke="#9999CC" stroke-width="1.0" fill="none"/>
<path d="M120.78 158.1L123.68 161L120.78 163.9L117.88 161ZM117.88 161H123.68M120.78 158.1V163.9" stroke="#CC6666" stroke-width="1.0" fill="none"/>
<path d="M129.02 161L131.92 163.9L129.02 166.8L126.12 163.9ZM126.12 163.9H131.92M129.02 161V166.8" stroke="#9999CC" stroke-width="1.0" fill="none"/>
<path d="M142.83 156.7L145.73 159.6L142.83 162.5L139.93 159.6ZM139.93 159.6H145.73M142.83 156.7V162.5" stroke="#CC6666" stroke-width="1.0" fill="none"/>
<path d="M151.07 161L153.97 163.9L151.07 166.8L148.17 163.9ZM148.17 163.9H153.97M151.07 161V166.8" stroke="#9999CC" stroke-width="1.0" fill="none"/>
<path d="M164.88 158.1L167.78 161L164.88 163.9L161.98 161ZM161.98 161H167.78M164.88 158.1V163.9" stroke="#CC6666" stroke-width="1.0" fill="none"/>
<path d="M173.12 161L176.02 163.9L173.12 166.8L170.22 163.9ZM170.22 163.9H176.02M173.12 161V166.8" stroke="#9999CC" stroke-width="1.0" fill="none"/>
<path d="M186.93 156.5L189.83 159.4L186.93 162.3L184.03 159.4ZM184.03 159.4H189.83M186.93 156.5V162.3" stroke="#CC6666" stroke-width="1.0" fill="none"/>
<path d="M195.17 158.1L198.07 161L195.17 163.9L192.27 161ZM192.27 161H198.07M195.17 158.1V163.9" stroke="#9999CC" stroke-width="1.0" fill="none"/>
<path d="M208.98 154.5L211.88 157.4L208.98 160.3L206.08 157.4ZM206.08 157.4H211.88M208.98 154.5V160.3" stroke="#CC6666" stroke-width="1.0" fill="none"/>
<path d="M217.22 156.5L220.12 159.4L217.22 162.3L214.32 159.4ZM214.32 159.4H220.12M217.22 156.5V162.3" stroke="#9999CC" stroke-width="1.0" fill="none"/>
<path d="M231.03 154.1L233.93 157L231.03 159.9L228.13 157ZM228.13 157H233.93M231.03 154.1V159.9" stroke="#CC6666" stroke-width="1.0" fill="none"/>
<path d="M239.27 156.7L242.17 159.6L239.27 162.5L236.37 159.6ZM236.37 159.6H242.17M239.27 156.7V162.5" stroke="#9999CC" stroke-width="1.0" fill="none"/>
<path d="M253.08 153.5L255.98 156.4L253.08 159.3L250.18 156.4ZM250.18 156.4H255.98M253.08 153.5V159.3" stroke="#CC6666" stroke-width="1.0" fill="none"/>
<path d="M261.32 157.5L264.22 160.4L261.32 163.3L258.42 160.4ZM258.42 160.4H264.22M261.32 157.5V163.3" stroke="#9999CC" stroke-width="1.0" fill="none"/>
<path d="M275.13 151.5L278.03 154.4L275.13 157.3L272.23 154.4ZM272.23 154.4H278.03M275.13 151.5V157.3" stroke="#CC6666" stroke-width="1.0" fill="none"/>
<path d="M283.37 156.1L286.27 159L283.37 161.9L280.47 159ZM280.47 159H286.27M283.37 156.1V161.9" stroke="#9999CC" stroke-width="1.0" fill="none"/>
<path d="M297.18 150.8L300.08 153.7L297.18 156.6L294.28 153.7ZM294.28 153.7H300.08M297.18 150.8V156.6" stroke="#CC6666" stroke-width="1.0" fill="none"/>
<path d="M305.42 154.1L308.32 157L305.42 159.9L302.52 157ZM302.52 157H308.32M305.42 154.1V159.9" stroke="#9999CC" stroke-width="1.0" fill="none"/>
<path d="M319.23 150.6L322.13 153.5L319.23 156.4L316.33 153.5ZM316.33 153.5H322.13M319.23 150.6V156.4" stroke="#CC6666" stroke-width="1.0" fill="none"/>
<path d="M327.47 154.7L330.37 157.6L327.47 160.5L324.57 157.6ZM324.57 157.6H330.37M327.47 154.7V160.5" stroke="#9999CC" stroke-width="1.0" fill="none"/>
<path d="M341.28 150.2L344.18 153.1L341.28 156L338.38 153.1ZM338.38 153.1H344.18M341.28 150.2V156" stroke="#CC6666" stroke-width="1.0" fill="none"/>
<path d="M349.52 154.7L352.42 157.6L349.52 160.5L346.62 157.6ZM346.62 157.6H352.42M349.52 154.7V160.5" stroke="#9999CC" stroke-width="1.0" fill="none"/>
<path d="M363.33 149.8L366.23 152.7L363.33 155.6L360.43 152.7ZM360.43 152.7H366.23M363.33 149.8V155.6" stroke="#CC6666" stroke-width="1.0" fill="none"/>
<path d="M371.57 154.1L374.47 157L371.57 159.9L368.67 157ZM368.67 157H374.47M371.57 154.1V159.9" stroke="#9999CC" stroke-width="1.0" fill="none"/>
<path d="M385.38 149.2L388.28 152.1L385.38 155L382.48 152.1ZM382.48 152.1H388.28M385.38 149.2V155" stroke="#CC6666" stroke-width="1.0" fill="none"/>
<path d="M393.62 155.1L396.52 158L393.62 160.9L390.72 158ZM390.72 158H396.52M393.62 155.1V160.9" stroke="#9999CC" stroke-width="1.0" fill="none"/>
<path d="M407.43 149.2L410.33 152.1L407.43 155L404.53 152.1ZM404.53 152.1H410.33M407.43 149.2V155" stroke="#CC6666" stroke-width="1.0" fill="none"/>
<path d="M415.67 152.7L418.57 155.6L415.67 158.5L412.77 155.6ZM412.77 155.6H418.57M415.67 152.7V158.5" stroke="#9999CC" stroke-width="1.0" fill="none"/>
<path d="M429.48 148.2L432.38 151.1L429.48 154L426.58 151.1ZM426.58 151.1H432.38M429.48 148.2V154" stroke="#CC6666" stroke-width="1.0" fill="none"/>
<path d="M437.72 150.8L440.62 153.7L437.72 156.6L434.82 153.7ZM434.82 153.7H440.62M437.72 150.8V156.6" stroke="#9999CC" stroke-width="1.0" fill="none"/>
<path d="M451.53 148.2L454.43 151.1L451.53 154L448.63 151.1ZM448.63 151.1H454.43M451.53 148.2V154" stroke="#CC6666" stroke-width="1.0" fill="none"/>
<path d="M459.77 154.1L462.67 157L459.77 159.9L456.87 157ZM456.87 157H462.67M459.77 154.1V159.9" stroke="#9999CC" stroke-width="1.0" fill="none"/>
<path d="M473.58 148.6L476.48 151.5L473.58 154.4L470.68 151.5ZM470.68 151.5H476.48M473.58 148.6V154.4" stroke="#CC6666" stroke-width="1.0" fill="none"/>
<path d="M481.82 154.5L484.72 157.4L481.82 160.3L478.92 157.4ZM478.92 157.4H484.72M481.82 154.5V160.3" stroke="#9999CC" stroke-width="1.0" fill="none"/>
<path d="M495.63 148.2L498.53 151.1L495.63 154L492.73 151.1ZM492.73 151.1H498.53M495.63 148.2V154" stroke="#CC6666" stroke-width="1.0" fill="none"/>
<path d="M503.87 151.2L506.77 154.1L503.87 157L500.97 154.1ZM500.97 154.1H506.77M503.87 151.2V157" stroke="#9999CC" stroke-width="1.0" fill="none"/>
<path d="M517.68 147.8L520.58 150.7L517.68 153.6L514.78 150.7ZM514.78 150.7H520.58M517.68 147.8V153.6" stroke="#CC6666" stroke-width="1.0" fill="none"/>
<path d="M525.92 152.7L528.82 155.6L525.92 158.5L523.02 155.6ZM523.02 155.6H528.82M525.92 152.7V158.5" stroke="#9999CC" stroke-width="1.0" fill="none"/>
<path d="M539.73 147.6L542.63 150.5L539.73 153.4L536.83 150.5ZM536.83 150.5H542.63M539.73 147.6V153.4" stroke="#CC6666" stroke-width="1.0" fill="none"/>
<path d="M547.97 151.5L550.87 154.4L547.97 157.3L545.07 154.4ZM545.07 154.4H550.87M547.97 151.5V157.3" stroke="#9999CC" stroke-width="1.0" fill="none"/>
<path d="M561.78 147.8L564.68 150.7L561.78 153.6L558.88 150.7ZM558.88 150.7H564.68M561.78 147.8V153.6" stroke="#CC6666" stroke-width="1.0" fill="none"/>
<path d="M570.02 152.3L572.92 155.2L570.02 158.1L567.12 155.2ZM567.12 155.2H572.92M570.02 152.3V158.1" stroke="#9999CC" stroke-width="1.0" fill="none"/>
<path d="M583.83 146.7L586.73 149.6L583.83 152.5L580.93 149.6ZM580.93 149.6H586.73M583.83 146.7V152.5" stroke="#CC6666" stroke-width="1.0" fill="none"/>
<path d="M592.07 151L594.97 153.9L592.07 156.8L589.17 153.9ZM589.17 153.9H594.97M592.07 151V156.8" stroke="#9999CC" stroke-width="1.0" fill="none"/>
<path d="M605.88 147L608.78 149.9L605.88 152.8L602.98 149.9ZM602.98 149.9H608.78M605.88 147V152.8" stroke="#CC6666" stroke-width="1.0" fill="none"/>
<path d="M614.12 151.8L617.02 154.7L614.12 157.6L611.22 154.7ZM611.22 154.7H617.02M614.12 151.8V157.6" stroke="#9999CC" stroke-width="1.0" fill="none"/>
<path d="M627.93 146.7L630.83 149.6L627.93 152.5L625.03 149.6ZM625.03 149.6H630.83M627.93 146.7V152.5" stroke="#CC6666" stroke-width="1.0" fill="none"/>
<path d="M636.17 153.9L639.07 156.8L636.17 159.7L633.27 156.8ZM633.27 156.8H639.07M636.17 153.9V159.7" stroke="#9999CC" stroke-width="1.0" fill="none"/>
</g>
<g clip-path="url(#c3)">
<path d="M76.68 233.7V234.3M76.68 235.2V235.8" stroke="#777777" stroke-width="0.9"/><rect x="72.56" y="234.3" width="8.24" height="0.9" fill="#F0BCBC" stroke="#777777" stroke-width="0.85"/><path d="M72.56 234.7H80.8" stroke="#333" stroke-width="1.05"/>
<path d="M84.92 233.7V234.3M84.92 235.2V235.8" stroke="#777777" stroke-width="0.9"/><rect x="80.8" y="234.3" width="8.24" height="0.9" fill="#D5D5F0" stroke="#777777" stroke-width="0.85"/><path d="M80.8 234.7H89.04" stroke="#333" stroke-width="1.05"/>
<path d="M98.73 221.5V224.8M98.73 228.4V230.7" stroke="#777777" stroke-width="0.9"/><rect x="94.61" y="224.8" width="8.24" height="3.6" fill="#F0BCBC" stroke="#777777" stroke-width="0.85"/><path d="M94.61 226.8H102.85" stroke="#333" stroke-width="1.05"/>
<path d="M106.97 221.5V224.8M106.97 228.4V230.7" stroke="#777777" stroke-width="0.9"/><rect x="102.85" y="224.8" width="8.24" height="3.6" fill="#D5D5F0" stroke="#777777" stroke-width="0.85"/><path d="M102.85 226.4H111.09" stroke="#333" stroke-width="1.05"/>
<path d="M120.78 219.9V220.5M120.78 221.5V222.1" stroke="#777777" stroke-width="0.9"/><rect x="116.66" y="220.5" width="8.24" height="1" fill="#F0BCBC" stroke="#777777" stroke-width="0.85"/><path d="M116.66 221H124.9" stroke="#333" stroke-width="1.05"/><circle cx="120.78" cy="216" r="1.25" fill="#111"/>
<path d="M129.02 221.17V221.8M129.02 223.2V223.83" stroke="#777777" stroke-width="0.9"/><rect x="124.9" y="221.8" width="8.24" height="1.4" fill="#D5D5F0" stroke="#777777" stroke-width="0.85"/><path d="M124.9 222.5H133.14" stroke="#333" stroke-width="1.05"/><circle cx="129.02" cy="216.5" r="1.25" fill="#111"/>
<path d="M142.83 215.4V216M142.83 217.3V217.9" stroke="#777777" stroke-width="0.9"/><rect x="138.71" y="216" width="8.24" height="1.3" fill="#F0BCBC" stroke="#777777" stroke-width="0.85"/><path d="M138.71 216.6H146.95" stroke="#333" stroke-width="1.05"/>
<path d="M151.07 218V218.9M151.07 220.9V221.8" stroke="#777777" stroke-width="0.9"/><rect x="146.95" y="218.9" width="8.24" height="2" fill="#D5D5F0" stroke="#777777" stroke-width="0.85"/><path d="M146.95 219.9H155.19" stroke="#333" stroke-width="1.05"/><circle cx="151.07" cy="223.2" r="1.25" fill="#111"/>
<path d="M164.88 211.7V212.6M164.88 214.6V216.9" stroke="#777777" stroke-width="0.9"/><rect x="160.76" y="212.6" width="8.24" height="2" fill="#F0BCBC" stroke="#777777" stroke-width="0.85"/><path d="M160.76 213.4H169" stroke="#333" stroke-width="1.05"/>
<path d="M173.12 214.25V216M173.12 219.9V221.66" stroke="#777777" stroke-width="0.9"/><rect x="169" y="216" width="8.24" height="3.9" fill="#D5D5F0" stroke="#777777" stroke-width="0.85"/><path d="M169 216.9H177.24" stroke="#333" stroke-width="1.05"/>
<path d="M186.93 210.65V212M186.93 215V218.5" stroke="#777777" stroke-width="0.9"/><rect x="182.81" y="212" width="8.24" height="3" fill="#F0BCBC" stroke="#777777" stroke-width="0.85"/><path d="M182.81 213H191.05" stroke="#333" stroke-width="1.05"/>
<path d="M195.17 212.53V215M195.17 220.5V223.8" stroke="#777777" stroke-width="0.9"/><rect x="191.05" y="215" width="8.24" height="5.5" fill="#D5D5F0" stroke="#777777" stroke-width="0.85"/><path d="M191.05 216H199.29" stroke="#333" stroke-width="1.05"/>
<path d="M208.98 209.1V210M208.98 212V212.9" stroke="#777777" stroke-width="0.9"/><rect x="204.86" y="210" width="8.24" height="2" fill="#F0BCBC" stroke="#777777" stroke-width="0.85"/><path d="M204.86 211H213.1" stroke="#333" stroke-width="1.05"/><circle cx="208.98" cy="215.9" r="1.25" fill="#111"/>
<path d="M217.22 210.66V213.4M217.22 219.5V222.25" stroke="#777777" stroke-width="0.9"/><rect x="213.1" y="213.4" width="8.24" height="6.1" fill="#D5D5F0" stroke="#777777" stroke-width="0.85"/><path d="M213.1 218.5H221.34" stroke="#333" stroke-width="1.05"/>
<path d="M231.03 208.79V209.6M231.03 211.4V212.21" stroke="#777777" stroke-width="0.9"/><rect x="226.91" y="209.6" width="8.24" height="1.8" fill="#F0BCBC" stroke="#777777" stroke-width="0.85"/><path d="M226.91 210.5H235.15" stroke="#333" stroke-width="1.05"/><circle cx="231.03" cy="215.3" r="1.25" fill="#111"/>
<path d="M239.27 212.56V214.4M239.27 218.5V220.34" stroke="#777777" stroke-width="0.9"/><rect x="235.15" y="214.4" width="8.24" height="4.1" fill="#D5D5F0" stroke="#777777" stroke-width="0.85"/><path d="M235.15 215H243.39" stroke="#333" stroke-width="1.05"/>
<path d="M253.08 208.1V209M253.08 211V211.9" stroke="#777777" stroke-width="0.9"/><rect x="248.96" y="209" width="8.24" height="2" fill="#F0BCBC" stroke="#777777" stroke-width="0.85"/><path d="M248.96 210H257.2" stroke="#333" stroke-width="1.05"/><circle cx="253.08" cy="214.6" r="1.25" fill="#111"/>
<path d="M261.32 212.97V215M261.32 219.5V221.53" stroke="#777777" stroke-width="0.9"/><rect x="257.2" y="215" width="8.24" height="4.5" fill="#D5D5F0" stroke="#777777" stroke-width="0.85"/><path d="M257.2 215.4H265.44" stroke="#333" stroke-width="1.05"/>
<path d="M275.13 207.1V208M275.13 210V210.9" stroke="#777777" stroke-width="0.9"/><rect x="271.01" y="208" width="8.24" height="2" fill="#F0BCBC" stroke="#777777" stroke-width="0.85"/><path d="M271.01 209H279.25" stroke="#333" stroke-width="1.05"/>
<path d="M283.37 212.28V213M283.37 214.6V215.32" stroke="#777777" stroke-width="0.9"/><rect x="279.25" y="213" width="8.24" height="1.6" fill="#D5D5F0" stroke="#777777" stroke-width="0.85"/><path d="M279.25 213.8H287.49" stroke="#333" stroke-width="1.05"/><circle cx="283.37" cy="218.9" r="1.25" fill="#111"/>
<path d="M297.18 205.92V207M297.18 209.4V210.48" stroke="#777777" stroke-width="0.9"/><rect x="293.06" y="207" width="8.24" height="2.4" fill="#F0BCBC" stroke="#777777" stroke-width="0.85"/><path d="M293.06 208.2H301.3" stroke="#333" stroke-width="1.05"/>
<path d="M305.42 207.62V210M305.42 215.3V217.69" stroke="#777777" stroke-width="0.9"/><rect x="301.3" y="210" width="8.24" height="5.3" fill="#D5D5F0" stroke="#777777" stroke-width="0.85"/><path d="M301.3 213H309.54" stroke="#333" stroke-width="1.05"/>
<path d="M319.23 204.92V206M319.23 208.4V209.48" stroke="#777777" stroke-width="0.9"/><rect x="315.11" y="206" width="8.24" height="2.4" fill="#F0BCBC" stroke="#777777" stroke-width="0.85"/><path d="M315.11 207.2H323.35" stroke="#333" stroke-width="1.05"/>
<path d="M327.47 211.4V212M327.47 213V213.6" stroke="#777777" stroke-width="0.9"/><rect x="323.35" y="212" width="8.24" height="1" fill="#D5D5F0" stroke="#777777" stroke-width="0.85"/><path d="M323.35 212.5H331.59" stroke="#333" stroke-width="1.05"/><circle cx="327.47" cy="216.3" r="1.25" fill="#111"/>
<path d="M341.28 204.2V205.1M341.28 207.1V208" stroke="#777777" stroke-width="0.9"/><rect x="337.16" y="205.1" width="8.24" height="2" fill="#F0BCBC" stroke="#777777" stroke-width="0.85"/><path d="M337.16 205.7H345.4" stroke="#333" stroke-width="1.05"/>
<path d="M349.52 207.38V209M349.52 212.6V214.22" stroke="#777777" stroke-width="0.9"/><rect x="345.4" y="209" width="8.24" height="3.6" fill="#D5D5F0" stroke="#777777" stroke-width="0.85"/><path d="M345.4 211H353.64" stroke="#333" stroke-width="1.05"/>
<path d="M363.33 204.02V205.1M363.33 207.5V208.58" stroke="#777777" stroke-width="0.9"/><rect x="359.21" y="205.1" width="8.24" height="2.4" fill="#F0BCBC" stroke="#777777" stroke-width="0.85"/><path d="M359.21 206.1H367.45" stroke="#333" stroke-width="1.05"/>
<path d="M371.57 207.2V209M371.57 213V214.8" stroke="#777777" stroke-width="0.9"/><rect x="367.45" y="209" width="8.24" height="4" fill="#D5D5F0" stroke="#777777" stroke-width="0.85"/><path d="M367.45 210.4H375.69" stroke="#333" stroke-width="1.05"/>
<path d="M385.38 202.93V204.1M385.38 206.7V207.87" stroke="#777777" stroke-width="0.9"/><rect x="381.26" y="204.1" width="8.24" height="2.6" fill="#F0BCBC" stroke="#777777" stroke-width="0.85"/><path d="M381.26 205.1H389.5" stroke="#333" stroke-width="1.05"/>
<path d="M393.62 207.65V209M393.62 212V213.35" stroke="#777777" stroke-width="0.9"/><rect x="389.5" y="209" width="8.24" height="3" fill="#D5D5F0" stroke="#777777" stroke-width="0.85"/><path d="M389.5 210H397.74" stroke="#333" stroke-width="1.05"/>
<path d="M407.43 202.93V204.1M407.43 206.7V207.87" stroke="#777777" stroke-width="0.9"/><rect x="403.31" y="204.1" width="8.24" height="2.6" fill="#F0BCBC" stroke="#777777" stroke-width="0.85"/><path d="M403.31 205.5H411.55" stroke="#333" stroke-width="1.05"/>
<path d="M415.67 206.02V208M415.67 212.4V214.38" stroke="#777777" stroke-width="0.9"/><rect x="411.55" y="208" width="8.24" height="4.4" fill="#D5D5F0" stroke="#777777" stroke-width="0.85"/><path d="M411.55 210H419.79" stroke="#333" stroke-width="1.05"/>
<path d="M429.48 200.72V202.7M429.48 207.1V209.08" stroke="#777777" stroke-width="0.9"/><rect x="425.36" y="202.7" width="8.24" height="4.4" fill="#F0BCBC" stroke="#777777" stroke-width="0.85"/><path d="M425.36 204.1H433.6" stroke="#333" stroke-width="1.05"/>
<path d="M437.72 205.16V207.1M437.72 211.4V213.34" stroke="#777777" stroke-width="0.9"/><rect x="433.6" y="207.1" width="8.24" height="4.3" fill="#D5D5F0" stroke="#777777" stroke-width="0.85"/><path d="M433.6 209H441.84" stroke="#333" stroke-width="1.05"/>
<path d="M451.53 201.17V202.7M451.53 206.1V209" stroke="#777777" stroke-width="0.9"/><rect x="447.41" y="202.7" width="8.24" height="3.4" fill="#F0BCBC" stroke="#777777" stroke-width="0.85"/><path d="M447.41 204.1H455.65" stroke="#333" stroke-width="1.05"/>
<path d="M459.77 205.48V206.7M459.77 209.4V213" stroke="#777777" stroke-width="0.9"/><rect x="455.65" y="206.7" width="8.24" height="2.7" fill="#D5D5F0" stroke="#777777" stroke-width="0.85"/><path d="M455.65 208.1H463.89" stroke="#333" stroke-width="1.05"/>
<path d="M473.58 200.35V201.7M473.58 204.7V207.1" stroke="#777777" stroke-width="0.9"/><rect x="469.46" y="201.7" width="8.24" height="3" fill="#F0BCBC" stroke="#777777" stroke-width="0.85"/><path d="M469.46 202.7H477.7" stroke="#333" stroke-width="1.05"/>
<path d="M481.82 205.03V206.7M481.82 210.4V212.07" stroke="#777777" stroke-width="0.9"/><rect x="477.7" y="206.7" width="8.24" height="3.7" fill="#D5D5F0" stroke="#777777" stroke-width="0.85"/><path d="M477.7 208.1H485.94" stroke="#333" stroke-width="1.05"/>
<path d="M495.63 199.62V201.2M495.63 204.7V208" stroke="#777777" stroke-width="0.9"/><rect x="491.51" y="201.2" width="8.24" height="3.5" fill="#F0BCBC" stroke="#777777" stroke-width="0.85"/><path d="M491.51 202.5H499.75" stroke="#333" stroke-width="1.05"/>
<path d="M503.87 203.61V205.1M503.87 208.4V210" stroke="#777777" stroke-width="0.9"/><rect x="499.75" y="205.1" width="8.24" height="3.3" fill="#D5D5F0" stroke="#777777" stroke-width="0.85"/><path d="M499.75 206.7H507.99" stroke="#333" stroke-width="1.05"/>
<path d="M517.68 200.06V201.5M517.68 204.7V207.1" stroke="#777777" stroke-width="0.9"/><rect x="513.56" y="201.5" width="8.24" height="3.2" fill="#F0BCBC" stroke="#777777" stroke-width="0.85"/><path d="M513.56 202.7H521.8" stroke="#333" stroke-width="1.05"/>
<path d="M525.92 203.53V205.1M525.92 208.6V211" stroke="#777777" stroke-width="0.9"/><rect x="521.8" y="205.1" width="8.24" height="3.5" fill="#D5D5F0" stroke="#777777" stroke-width="0.85"/><path d="M521.8 206.7H530.04" stroke="#333" stroke-width="1.05"/>
<path d="M539.73 199.62V201.2M539.73 204.7V206.27" stroke="#777777" stroke-width="0.9"/><rect x="535.61" y="201.2" width="8.24" height="3.5" fill="#F0BCBC" stroke="#777777" stroke-width="0.85"/><path d="M535.61 202.7H543.85" stroke="#333" stroke-width="1.05"/>
<path d="M547.97 203.61V205.1M547.97 208.4V209.89" stroke="#777777" stroke-width="0.9"/><rect x="543.85" y="205.1" width="8.24" height="3.3" fill="#D5D5F0" stroke="#777777" stroke-width="0.85"/><path d="M543.85 206.7H552.09" stroke="#333" stroke-width="1.05"/>
<path d="M561.78 200.37V201.9M561.78 205.3V207.2" stroke="#777777" stroke-width="0.9"/><rect x="557.66" y="201.9" width="8.24" height="3.4" fill="#F0BCBC" stroke="#777777" stroke-width="0.85"/><path d="M557.66 203.7H565.9" stroke="#333" stroke-width="1.05"/>
<path d="M570.02 203.5V205.3M570.02 209.3V211.1" stroke="#777777" stroke-width="0.9"/><rect x="565.9" y="205.3" width="8.24" height="4" fill="#D5D5F0" stroke="#777777" stroke-width="0.85"/><path d="M565.9 207.2H574.14" stroke="#333" stroke-width="1.05"/>
<path d="M583.83 199.79V201.1M583.83 204V206.4" stroke="#777777" stroke-width="0.9"/><rect x="579.71" y="201.1" width="8.24" height="2.9" fill="#F0BCBC" stroke="#777777" stroke-width="0.85"/><path d="M579.71 202H587.95" stroke="#333" stroke-width="1.05"/>
<path d="M592.07 205.35V207.2M592.07 211.3V213.15" stroke="#777777" stroke-width="0.9"/><rect x="587.95" y="207.2" width="8.24" height="4.1" fill="#D5D5F0" stroke="#777777" stroke-width="0.85"/><path d="M587.95 208.8H596.19" stroke="#333" stroke-width="1.05"/>
<path d="M605.88 199.57V201.1M605.88 204.5V206.9" stroke="#777777" stroke-width="0.9"/><rect x="601.76" y="201.1" width="8.24" height="3.4" fill="#F0BCBC" stroke="#777777" stroke-width="0.85"/><path d="M601.76 202.7H610" stroke="#333" stroke-width="1.05"/>
<path d="M614.12 204.56V206.4M614.12 210.5V212.34" stroke="#777777" stroke-width="0.9"/><rect x="610" y="206.4" width="8.24" height="4.1" fill="#D5D5F0" stroke="#777777" stroke-width="0.85"/><path d="M610 207.7H618.24" stroke="#333" stroke-width="1.05"/>
<path d="M627.93 198.99V200.7M627.93 204.5V206.4" stroke="#777777" stroke-width="0.9"/><rect x="623.81" y="200.7" width="8.24" height="3.8" fill="#F0BCBC" stroke="#777777" stroke-width="0.85"/><path d="M623.81 202.7H632.05" stroke="#333" stroke-width="1.05"/>
<path d="M636.17 206.8V207.7M636.17 209.7V210.6" stroke="#777777" stroke-width="0.9"/><rect x="632.05" y="207.7" width="8.24" height="2" fill="#D5D5F0" stroke="#777777" stroke-width="0.85"/><path d="M632.05 208.8H640.29" stroke="#333" stroke-width="1.05"/>
<path d="M76.68 227.8L79.58 230.7L76.68 233.6L73.78 230.7ZM73.78 230.7H79.58M76.68 227.8V233.6" stroke="#CC6666" stroke-width="1.0" fill="none"/>
<path d="M84.92 227.8L87.82 230.7L84.92 233.6L82.02 230.7ZM82.02 230.7H87.82M84.92 227.8V233.6" stroke="#9999CC" stroke-width="1.0" fill="none"/>
<path d="M98.73 211.1L101.63 214L98.73 216.9L95.83 214ZM95.83 214H101.63M98.73 211.1V216.9" stroke="#CC6666" stroke-width="1.0" fill="none"/>
<path d="M106.97 211.5L109.87 214.4L106.97 217.3L104.07 214.4ZM104.07 214.4H109.87M106.97 211.5V217.3" stroke="#9999CC" stroke-width="1.0" fill="none"/>
<path d="M120.78 208.1L123.68 211L120.78 213.9L117.88 211ZM117.88 211H123.68M120.78 208.1V213.9" stroke="#CC6666" stroke-width="1.0" fill="none"/>
<path d="M129.02 209.7L131.92 212.6L129.02 215.5L126.12 212.6ZM126.12 212.6H131.92M129.02 209.7V215.5" stroke="#9999CC" stroke-width="1.0" fill="none"/>
<path d="M142.83 205.7L145.73 208.6L142.83 211.5L139.93 208.6ZM139.93 208.6H145.73M142.83 205.7V211.5" stroke="#CC6666" stroke-width="1.0" fill="none"/>
<path d="M151.07 210.1L153.97 213L151.07 215.9L148.17 213ZM148.17 213H153.97M151.07 210.1V215.9" stroke="#9999CC" stroke-width="1.0" fill="none"/>
<path d="M164.88 206.1L167.78 209L164.88 211.9L161.98 209ZM161.98 209H167.78M164.88 206.1V211.9" stroke="#CC6666" stroke-width="1.0" fill="none"/>
<path d="M173.12 210.1L176.02 213L173.12 215.9L170.22 213ZM170.22 213H176.02M173.12 210.1V215.9" stroke="#9999CC" stroke-width="1.0" fill="none"/>
<path d="M186.93 205.7L189.83 208.6L186.93 211.5L184.03 208.6ZM184.03 208.6H189.83M186.93 205.7V211.5" stroke="#CC6666" stroke-width="1.0" fill="none"/>
<path d="M195.17 207.7L198.07 210.6L195.17 213.5L192.27 210.6ZM192.27 210.6H198.07M195.17 207.7V213.5" stroke="#9999CC" stroke-width="1.0" fill="none"/>
<path d="M208.98 203.2L211.88 206.1L208.98 209L206.08 206.1ZM206.08 206.1H211.88M208.98 203.2V209" stroke="#CC6666" stroke-width="1.0" fill="none"/>
<path d="M217.22 205.7L220.12 208.6L217.22 211.5L214.32 208.6ZM214.32 208.6H220.12M217.22 205.7V211.5" stroke="#9999CC" stroke-width="1.0" fill="none"/>
<path d="M231.03 201.6L233.93 204.5L231.03 207.4L228.13 204.5ZM228.13 204.5H233.93M231.03 201.6V207.4" stroke="#CC6666" stroke-width="1.0" fill="none"/>
<path d="M239.27 206.1L242.17 209L239.27 211.9L236.37 209ZM236.37 209H242.17M239.27 206.1V211.9" stroke="#9999CC" stroke-width="1.0" fill="none"/>
<path d="M253.08 202.8L255.98 205.7L253.08 208.6L250.18 205.7ZM250.18 205.7H255.98M253.08 202.8V208.6" stroke="#CC6666" stroke-width="1.0" fill="none"/>
<path d="M261.32 207.1L264.22 210L261.32 212.9L258.42 210ZM258.42 210H264.22M261.32 207.1V212.9" stroke="#9999CC" stroke-width="1.0" fill="none"/>
<path d="M275.13 199.8L278.03 202.7L275.13 205.6L272.23 202.7ZM272.23 202.7H278.03M275.13 199.8V205.6" stroke="#CC6666" stroke-width="1.0" fill="none"/>
<path d="M283.37 205.7L286.27 208.6L283.37 211.5L280.47 208.6ZM280.47 208.6H286.27M283.37 205.7V211.5" stroke="#9999CC" stroke-width="1.0" fill="none"/>
<path d="M297.18 198.8L300.08 201.7L297.18 204.6L294.28 201.7ZM294.28 201.7H300.08M297.18 198.8V204.6" stroke="#CC6666" stroke-width="1.0" fill="none"/>
<path d="M305.42 203.8L308.32 206.7L305.42 209.6L302.52 206.7ZM302.52 206.7H308.32M305.42 203.8V209.6" stroke="#9999CC" stroke-width="1.0" fill="none"/>
<path d="M319.23 199.6L322.13 202.5L319.23 205.4L316.33 202.5ZM316.33 202.5H322.13M319.23 199.6V205.4" stroke="#CC6666" stroke-width="1.0" fill="none"/>
<path d="M327.47 204.6L330.37 207.5L327.47 210.4L324.57 207.5ZM324.57 207.5H330.37M327.47 204.6V210.4" stroke="#9999CC" stroke-width="1.0" fill="none"/>
<path d="M341.28 198.8L344.18 201.7L341.28 204.6L338.38 201.7ZM338.38 201.7H344.18M341.28 198.8V204.6" stroke="#CC6666" stroke-width="1.0" fill="none"/>
<path d="M349.52 203.8L352.42 206.7L349.52 209.6L346.62 206.7ZM346.62 206.7H352.42M349.52 203.8V209.6" stroke="#9999CC" stroke-width="1.0" fill="none"/>
<path d="M363.33 198.8L366.23 201.7L363.33 204.6L360.43 201.7ZM360.43 201.7H366.23M363.33 198.8V204.6" stroke="#CC6666" stroke-width="1.0" fill="none"/>
<path d="M371.57 203.8L374.47 206.7L371.57 209.6L368.67 206.7ZM368.67 206.7H374.47M371.57 203.8V209.6" stroke="#9999CC" stroke-width="1.0" fill="none"/>
<path d="M385.38 198.3L388.28 201.2L385.38 204.1L382.48 201.2ZM382.48 201.2H388.28M385.38 198.3V204.1" stroke="#CC6666" stroke-width="1.0" fill="none"/>
<path d="M393.62 205.5L396.52 208.4L393.62 211.3L390.72 208.4ZM390.72 208.4H396.52M393.62 205.5V211.3" stroke="#9999CC" stroke-width="1.0" fill="none"/>
<path d="M407.43 198.6L410.33 201.5L407.43 204.4L404.53 201.5ZM404.53 201.5H410.33M407.43 198.6V204.4" stroke="#CC6666" stroke-width="1.0" fill="none"/>
<path d="M415.67 202.6L418.57 205.5L415.67 208.4L412.77 205.5ZM412.77 205.5H418.57M415.67 202.6V208.4" stroke="#9999CC" stroke-width="1.0" fill="none"/>
<path d="M429.48 197.3L432.38 200.2L429.48 203.1L426.58 200.2ZM426.58 200.2H432.38M429.48 197.3V203.1" stroke="#CC6666" stroke-width="1.0" fill="none"/>
<path d="M437.72 200.6L440.62 203.5L437.72 206.4L434.82 203.5ZM434.82 203.5H440.62M437.72 200.6V206.4" stroke="#9999CC" stroke-width="1.0" fill="none"/>
<path d="M451.53 197.3L454.43 200.2L451.53 203.1L448.63 200.2ZM448.63 200.2H454.43M451.53 197.3V203.1" stroke="#CC6666" stroke-width="1.0" fill="none"/>
<path d="M459.77 204.6L462.67 207.5L459.77 210.4L456.87 207.5ZM456.87 207.5H462.67M459.77 204.6V210.4" stroke="#9999CC" stroke-width="1.0" fill="none"/>
<path d="M473.58 197.7L476.48 200.6L473.58 203.5L470.68 200.6ZM470.68 200.6H476.48M473.58 197.7V203.5" stroke="#CC6666" stroke-width="1.0" fill="none"/>
<path d="M481.82 203.2L484.72 206.1L481.82 209L478.92 206.1ZM478.92 206.1H484.72M481.82 203.2V209" stroke="#9999CC" stroke-width="1.0" fill="none"/>
<path d="M495.63 196.9L498.53 199.8L495.63 202.7L492.73 199.8ZM492.73 199.8H498.53M495.63 196.9V202.7" stroke="#CC6666" stroke-width="1.0" fill="none"/>
<path d="M503.87 200.2L506.77 203.1L503.87 206L500.97 203.1ZM500.97 203.1H506.77M503.87 200.2V206" stroke="#9999CC" stroke-width="1.0" fill="none"/>
<path d="M517.68 197.3L520.58 200.2L517.68 203.1L514.78 200.2ZM514.78 200.2H520.58M517.68 197.3V203.1" stroke="#CC6666" stroke-width="1.0" fill="none"/>
<path d="M525.92 202.6L528.82 205.5L525.92 208.4L523.02 205.5ZM523.02 205.5H528.82M525.92 202.6V208.4" stroke="#9999CC" stroke-width="1.0" fill="none"/>
<path d="M539.73 197.7L542.63 200.6L539.73 203.5L536.83 200.6ZM536.83 200.6H542.63M539.73 197.7V203.5" stroke="#CC6666" stroke-width="1.0" fill="none"/>
<path d="M547.97 201.8L550.87 204.7L547.97 207.6L545.07 204.7ZM545.07 204.7H550.87M547.97 201.8V207.6" stroke="#9999CC" stroke-width="1.0" fill="none"/>
<path d="M561.78 196.2L564.68 199.1L561.78 202L558.88 199.1ZM558.88 199.1H564.68M561.78 196.2V202" stroke="#CC6666" stroke-width="1.0" fill="none"/>
<path d="M570.02 201.9L572.92 204.8L570.02 207.7L567.12 204.8ZM567.12 204.8H572.92M570.02 201.9V207.7" stroke="#9999CC" stroke-width="1.0" fill="none"/>
<path d="M583.83 195.1L586.73 198L583.83 200.9L580.93 198ZM580.93 198H586.73M583.83 195.1V200.9" stroke="#CC6666" stroke-width="1.0" fill="none"/>
<path d="M592.07 201.1L594.97 204L592.07 206.9L589.17 204ZM589.17 204H594.97M592.07 201.1V206.9" stroke="#9999CC" stroke-width="1.0" fill="none"/>
<path d="M605.88 195.1L608.78 198L605.88 200.9L602.98 198ZM602.98 198H608.78M605.88 195.1V200.9" stroke="#CC6666" stroke-width="1.0" fill="none"/>
<path d="M614.12 201.9L617.02 204.8L614.12 207.7L611.22 204.8ZM611.22 204.8H617.02M614.12 201.9V207.7" stroke="#9999CC" stroke-width="1.0" fill="none"/>
<path d="M627.93 195.1L630.83 198L627.93 200.9L625.03 198ZM625.03 198H630.83M627.93 195.1V200.9" stroke="#CC6666" stroke-width="1.0" fill="none"/>
<path d="M636.17 204.3L639.07 207.2L636.17 210.1L633.27 207.2ZM633.27 207.2H639.07M636.17 204.3V210.1" stroke="#9999CC" stroke-width="1.0" fill="none"/>
</g>
<g clip-path="url(#c4)">
<path d="M76.68 282.4V283M76.68 284.3V284.9" stroke="#777777" stroke-width="0.9"/><rect x="72.56" y="283" width="8.24" height="1.3" fill="#F0BCBC" stroke="#777777" stroke-width="0.85"/><path d="M72.56 283.6H80.8" stroke="#333" stroke-width="1.05"/>
<path d="M84.92 282.4V283M84.92 284.3V284.9" stroke="#777777" stroke-width="0.9"/><rect x="80.8" y="283" width="8.24" height="1.3" fill="#D5D5F0" stroke="#777777" stroke-width="0.85"/><path d="M80.8 283.6H89.04" stroke="#333" stroke-width="1.05"/>
<path d="M98.73 276.37V277M98.73 278.4V279.03" stroke="#777777" stroke-width="0.9"/><rect x="94.61" y="277" width="8.24" height="1.4" fill="#F0BCBC" stroke="#777777" stroke-width="0.85"/><path d="M94.61 277.8H102.85" stroke="#333" stroke-width="1.05"/>
<path d="M106.97 276.37V277M106.97 278.4V279.03" stroke="#777777" stroke-width="0.9"/><rect x="102.85" y="277" width="8.24" height="1.4" fill="#D5D5F0" stroke="#777777" stroke-width="0.85"/><path d="M102.85 277.8H111.09" stroke="#333" stroke-width="1.05"/>
<path d="M120.78 266.6V268.6M120.78 270.5V272.5" stroke="#777777" stroke-width="0.9"/><rect x="116.66" y="268.6" width="8.24" height="1.9" fill="#F0BCBC" stroke="#777777" stroke-width="0.85"/><path d="M116.66 269.6H124.9" stroke="#333" stroke-width="1.05"/>
<path d="M129.02 268.75V269.6M129.02 271.5V272.36" stroke="#777777" stroke-width="0.9"/><rect x="124.9" y="269.6" width="8.24" height="1.9" fill="#D5D5F0" stroke="#777777" stroke-width="0.85"/><path d="M124.9 270.5H133.14" stroke="#333" stroke-width="1.05"/><circle cx="129.02" cy="275.9" r="1.25" fill="#111"/>
<path d="M142.83 264.57V265.2M142.83 266.6V267.23" stroke="#777777" stroke-width="0.9"/><rect x="138.71" y="265.2" width="8.24" height="1.4" fill="#F0BCBC" stroke="#777777" stroke-width="0.85"/><path d="M138.71 265.9H146.95" stroke="#333" stroke-width="1.05"/><circle cx="142.83" cy="270" r="1.25" fill="#111"/>
<path d="M151.07 267.75V268.6M151.07 270.5V273.5" stroke="#777777" stroke-width="0.9"/><rect x="146.95" y="268.6" width="8.24" height="1.9" fill="#D5D5F0" stroke="#777777" stroke-width="0.85"/><path d="M146.95 269.6H155.19" stroke="#333" stroke-width="1.05"/>
<path d="M164.88 263.4V264M164.88 265V265.6" stroke="#777777" stroke-width="0.9"/><rect x="160.76" y="264" width="8.24" height="1" fill="#F0BCBC" stroke="#777777" stroke-width="0.85"/><path d="M160.76 264.5H169" stroke="#333" stroke-width="1.05"/><circle cx="164.88" cy="268.2" r="1.25" fill="#111"/>
<path d="M173.12 262.8V264.6M173.12 268.6V270.4" stroke="#777777" stroke-width="0.9"/><rect x="169" y="264.6" width="8.24" height="4" fill="#D5D5F0" stroke="#777777" stroke-width="0.85"/><path d="M169 266.6H177.24" stroke="#333" stroke-width="1.05"/>
<path d="M186.93 263.57V264.2M186.93 265.6V267.6" stroke="#777777" stroke-width="0.9"/><rect x="182.81" y="264.2" width="8.24" height="1.4" fill="#F0BCBC" stroke="#777777" stroke-width="0.85"/><path d="M182.81 264.9H191.05" stroke="#333" stroke-width="1.05"/>
<path d="M195.17 267.16V268.2M195.17 270.5V271.54" stroke="#777777" stroke-width="0.9"/><rect x="191.05" y="268.2" width="8.24" height="2.3" fill="#D5D5F0" stroke="#777777" stroke-width="0.85"/><path d="M191.05 269.4H199.29" stroke="#333" stroke-width="1.05"/><circle cx="195.17" cy="276.9" r="1.25" fill="#111"/>
<path d="M208.98 259.81V261.3M208.98 264.6V265.6" stroke="#777777" stroke-width="0.9"/><rect x="204.86" y="261.3" width="8.24" height="3.3" fill="#F0BCBC" stroke="#777777" stroke-width="0.85"/><path d="M204.86 262.7H213.1" stroke="#333" stroke-width="1.05"/>
<path d="M217.22 261.7V265.2M217.22 270V273.5" stroke="#777777" stroke-width="0.9"/><rect x="213.1" y="265.2" width="8.24" height="4.8" fill="#D5D5F0" stroke="#777777" stroke-width="0.85"/><path d="M213.1 265.6H221.34" stroke="#333" stroke-width="1.05"/>
<path d="M231.03 259.55V261.3M231.03 265.2V266.95" stroke="#777777" stroke-width="0.9"/><rect x="226.91" y="261.3" width="8.24" height="3.9" fill="#F0BCBC" stroke="#777777" stroke-width="0.85"/><path d="M226.91 262.7H235.15" stroke="#333" stroke-width="1.05"/>
<path d="M239.27 260.9V263.6M239.27 269.6V274.5" stroke="#777777" stroke-width="0.9"/><rect x="235.15" y="263.6" width="8.24" height="6" fill="#D5D5F0" stroke="#777777" stroke-width="0.85"/><path d="M235.15 267.2H243.39" stroke="#333" stroke-width="1.05"/>
<path d="M253.08 258.63V260.3M253.08 264V265.67" stroke="#777777" stroke-width="0.9"/><rect x="248.96" y="260.3" width="8.24" height="3.7" fill="#F0BCBC" stroke="#777777" stroke-width="0.85"/><path d="M248.96 261.7H257.2" stroke="#333" stroke-width="1.05"/>
<path d="M261.32 263.25V264.6M261.32 267.6V268.95" stroke="#777777" stroke-width="0.9"/><rect x="257.2" y="264.6" width="8.24" height="3" fill="#D5D5F0" stroke="#777777" stroke-width="0.85"/><path d="M257.2 265.6H265.44" stroke="#333" stroke-width="1.05"/>
<path d="M275.13 257.59V259.3M275.13 263.1V264.81" stroke="#777777" stroke-width="0.9"/><rect x="271.01" y="259.3" width="8.24" height="3.8" fill="#F0BCBC" stroke="#777777" stroke-width="0.85"/><path d="M271.01 260.7H279.25" stroke="#333" stroke-width="1.05"/>
<path d="M283.37 264.88V265.6M283.37 267.2V267.92" stroke="#777777" stroke-width="0.9"/><rect x="279.25" y="265.6" width="8.24" height="1.6" fill="#D5D5F0" stroke="#777777" stroke-width="0.85"/><path d="M279.25 266.4H287.49" stroke="#333" stroke-width="1.05"/><circle cx="283.37" cy="270.2" r="1.25" fill="#111"/>
<path d="M297.18 257.53V258.7M297.18 261.3V262.47" stroke="#777777" stroke-width="0.9"/><rect x="293.06" y="258.7" width="8.24" height="2.6" fill="#F0BCBC" stroke="#777777" stroke-width="0.85"/><path d="M293.06 259.7H301.3" stroke="#333" stroke-width="1.05"/>
<path d="M305.42 261.39V262.7M305.42 265.6V266.91" stroke="#777777" stroke-width="0.9"/><rect x="301.3" y="262.7" width="8.24" height="2.9" fill="#D5D5F0" stroke="#777777" stroke-width="0.85"/><path d="M301.3 264.2H309.54" stroke="#333" stroke-width="1.05"/>
<path d="M319.23 256.93V258.1M319.23 260.7V261.87" stroke="#777777" stroke-width="0.9"/><rect x="315.11" y="258.1" width="8.24" height="2.6" fill="#F0BCBC" stroke="#777777" stroke-width="0.85"/><path d="M315.11 259.1H323.35" stroke="#333" stroke-width="1.05"/>
<path d="M327.47 262.3V262.9M327.47 263.7V264.3" stroke="#777777" stroke-width="0.9"/><rect x="323.35" y="262.9" width="8.24" height="0.8" fill="#D5D5F0" stroke="#777777" stroke-width="0.85"/><path d="M323.35 263.3H331.59" stroke="#333" stroke-width="1.05"/><circle cx="327.47" cy="266.2" r="1.25" fill="#111"/>
<path d="M341.28 256.04V257.3M341.28 260.1V261.36" stroke="#777777" stroke-width="0.9"/><rect x="337.16" y="257.3" width="8.24" height="2.8" fill="#F0BCBC" stroke="#777777" stroke-width="0.85"/><path d="M337.16 258.1H345.4" stroke="#333" stroke-width="1.05"/>
<path d="M349.52 256.66V258.1M349.52 261.3V265.2" stroke="#777777" stroke-width="0.9"/><rect x="345.4" y="258.1" width="8.24" height="3.2" fill="#D5D5F0" stroke="#777777" stroke-width="0.85"/><path d="M345.4 259.1H353.64" stroke="#333" stroke-width="1.05"/>
<path d="M363.33 255.95V257.3M363.33 260.3V261.65" stroke="#777777" stroke-width="0.9"/><rect x="359.21" y="257.3" width="8.24" height="3" fill="#F0BCBC" stroke="#777777" stroke-width="0.85"/><path d="M359.21 258.1H367.45" stroke="#333" stroke-width="1.05"/>
<path d="M371.57 254.29V257.3M371.57 264V265.6" stroke="#777777" stroke-width="0.9"/><rect x="367.45" y="257.3" width="8.24" height="6.7" fill="#D5D5F0" stroke="#777777" stroke-width="0.85"/><path d="M367.45 258.3H375.69" stroke="#333" stroke-width="1.05"/>
<path d="M385.38 255.95V257.3M385.38 260.3V261.65" stroke="#777777" stroke-width="0.9"/><rect x="381.26" y="257.3" width="8.24" height="3" fill="#F0BCBC" stroke="#777777" stroke-width="0.85"/><path d="M381.26 258.1H389.5" stroke="#333" stroke-width="1.05"/>
<path d="M393.62 256.31V258.7M393.62 264V266.38" stroke="#777777" stroke-width="0.9"/><rect x="389.5" y="258.7" width="8.24" height="5.3" fill="#D5D5F0" stroke="#777777" stroke-width="0.85"/><path d="M389.5 259.7H397.74" stroke="#333" stroke-width="1.05"/>
<path d="M407.43 255.95V257.3M407.43 260.3V261.65" stroke="#777777" stroke-width="0.9"/><rect x="403.31" y="257.3" width="8.24" height="3" fill="#F0BCBC" stroke="#777777" stroke-width="0.85"/><path d="M403.31 258.1H411.55" stroke="#333" stroke-width="1.05"/>
<path d="M415.67 257.08V258.7M415.67 262.3V263.92" stroke="#777777" stroke-width="0.9"/><rect x="411.55" y="258.7" width="8.24" height="3.6" fill="#D5D5F0" stroke="#777777" stroke-width="0.85"/><path d="M411.55 259.7H419.79" stroke="#333" stroke-width="1.05"/>
<path d="M429.48 255.23V256.8M429.48 260.3V261.88" stroke="#777777" stroke-width="0.9"/><rect x="425.36" y="256.8" width="8.24" height="3.5" fill="#F0BCBC" stroke="#777777" stroke-width="0.85"/><path d="M425.36 257.6H433.6" stroke="#333" stroke-width="1.05"/>
<path d="M437.72 255.05V257.3M437.72 262.3V264.55" stroke="#777777" stroke-width="0.9"/><rect x="433.6" y="257.3" width="8.24" height="5" fill="#D5D5F0" stroke="#777777" stroke-width="0.85"/><path d="M433.6 258.3H441.84" stroke="#333" stroke-width="1.05"/>
<path d="M451.53 255.23V256.8M451.53 260.3V261.88" stroke="#777777" stroke-width="0.9"/><rect x="447.41" y="256.8" width="8.24" height="3.5" fill="#F0BCBC" stroke="#777777" stroke-width="0.85"/><path d="M447.41 257.6H455.65" stroke="#333" stroke-width="1.05"/>
<path d="M459.77 255.5V257.3M459.77 261.3V263.1" stroke="#777777" stroke-width="0.9"/><rect x="455.65" y="257.3" width="8.24" height="4" fill="#D5D5F0" stroke="#777777" stroke-width="0.85"/><path d="M455.65 258.3H463.89" stroke="#333" stroke-width="1.05"/>
<path d="M473.58 255.31V256.8M473.58 260.1V261.59" stroke="#777777" stroke-width="0.9"/><rect x="469.46" y="256.8" width="8.24" height="3.3" fill="#F0BCBC" stroke="#777777" stroke-width="0.85"/><path d="M469.46 257.6H477.7" stroke="#333" stroke-width="1.05"/>
<path d="M481.82 255.14V257.3M481.82 262.1V264.26" stroke="#777777" stroke-width="0.9"/><rect x="477.7" y="257.3" width="8.24" height="4.8" fill="#D5D5F0" stroke="#777777" stroke-width="0.85"/><path d="M477.7 258.3H485.94" stroke="#333" stroke-width="1.05"/>
<path d="M495.63 255.31V256.8M495.63 260.1V261.59" stroke="#777777" stroke-width="0.9"/><rect x="491.51" y="256.8" width="8.24" height="3.3" fill="#F0BCBC" stroke="#777777" stroke-width="0.85"/><path d="M491.51 257.6H499.75" stroke="#333" stroke-width="1.05"/>
<path d="M503.87 255.23V256.8M503.87 260.3V261.7" stroke="#777777" stroke-width="0.9"/><rect x="499.75" y="256.8" width="8.24" height="3.5" fill="#D5D5F0" stroke="#777777" stroke-width="0.85"/><path d="M499.75 257.8H507.99" stroke="#333" stroke-width="1.05"/>
<path d="M517.68 255.31V256.8M517.68 260.1V261.59" stroke="#777777" stroke-width="0.9"/><rect x="513.56" y="256.8" width="8.24" height="3.3" fill="#F0BCBC" stroke="#777777" stroke-width="0.85"/><path d="M513.56 257.6H521.8" stroke="#333" stroke-width="1.05"/>
<path d="M525.92 255.31V256.8M525.92 260.1V261.59" stroke="#777777" stroke-width="0.9"/><rect x="521.8" y="256.8" width="8.24" height="3.3" fill="#D5D5F0" stroke="#777777" stroke-width="0.85"/><path d="M521.8 257.8H530.04" stroke="#333" stroke-width="1.05"/>
<path d="M539.73 255.31V256.8M539.73 260.1V261.59" stroke="#777777" stroke-width="0.9"/><rect x="535.61" y="256.8" width="8.24" height="3.3" fill="#F0BCBC" stroke="#777777" stroke-width="0.85"/><path d="M535.61 257.6H543.85" stroke="#333" stroke-width="1.05"/>
<path d="M547.97 255.68V256.8M547.97 259.3V260.43" stroke="#777777" stroke-width="0.9"/><rect x="543.85" y="256.8" width="8.24" height="2.5" fill="#D5D5F0" stroke="#777777" stroke-width="0.85"/><path d="M543.85 257.8H552.09" stroke="#333" stroke-width="1.05"/>
<path d="M561.78 253.61V255.5M561.78 259.7V261.59" stroke="#777777" stroke-width="0.9"/><rect x="557.66" y="255.5" width="8.24" height="4.2" fill="#F0BCBC" stroke="#777777" stroke-width="0.85"/><path d="M557.66 256.3H565.9" stroke="#333" stroke-width="1.05"/>
<path d="M570.02 255.93V257.1M570.02 259.7V262.3" stroke="#777777" stroke-width="0.9"/><rect x="565.9" y="257.1" width="8.24" height="2.6" fill="#D5D5F0" stroke="#777777" stroke-width="0.85"/><path d="M565.9 258.1H574.14" stroke="#333" stroke-width="1.05"/>
<path d="M583.83 253.3V255.5M583.83 260.4V262.6" stroke="#777777" stroke-width="0.9"/><rect x="579.71" y="255.5" width="8.24" height="4.9" fill="#F0BCBC" stroke="#777777" stroke-width="0.85"/><path d="M579.71 256.3H587.95" stroke="#333" stroke-width="1.05"/>
<path d="M592.07 255.63V257.7M592.07 262.3V264.37" stroke="#777777" stroke-width="0.9"/><rect x="587.95" y="257.7" width="8.24" height="4.6" fill="#D5D5F0" stroke="#777777" stroke-width="0.85"/><path d="M587.95 258.7H596.19" stroke="#333" stroke-width="1.05"/>
<path d="M605.88 254.05V255.8M605.88 259.7V261.45" stroke="#777777" stroke-width="0.9"/><rect x="601.76" y="255.8" width="8.24" height="3.9" fill="#F0BCBC" stroke="#777777" stroke-width="0.85"/><path d="M601.76 256.6H610" stroke="#333" stroke-width="1.05"/>
<path d="M614.12 256.4V258.1M614.12 260.4V261.43" stroke="#777777" stroke-width="0.9"/><rect x="610" y="258.1" width="8.24" height="2.3" fill="#D5D5F0" stroke="#777777" stroke-width="0.85"/><path d="M610 259.1H618.24" stroke="#333" stroke-width="1.05"/>
<path d="M627.93 254.05V255.8M627.93 259.7V261.45" stroke="#777777" stroke-width="0.9"/><rect x="623.81" y="255.8" width="8.24" height="3.9" fill="#F0BCBC" stroke="#777777" stroke-width="0.85"/><path d="M623.81 256.6H632.05" stroke="#333" stroke-width="1.05"/>
<path d="M636.17 256.4V258.4M636.17 260.7V261.74" stroke="#777777" stroke-width="0.9"/><rect x="632.05" y="258.4" width="8.24" height="2.3" fill="#D5D5F0" stroke="#777777" stroke-width="0.85"/><path d="M632.05 259.4H640.29" stroke="#333" stroke-width="1.05"/>
<path d="M76.68 278.9L79.58 281.8L76.68 284.7L73.78 281.8ZM73.78 281.8H79.58M76.68 278.9V284.7" stroke="#CC6666" stroke-width="1.0" fill="none"/>
<path d="M84.92 278.9L87.82 281.8L84.92 284.7L82.02 281.8ZM82.02 281.8H87.82M84.92 278.9V284.7" stroke="#9999CC" stroke-width="1.0" fill="none"/>
<path d="M98.73 269.2L101.63 272.1L98.73 275L95.83 272.1ZM95.83 272.1H101.63M98.73 269.2V275" stroke="#CC6666" stroke-width="1.0" fill="none"/>
<path d="M106.97 270.6L109.87 273.5L106.97 276.4L104.07 273.5ZM104.07 273.5H109.87M106.97 270.6V276.4" stroke="#9999CC" stroke-width="1.0" fill="none"/>
<path d="M120.78 260.7L123.68 263.6L120.78 266.5L117.88 263.6ZM117.88 263.6H123.68M120.78 260.7V266.5" stroke="#CC6666" stroke-width="1.0" fill="none"/>
<path d="M129.02 264.7L131.92 267.6L129.02 270.5L126.12 267.6ZM126.12 267.6H131.92M129.02 264.7V270.5" stroke="#9999CC" stroke-width="1.0" fill="none"/>
<path d="M142.83 258.8L145.73 261.7L142.83 264.6L139.93 261.7ZM139.93 261.7H145.73M142.83 258.8V264.6" stroke="#CC6666" stroke-width="1.0" fill="none"/>
<path d="M151.07 263.3L153.97 266.2L151.07 269.1L148.17 266.2ZM148.17 266.2H153.97M151.07 263.3V269.1" stroke="#9999CC" stroke-width="1.0" fill="none"/>
<path d="M164.88 257.8L167.78 260.7L164.88 263.6L161.98 260.7ZM161.98 260.7H167.78M164.88 257.8V263.6" stroke="#CC6666" stroke-width="1.0" fill="none"/>
<path d="M173.12 262.7L176.02 265.6L173.12 268.5L170.22 265.6ZM170.22 265.6H176.02M173.12 262.7V268.5" stroke="#9999CC" stroke-width="1.0" fill="none"/>
<path d="M186.93 257.2L189.83 260.1L186.93 263L184.03 260.1ZM184.03 260.1H189.83M186.93 257.2V263" stroke="#CC6666" stroke-width="1.0" fill="none"/>
<path d="M195.17 262.3L198.07 265.2L195.17 268.1L192.27 265.2ZM192.27 265.2H198.07M195.17 262.3V268.1" stroke="#9999CC" stroke-width="1.0" fill="none"/>
<path d="M208.98 255.8L211.88 258.7L208.98 261.6L206.08 258.7ZM206.08 258.7H211.88M208.98 255.8V261.6" stroke="#CC6666" stroke-width="1.0" fill="none"/>
<path d="M217.22 255.8L220.12 258.7L217.22 261.6L214.32 258.7ZM214.32 258.7H220.12M217.22 255.8V261.6" stroke="#9999CC" stroke-width="1.0" fill="none"/>
<path d="M231.03 255.8L233.93 258.7L231.03 261.6L228.13 258.7ZM228.13 258.7H233.93M231.03 255.8V261.6" stroke="#CC6666" stroke-width="1.0" fill="none"/>
<path d="M239.27 259.8L242.17 262.7L239.27 265.6L236.37 262.7ZM236.37 262.7H242.17M239.27 259.8V265.6" stroke="#9999CC" stroke-width="1.0" fill="none"/>
<path d="M253.08 254.8L255.98 257.7L253.08 260.6L250.18 257.7ZM250.18 257.7H255.98M253.08 254.8V260.6" stroke="#CC6666" stroke-width="1.0" fill="none"/>
<path d="M261.32 258.8L264.22 261.7L261.32 264.6L258.42 261.7ZM258.42 261.7H264.22M261.32 258.8V264.6" stroke="#9999CC" stroke-width="1.0" fill="none"/>
<path d="M275.13 253.9L278.03 256.8L275.13 259.7L272.23 256.8ZM272.23 256.8H278.03M275.13 253.9V259.7" stroke="#CC6666" stroke-width="1.0" fill="none"/>
<path d="M283.37 260.7L286.27 263.6L283.37 266.5L280.47 263.6ZM280.47 263.6H286.27M283.37 260.7V266.5" stroke="#9999CC" stroke-width="1.0" fill="none"/>
<path d="M297.18 254.4L300.08 257.3L297.18 260.2L294.28 257.3ZM294.28 257.3H300.08M297.18 254.4V260.2" stroke="#CC6666" stroke-width="1.0" fill="none"/>
<path d="M305.42 257.8L308.32 260.7L305.42 263.6L302.52 260.7ZM302.52 260.7H308.32M305.42 257.8V263.6" stroke="#9999CC" stroke-width="1.0" fill="none"/>
<path d="M319.23 253.9L322.13 256.8L319.23 259.7L316.33 256.8ZM316.33 256.8H322.13M319.23 253.9V259.7" stroke="#CC6666" stroke-width="1.0" fill="none"/>
<path d="M327.47 257.8L330.37 260.7L327.47 263.6L324.57 260.7ZM324.57 260.7H330.37M327.47 257.8V263.6" stroke="#9999CC" stroke-width="1.0" fill="none"/>
<path d="M341.28 252.9L344.18 255.8L341.28 258.7L338.38 255.8ZM338.38 255.8H344.18M341.28 252.9V258.7" stroke="#CC6666" stroke-width="1.0" fill="none"/>
<path d="M349.52 254.8L352.42 257.7L349.52 260.6L346.62 257.7ZM346.62 257.7H352.42M349.52 254.8V260.6" stroke="#9999CC" stroke-width="1.0" fill="none"/>
<path d="M363.33 252.5L366.23 255.4L363.33 258.3L360.43 255.4ZM360.43 255.4H366.23M363.33 252.5V258.3" stroke="#CC6666" stroke-width="1.0" fill="none"/>
<path d="M371.57 256.4L374.47 259.3L371.57 262.2L368.67 259.3ZM368.67 259.3H374.47M371.57 256.4V262.2" stroke="#9999CC" stroke-width="1.0" fill="none"/>
<path d="M385.38 252.9L388.28 255.8L385.38 258.7L382.48 255.8ZM382.48 255.8H388.28M385.38 252.9V258.7" stroke="#CC6666" stroke-width="1.0" fill="none"/>
<path d="M393.62 258.8L396.52 261.7L393.62 264.6L390.72 261.7ZM390.72 261.7H396.52M393.62 258.8V264.6" stroke="#9999CC" stroke-width="1.0" fill="none"/>
<path d="M407.43 252.9L410.33 255.8L407.43 258.7L404.53 255.8ZM404.53 255.8H410.33M407.43 252.9V258.7" stroke="#CC6666" stroke-width="1.0" fill="none"/>
<path d="M415.67 256.8L418.57 259.7L415.67 262.6L412.77 259.7ZM412.77 259.7H418.57M415.67 256.8V262.6" stroke="#9999CC" stroke-width="1.0" fill="none"/>
<path d="M429.48 251.9L432.38 254.8L429.48 257.7L426.58 254.8ZM426.58 254.8H432.38M429.48 251.9V257.7" stroke="#CC6666" stroke-width="1.0" fill="none"/>
<path d="M437.72 252.5L440.62 255.4L437.72 258.3L434.82 255.4ZM434.82 255.4H440.62M437.72 252.5V258.3" stroke="#9999CC" stroke-width="1.0" fill="none"/>
<path d="M451.53 251.3L454.43 254.2L451.53 257.1L448.63 254.2ZM448.63 254.2H454.43M451.53 251.3V257.1" stroke="#CC6666" stroke-width="1.0" fill="none"/>
<path d="M459.77 251.9L462.67 254.8L459.77 257.7L456.87 254.8ZM456.87 254.8H462.67M459.77 251.9V257.7" stroke="#9999CC" stroke-width="1.0" fill="none"/>
<path d="M473.58 251.9L476.48 254.8L473.58 257.7L470.68 254.8ZM470.68 254.8H476.48M473.58 251.9V257.7" stroke="#CC6666" stroke-width="1.0" fill="none"/>
<path d="M481.82 252.5L484.72 255.4L481.82 258.3L478.92 255.4ZM478.92 255.4H484.72M481.82 252.5V258.3" stroke="#9999CC" stroke-width="1.0" fill="none"/>
<path d="M495.63 251.3L498.53 254.2L495.63 257.1L492.73 254.2ZM492.73 254.2H498.53M495.63 251.3V257.1" stroke="#CC6666" stroke-width="1.0" fill="none"/>
<path d="M503.87 250.9L506.77 253.8L503.87 256.7L500.97 253.8ZM500.97 253.8H506.77M503.87 250.9V256.7" stroke="#9999CC" stroke-width="1.0" fill="none"/>
<path d="M517.68 251.3L520.58 254.2L517.68 257.1L514.78 254.2ZM514.78 254.2H520.58M517.68 251.3V257.1" stroke="#CC6666" stroke-width="1.0" fill="none"/>
<path d="M525.92 253.9L528.82 256.8L525.92 259.7L523.02 256.8ZM523.02 256.8H528.82M525.92 253.9V259.7" stroke="#9999CC" stroke-width="1.0" fill="none"/>
<path d="M539.73 251.3L542.63 254.2L539.73 257.1L536.83 254.2ZM536.83 254.2H542.63M539.73 251.3V257.1" stroke="#CC6666" stroke-width="1.0" fill="none"/>
<path d="M547.97 253.9L550.87 256.8L547.97 259.7L545.07 256.8ZM545.07 256.8H550.87M547.97 253.9V259.7" stroke="#9999CC" stroke-width="1.0" fill="none"/>
<path d="M561.78 252.2L564.68 255.1L561.78 258L558.88 255.1ZM558.88 255.1H564.68M561.78 252.2V258" stroke="#CC6666" stroke-width="1.0" fill="none"/>
<path d="M570.02 253.5L572.92 256.4L570.02 259.3L567.12 256.4ZM567.12 256.4H572.92M570.02 253.5V259.3" stroke="#9999CC" stroke-width="1.0" fill="none"/>
<path d="M583.83 252.2L586.73 255.1L583.83 258L580.93 255.1ZM580.93 255.1H586.73M583.83 252.2V258" stroke="#CC6666" stroke-width="1.0" fill="none"/>
<path d="M592.07 256.1L594.97 259L592.07 261.9L589.17 259ZM589.17 259H594.97M592.07 256.1V261.9" stroke="#9999CC" stroke-width="1.0" fill="none"/>
<path d="M605.88 252.2L608.78 255.1L605.88 258L602.98 255.1ZM602.98 255.1H608.78M605.88 252.2V258" stroke="#CC6666" stroke-width="1.0" fill="none"/>
<path d="M614.12 258.1L617.02 261L614.12 263.9L611.22 261ZM611.22 261H617.02M614.12 258.1V263.9" stroke="#9999CC" stroke-width="1.0" fill="none"/>
<path d="M627.93 252.2L630.83 255.1L627.93 258L625.03 255.1ZM625.03 255.1H630.83M627.93 252.2V258" stroke="#CC6666" stroke-width="1.0" fill="none"/>
<path d="M636.17 256.8L639.07 259.7L636.17 262.6L633.27 259.7ZM633.27 259.7H639.07M636.17 256.8V262.6" stroke="#9999CC" stroke-width="1.0" fill="none"/>
</g>
<g clip-path="url(#c5)">
<path d="M76.68 317.5V318.4M76.68 320.4V321.8" stroke="#777777" stroke-width="0.9"/><rect x="72.56" y="318.4" width="8.24" height="2" fill="#F0BCBC" stroke="#777777" stroke-width="0.85"/><path d="M72.56 319.2H80.8" stroke="#333" stroke-width="1.05"/><circle cx="76.68" cy="313.8" r="1.25" fill="#111"/>
<path d="M84.92 317.5V318.4M84.92 320.4V321.3" stroke="#777777" stroke-width="0.9"/><rect x="80.8" y="318.4" width="8.24" height="2" fill="#D5D5F0" stroke="#777777" stroke-width="0.85"/><path d="M80.8 319.2H89.04" stroke="#333" stroke-width="1.05"/><circle cx="84.92" cy="313.8" r="1.25" fill="#111"/>
<path d="M98.73 320.4V322.3M98.73 324.3V325.2" stroke="#777777" stroke-width="0.9"/><rect x="94.61" y="322.3" width="8.24" height="2" fill="#F0BCBC" stroke="#777777" stroke-width="0.85"/><path d="M94.61 322.7H102.85" stroke="#333" stroke-width="1.05"/><circle cx="98.73" cy="330.6" r="1.25" fill="#111"/>
<path d="M106.97 320.77V322.3M106.97 325.7V327.23" stroke="#777777" stroke-width="0.9"/><rect x="102.85" y="322.3" width="8.24" height="3.4" fill="#D5D5F0" stroke="#777777" stroke-width="0.85"/><path d="M102.85 323.1H111.09" stroke="#333" stroke-width="1.05"/><circle cx="106.97" cy="330.6" r="1.25" fill="#111"/>
<path d="M120.78 325.3V325.9M120.78 326.7V327.3" stroke="#777777" stroke-width="0.9"/><rect x="116.66" y="325.9" width="8.24" height="0.8" fill="#F0BCBC" stroke="#777777" stroke-width="0.85"/><path d="M116.66 326.3H124.9" stroke="#333" stroke-width="1.05"/><circle cx="120.78" cy="324.1" r="1.25" fill="#111"/><circle cx="120.78" cy="333.2" r="1.25" fill="#111"/>
<path d="M129.02 323.22V324.3M129.02 326.7V327.78" stroke="#777777" stroke-width="0.9"/><rect x="124.9" y="324.3" width="8.24" height="2.4" fill="#D5D5F0" stroke="#777777" stroke-width="0.85"/><path d="M124.9 325.5H133.14" stroke="#333" stroke-width="1.05"/><circle cx="129.02" cy="332.2" r="1.25" fill="#111"/>
<path d="M142.83 327.66V328.7M142.83 331V332.04" stroke="#777777" stroke-width="0.9"/><rect x="138.71" y="328.7" width="8.24" height="2.3" fill="#F0BCBC" stroke="#777777" stroke-width="0.85"/><path d="M138.71 329.6H146.95" stroke="#333" stroke-width="1.05"/>
<path d="M151.07 325.66V326.7M151.07 329V330.04" stroke="#777777" stroke-width="0.9"/><rect x="146.95" y="326.7" width="8.24" height="2.3" fill="#D5D5F0" stroke="#777777" stroke-width="0.85"/><path d="M146.95 327.7H155.19" stroke="#333" stroke-width="1.05"/>
<path d="M164.88 329.7V330.6M164.88 332.6V334.6" stroke="#777777" stroke-width="0.9"/><rect x="160.76" y="330.6" width="8.24" height="2" fill="#F0BCBC" stroke="#777777" stroke-width="0.85"/><path d="M160.76 332H169" stroke="#333" stroke-width="1.05"/>
<path d="M173.12 325.94V327.7M173.12 331.6V333.36" stroke="#777777" stroke-width="0.9"/><rect x="169" y="327.7" width="8.24" height="3.9" fill="#D5D5F0" stroke="#777777" stroke-width="0.85"/><path d="M169 329H177.24" stroke="#333" stroke-width="1.05"/>
<path d="M186.93 330.39V331.2M186.93 333V333.81" stroke="#777777" stroke-width="0.9"/><rect x="182.81" y="331.2" width="8.24" height="1.8" fill="#F0BCBC" stroke="#777777" stroke-width="0.85"/><path d="M182.81 332.6H191.05" stroke="#333" stroke-width="1.05"/>
<path d="M195.17 323.92V326.3M195.17 331.6V333.99" stroke="#777777" stroke-width="0.9"/><rect x="191.05" y="326.3" width="8.24" height="5.3" fill="#D5D5F0" stroke="#777777" stroke-width="0.85"/><path d="M191.05 328.7H199.29" stroke="#333" stroke-width="1.05"/>
<path d="M208.98 329.26V331.2M208.98 335.5V337.44" stroke="#777777" stroke-width="0.9"/><rect x="204.86" y="331.2" width="8.24" height="4.3" fill="#F0BCBC" stroke="#777777" stroke-width="0.85"/><path d="M204.86 335H213.1" stroke="#333" stroke-width="1.05"/>
<path d="M217.22 325.49V327.7M217.22 332.6V338.5" stroke="#777777" stroke-width="0.9"/><rect x="213.1" y="327.7" width="8.24" height="4.9" fill="#D5D5F0" stroke="#777777" stroke-width="0.85"/><path d="M213.1 329H221.34" stroke="#333" stroke-width="1.05"/>
<path d="M231.03 329.58V331.6M231.03 336.1V338.12" stroke="#777777" stroke-width="0.9"/><rect x="226.91" y="331.6" width="8.24" height="4.5" fill="#F0BCBC" stroke="#777777" stroke-width="0.85"/><path d="M226.91 335H235.15" stroke="#333" stroke-width="1.05"/>
<path d="M239.27 326.37V328.3M239.27 332.6V338.5" stroke="#777777" stroke-width="0.9"/><rect x="235.15" y="328.3" width="8.24" height="4.3" fill="#D5D5F0" stroke="#777777" stroke-width="0.85"/><path d="M235.15 329.6H243.39" stroke="#333" stroke-width="1.05"/>
<path d="M253.08 329.12V331.6M253.08 337.1V339.58" stroke="#777777" stroke-width="0.9"/><rect x="248.96" y="331.6" width="8.24" height="5.5" fill="#F0BCBC" stroke="#777777" stroke-width="0.85"/><path d="M248.96 333.6H257.2" stroke="#333" stroke-width="1.05"/>
<path d="M261.32 325.49V327.7M261.32 332.6V336.5" stroke="#777777" stroke-width="0.9"/><rect x="257.2" y="327.7" width="8.24" height="4.9" fill="#D5D5F0" stroke="#777777" stroke-width="0.85"/><path d="M257.2 330.2H265.44" stroke="#333" stroke-width="1.05"/>
<path d="M275.13 331.4V333.6M275.13 338.5V340.7" stroke="#777777" stroke-width="0.9"/><rect x="271.01" y="333.6" width="8.24" height="4.9" fill="#F0BCBC" stroke="#777777" stroke-width="0.85"/><path d="M271.01 336.1H279.25" stroke="#333" stroke-width="1.05"/>
<path d="M283.37 327.8V329.6M283.37 333.6V337.5" stroke="#777777" stroke-width="0.9"/><rect x="279.25" y="329.6" width="8.24" height="4" fill="#D5D5F0" stroke="#777777" stroke-width="0.85"/><path d="M279.25 330.6H287.49" stroke="#333" stroke-width="1.05"/>
<path d="M297.18 332.4V334.6M297.18 339.5V341.7" stroke="#777777" stroke-width="0.9"/><rect x="293.06" y="334.6" width="8.24" height="4.9" fill="#F0BCBC" stroke="#777777" stroke-width="0.85"/><path d="M293.06 336.9H301.3" stroke="#333" stroke-width="1.05"/>
<path d="M305.42 327.81V330.2M305.42 335.5V341.5" stroke="#777777" stroke-width="0.9"/><rect x="301.3" y="330.2" width="8.24" height="5.3" fill="#D5D5F0" stroke="#777777" stroke-width="0.85"/><path d="M301.3 332.6H309.54" stroke="#333" stroke-width="1.05"/>
<path d="M319.23 333.25V335.5M319.23 340.5V342.75" stroke="#777777" stroke-width="0.9"/><rect x="315.11" y="335.5" width="8.24" height="5" fill="#F0BCBC" stroke="#777777" stroke-width="0.85"/><path d="M315.11 338.5H323.35" stroke="#333" stroke-width="1.05"/>
<path d="M327.47 331.88V332.6M327.47 334.2V334.92" stroke="#777777" stroke-width="0.9"/><rect x="323.35" y="332.6" width="8.24" height="1.6" fill="#D5D5F0" stroke="#777777" stroke-width="0.85"/><path d="M323.35 333.4H331.59" stroke="#333" stroke-width="1.05"/><circle cx="327.47" cy="340.1" r="1.25" fill="#111"/>
<path d="M341.28 335.7V337.5M341.28 341.5V343.3" stroke="#777777" stroke-width="0.9"/><rect x="337.16" y="337.5" width="8.24" height="4" fill="#F0BCBC" stroke="#777777" stroke-width="0.85"/><path d="M337.16 340.1H345.4" stroke="#333" stroke-width="1.05"/>
<path d="M349.52 329.85V331.6M349.52 335.5V340.5" stroke="#777777" stroke-width="0.9"/><rect x="345.4" y="331.6" width="8.24" height="3.9" fill="#D5D5F0" stroke="#777777" stroke-width="0.85"/><path d="M345.4 334.2H353.64" stroke="#333" stroke-width="1.05"/>
<path d="M363.33 337.6V338.5M363.33 340.5V341.4" stroke="#777777" stroke-width="0.9"/><rect x="359.21" y="338.5" width="8.24" height="2" fill="#F0BCBC" stroke="#777777" stroke-width="0.85"/><path d="M359.21 339.5H367.45" stroke="#333" stroke-width="1.05"/>
<path d="M371.57 330.85V332.6M371.57 336.5V340.5" stroke="#777777" stroke-width="0.9"/><rect x="367.45" y="332.6" width="8.24" height="3.9" fill="#D5D5F0" stroke="#777777" stroke-width="0.85"/><path d="M367.45 334.2H375.69" stroke="#333" stroke-width="1.05"/>
<path d="M385.38 337.15V338.5M385.38 341.5V342.85" stroke="#777777" stroke-width="0.9"/><rect x="381.26" y="338.5" width="8.24" height="3" fill="#F0BCBC" stroke="#777777" stroke-width="0.85"/><path d="M381.26 340.1H389.5" stroke="#333" stroke-width="1.05"/>
<path d="M393.62 332.48V333.6M393.62 336.1V337.23" stroke="#777777" stroke-width="0.9"/><rect x="389.5" y="333.6" width="8.24" height="2.5" fill="#D5D5F0" stroke="#777777" stroke-width="0.85"/><path d="M389.5 334.6H397.74" stroke="#333" stroke-width="1.05"/><circle cx="393.62" cy="340.5" r="1.25" fill="#111"/>
<path d="M407.43 337.15V338.5M407.43 341.5V342.85" stroke="#777777" stroke-width="0.9"/><rect x="403.31" y="338.5" width="8.24" height="3" fill="#F0BCBC" stroke="#777777" stroke-width="0.85"/><path d="M403.31 340.1H411.55" stroke="#333" stroke-width="1.05"/>
<path d="M415.67 330.4V332.6M415.67 337.5V339.7" stroke="#777777" stroke-width="0.9"/><rect x="411.55" y="332.6" width="8.24" height="4.9" fill="#D5D5F0" stroke="#777777" stroke-width="0.85"/><path d="M411.55 335H419.79" stroke="#333" stroke-width="1.05"/>
<path d="M429.48 336.75V338.5M429.48 342.4V344.15" stroke="#777777" stroke-width="0.9"/><rect x="425.36" y="338.5" width="8.24" height="3.9" fill="#F0BCBC" stroke="#777777" stroke-width="0.85"/><path d="M425.36 340.5H433.6" stroke="#333" stroke-width="1.05"/><circle cx="429.48" cy="334.6" r="1.25" fill="#111"/>
<path d="M437.72 331.58V333.6M437.72 338.1V341.5" stroke="#777777" stroke-width="0.9"/><rect x="433.6" y="333.6" width="8.24" height="4.5" fill="#D5D5F0" stroke="#777777" stroke-width="0.85"/><path d="M433.6 335.5H441.84" stroke="#333" stroke-width="1.05"/>
<path d="M451.53 336.75V338.5M451.53 342.4V344.15" stroke="#777777" stroke-width="0.9"/><rect x="447.41" y="338.5" width="8.24" height="3.9" fill="#F0BCBC" stroke="#777777" stroke-width="0.85"/><path d="M447.41 340.5H455.65" stroke="#333" stroke-width="1.05"/><circle cx="451.53" cy="334.6" r="1.25" fill="#111"/>
<path d="M459.77 330.4V332.6M459.77 337.5V341.5" stroke="#777777" stroke-width="0.9"/><rect x="455.65" y="332.6" width="8.24" height="4.9" fill="#D5D5F0" stroke="#777777" stroke-width="0.85"/><path d="M455.65 335H463.89" stroke="#333" stroke-width="1.05"/>
<path d="M473.58 338.89V340.1M473.58 342.8V344.01" stroke="#777777" stroke-width="0.9"/><rect x="469.46" y="340.1" width="8.24" height="2.7" fill="#F0BCBC" stroke="#777777" stroke-width="0.85"/><path d="M469.46 341.5H477.7" stroke="#333" stroke-width="1.05"/>
<path d="M481.82 333.61V335M481.82 338.1V340.5" stroke="#777777" stroke-width="0.9"/><rect x="477.7" y="335" width="8.24" height="3.1" fill="#D5D5F0" stroke="#777777" stroke-width="0.85"/><path d="M477.7 336.5H485.94" stroke="#333" stroke-width="1.05"/>
<path d="M495.63 338.01V339.5M495.63 342.8V344.29" stroke="#777777" stroke-width="0.9"/><rect x="491.51" y="339.5" width="8.24" height="3.3" fill="#F0BCBC" stroke="#777777" stroke-width="0.85"/><path d="M491.51 341.5H499.75" stroke="#333" stroke-width="1.05"/>
<path d="M503.87 333.7V335.5M503.87 339.5V341.3" stroke="#777777" stroke-width="0.9"/><rect x="499.75" y="335.5" width="8.24" height="4" fill="#D5D5F0" stroke="#777777" stroke-width="0.85"/><path d="M499.75 337.5H507.99" stroke="#333" stroke-width="1.05"/>
<path d="M517.68 338.01V339.5M517.68 342.8V344.29" stroke="#777777" stroke-width="0.9"/><rect x="513.56" y="339.5" width="8.24" height="3.3" fill="#F0BCBC" stroke="#777777" stroke-width="0.85"/><path d="M513.56 342H521.8" stroke="#333" stroke-width="1.05"/>
<path d="M525.92 332.26V334.2M525.92 338.5V342.4" stroke="#777777" stroke-width="0.9"/><rect x="521.8" y="334.2" width="8.24" height="4.3" fill="#D5D5F0" stroke="#777777" stroke-width="0.85"/><path d="M521.8 336.1H530.04" stroke="#333" stroke-width="1.05"/>
<path d="M539.73 338.01V339.5M539.73 342.8V344.29" stroke="#777777" stroke-width="0.9"/><rect x="535.61" y="339.5" width="8.24" height="3.3" fill="#F0BCBC" stroke="#777777" stroke-width="0.85"/><path d="M535.61 342H543.85" stroke="#333" stroke-width="1.05"/>
<path d="M547.97 332.08V334.2M547.97 338.9V342.4" stroke="#777777" stroke-width="0.9"/><rect x="543.85" y="334.2" width="8.24" height="4.7" fill="#D5D5F0" stroke="#777777" stroke-width="0.85"/><path d="M543.85 336.5H552.09" stroke="#333" stroke-width="1.05"/>
<path d="M561.78 337.51V339.4M561.78 343.6V345.49" stroke="#777777" stroke-width="0.9"/><rect x="557.66" y="339.4" width="8.24" height="4.2" fill="#F0BCBC" stroke="#777777" stroke-width="0.85"/><path d="M557.66 342.3H565.9" stroke="#333" stroke-width="1.05"/>
<path d="M570.02 331.42V333.9M570.02 339.4V341.5" stroke="#777777" stroke-width="0.9"/><rect x="565.9" y="333.9" width="8.24" height="5.5" fill="#D5D5F0" stroke="#777777" stroke-width="0.85"/><path d="M565.9 336.6H574.14" stroke="#333" stroke-width="1.05"/>
<path d="M583.83 337.5V339.9M583.83 343.6V345.27" stroke="#777777" stroke-width="0.9"/><rect x="579.71" y="339.9" width="8.24" height="3.7" fill="#F0BCBC" stroke="#777777" stroke-width="0.85"/><path d="M579.71 342H587.95" stroke="#333" stroke-width="1.05"/>
<path d="M592.07 332.32V333.9M592.07 337.4V339.9" stroke="#777777" stroke-width="0.9"/><rect x="587.95" y="333.9" width="8.24" height="3.5" fill="#D5D5F0" stroke="#777777" stroke-width="0.85"/><path d="M587.95 335.8H596.19" stroke="#333" stroke-width="1.05"/>
<path d="M605.88 338.23V339.9M605.88 343.6V345.27" stroke="#777777" stroke-width="0.9"/><rect x="601.76" y="339.9" width="8.24" height="3.7" fill="#F0BCBC" stroke="#777777" stroke-width="0.85"/><path d="M601.76 342H610" stroke="#333" stroke-width="1.05"/>
<path d="M614.12 331.6V333.9M614.12 339V343.1" stroke="#777777" stroke-width="0.9"/><rect x="610" y="333.9" width="8.24" height="5.1" fill="#D5D5F0" stroke="#777777" stroke-width="0.85"/><path d="M610 336.6H618.24" stroke="#333" stroke-width="1.05"/>
<path d="M627.93 337.65V339.5M627.93 343.6V345.45" stroke="#777777" stroke-width="0.9"/><rect x="623.81" y="339.5" width="8.24" height="4.1" fill="#F0BCBC" stroke="#777777" stroke-width="0.85"/><path d="M623.81 341.5H632.05" stroke="#333" stroke-width="1.05"/>
<path d="M636.17 332.76V334.2M636.17 337.4V341" stroke="#777777" stroke-width="0.9"/><rect x="632.05" y="334.2" width="8.24" height="3.2" fill="#D5D5F0" stroke="#777777" stroke-width="0.85"/><path d="M632.05 335H640.29" stroke="#333" stroke-width="1.05"/>
<path d="M76.68 310L79.58 312.9L76.68 315.8L73.78 312.9ZM73.78 312.9H79.58M76.68 310V315.8" stroke="#CC6666" stroke-width="1.0" fill="none"/>
<path d="M84.92 310L87.82 312.9L84.92 315.8L82.02 312.9ZM82.02 312.9H87.82M84.92 310V315.8" stroke="#9999CC" stroke-width="1.0" fill="none"/>
<path d="M98.73 322.8L101.63 325.7L98.73 328.6L95.83 325.7ZM95.83 325.7H101.63M98.73 322.8V328.6" stroke="#CC6666" stroke-width="1.0" fill="none"/>
<path d="M106.97 321.8L109.87 324.7L106.97 327.6L104.07 324.7ZM104.07 324.7H109.87M106.97 321.8V327.6" stroke="#9999CC" stroke-width="1.0" fill="none"/>
<path d="M120.78 325.8L123.68 328.7L120.78 331.6L117.88 328.7ZM117.88 328.7H123.68M120.78 325.8V331.6" stroke="#CC6666" stroke-width="1.0" fill="none"/>
<path d="M129.02 322.8L131.92 325.7L129.02 328.6L126.12 325.7ZM126.12 325.7H131.92M129.02 322.8V328.6" stroke="#9999CC" stroke-width="1.0" fill="none"/>
<path d="M142.83 327.3L145.73 330.2L142.83 333.1L139.93 330.2ZM139.93 330.2H145.73M142.83 327.3V333.1" stroke="#CC6666" stroke-width="1.0" fill="none"/>
<path d="M151.07 323.4L153.97 326.3L151.07 329.2L148.17 326.3ZM148.17 326.3H153.97M151.07 323.4V329.2" stroke="#9999CC" stroke-width="1.0" fill="none"/>
<path d="M164.88 325.8L167.78 328.7L164.88 331.6L161.98 328.7ZM161.98 328.7H167.78M164.88 325.8V331.6" stroke="#CC6666" stroke-width="1.0" fill="none"/>
<path d="M173.12 322.8L176.02 325.7L173.12 328.6L170.22 325.7ZM170.22 325.7H176.02M173.12 322.8V328.6" stroke="#9999CC" stroke-width="1.0" fill="none"/>
<path d="M186.93 327.3L189.83 330.2L186.93 333.1L184.03 330.2ZM184.03 330.2H189.83M186.93 327.3V333.1" stroke="#CC6666" stroke-width="1.0" fill="none"/>
<path d="M195.17 325.8L198.07 328.7L195.17 331.6L192.27 328.7ZM192.27 328.7H198.07M195.17 325.8V331.6" stroke="#9999CC" stroke-width="1.0" fill="none"/>
<path d="M208.98 330.1L211.88 333L208.98 335.9L206.08 333ZM206.08 333H211.88M208.98 330.1V335.9" stroke="#CC6666" stroke-width="1.0" fill="none"/>
<path d="M217.22 326.7L220.12 329.6L217.22 332.5L214.32 329.6ZM214.32 329.6H220.12M217.22 326.7V332.5" stroke="#9999CC" stroke-width="1.0" fill="none"/>
<path d="M231.03 330.7L233.93 333.6L231.03 336.5L228.13 333.6ZM228.13 333.6H233.93M231.03 330.7V336.5" stroke="#CC6666" stroke-width="1.0" fill="none"/>
<path d="M239.27 327.3L242.17 330.2L239.27 333.1L236.37 330.2ZM236.37 330.2H242.17M239.27 327.3V333.1" stroke="#9999CC" stroke-width="1.0" fill="none"/>
<path d="M253.08 331.3L255.98 334.2L253.08 337.1L250.18 334.2ZM250.18 334.2H255.98M253.08 331.3V337.1" stroke="#CC6666" stroke-width="1.0" fill="none"/>
<path d="M261.32 326.7L264.22 329.6L261.32 332.5L258.42 329.6ZM258.42 329.6H264.22M261.32 326.7V332.5" stroke="#9999CC" stroke-width="1.0" fill="none"/>
<path d="M275.13 333.2L278.03 336.1L275.13 339L272.23 336.1ZM272.23 336.1H278.03M275.13 333.2V339" stroke="#CC6666" stroke-width="1.0" fill="none"/>
<path d="M283.37 328.3L286.27 331.2L283.37 334.1L280.47 331.2ZM280.47 331.2H286.27M283.37 328.3V334.1" stroke="#9999CC" stroke-width="1.0" fill="none"/>
<path d="M297.18 334.2L300.08 337.1L297.18 340L294.28 337.1ZM294.28 337.1H300.08M297.18 334.2V340" stroke="#CC6666" stroke-width="1.0" fill="none"/>
<path d="M305.42 329.7L308.32 332.6L305.42 335.5L302.52 332.6ZM302.52 332.6H308.32M305.42 329.7V335.5" stroke="#9999CC" stroke-width="1.0" fill="none"/>
<path d="M319.23 334L322.13 336.9L319.23 339.8L316.33 336.9ZM316.33 336.9H322.13M319.23 334V339.8" stroke="#CC6666" stroke-width="1.0" fill="none"/>
<path d="M327.47 329.7L330.37 332.6L327.47 335.5L324.57 332.6ZM324.57 332.6H330.37M327.47 329.7V335.5" stroke="#9999CC" stroke-width="1.0" fill="none"/>
<path d="M341.28 334L344.18 336.9L341.28 339.8L338.38 336.9ZM338.38 336.9H344.18M341.28 334V339.8" stroke="#CC6666" stroke-width="1.0" fill="none"/>
<path d="M349.52 329.3L352.42 332.2L349.52 335.1L346.62 332.2ZM346.62 332.2H352.42M349.52 329.3V335.1" stroke="#9999CC" stroke-width="1.0" fill="none"/>
<path d="M363.33 334.6L366.23 337.5L363.33 340.4L360.43 337.5ZM360.43 337.5H366.23M363.33 334.6V340.4" stroke="#CC6666" stroke-width="1.0" fill="none"/>
<path d="M371.57 329.7L374.47 332.6L371.57 335.5L368.67 332.6ZM368.67 332.6H374.47M371.57 329.7V335.5" stroke="#9999CC" stroke-width="1.0" fill="none"/>
<path d="M385.38 336L388.28 338.9L385.38 341.8L382.48 338.9ZM382.48 338.9H388.28M385.38 336V341.8" stroke="#CC6666" stroke-width="1.0" fill="none"/>
<path d="M393.62 328.7L396.52 331.6L393.62 334.5L390.72 331.6ZM390.72 331.6H396.52M393.62 328.7V334.5" stroke="#9999CC" stroke-width="1.0" fill="none"/>
<path d="M407.43 335.6L410.33 338.5L407.43 341.4L404.53 338.5ZM404.53 338.5H410.33M407.43 335.6V341.4" stroke="#CC6666" stroke-width="1.0" fill="none"/>
<path d="M415.67 331.3L418.57 334.2L415.67 337.1L412.77 334.2ZM412.77 334.2H418.57M415.67 331.3V337.1" stroke="#9999CC" stroke-width="1.0" fill="none"/>
<path d="M429.48 337.2L432.38 340.1L429.48 343L426.58 340.1ZM426.58 340.1H432.38M429.48 337.2V343" stroke="#CC6666" stroke-width="1.0" fill="none"/>
<path d="M437.72 332.6L440.62 335.5L437.72 338.4L434.82 335.5ZM434.82 335.5H440.62M437.72 332.6V338.4" stroke="#9999CC" stroke-width="1.0" fill="none"/>
<path d="M451.53 337.2L454.43 340.1L451.53 343L448.63 340.1ZM448.63 340.1H454.43M451.53 337.2V343" stroke="#CC6666" stroke-width="1.0" fill="none"/>
<path d="M459.77 329.7L462.67 332.6L459.77 335.5L456.87 332.6ZM456.87 332.6H462.67M459.77 329.7V335.5" stroke="#9999CC" stroke-width="1.0" fill="none"/>
<path d="M473.58 336L476.48 338.9L473.58 341.8L470.68 338.9ZM470.68 338.9H476.48M473.58 336V341.8" stroke="#CC6666" stroke-width="1.0" fill="none"/>
<path d="M481.82 329.7L484.72 332.6L481.82 335.5L478.92 332.6ZM478.92 332.6H484.72M481.82 329.7V335.5" stroke="#9999CC" stroke-width="1.0" fill="none"/>
<path d="M495.63 337.6L498.53 340.5L495.63 343.4L492.73 340.5ZM492.73 340.5H498.53M495.63 337.6V343.4" stroke="#CC6666" stroke-width="1.0" fill="none"/>
<path d="M503.87 333.2L506.77 336.1L503.87 339L500.97 336.1ZM500.97 336.1H506.77M503.87 333.2V339" stroke="#9999CC" stroke-width="1.0" fill="none"/>
<path d="M517.68 338L520.58 340.9L517.68 343.8L514.78 340.9ZM514.78 340.9H520.58M517.68 338V343.8" stroke="#CC6666" stroke-width="1.0" fill="none"/>
<path d="M525.92 330.7L528.82 333.6L525.92 336.5L523.02 333.6ZM523.02 333.6H528.82M525.92 330.7V336.5" stroke="#9999CC" stroke-width="1.0" fill="none"/>
<path d="M539.73 338L542.63 340.9L539.73 343.8L536.83 340.9ZM536.83 340.9H542.63M539.73 338V343.8" stroke="#CC6666" stroke-width="1.0" fill="none"/>
<path d="M547.97 331.7L550.87 334.6L547.97 337.5L545.07 334.6ZM545.07 334.6H550.87M547.97 331.7V337.5" stroke="#9999CC" stroke-width="1.0" fill="none"/>
<path d="M561.78 338.1L564.68 341L561.78 343.9L558.88 341ZM558.88 341H564.68M561.78 338.1V343.9" stroke="#CC6666" stroke-width="1.0" fill="none"/>
<path d="M570.02 332.1L572.92 335L570.02 337.9L567.12 335ZM567.12 335H572.92M570.02 332.1V337.9" stroke="#9999CC" stroke-width="1.0" fill="none"/>
<path d="M583.83 339.4L586.73 342.3L583.83 345.2L580.93 342.3ZM580.93 342.3H586.73M583.83 339.4V345.2" stroke="#CC6666" stroke-width="1.0" fill="none"/>
<path d="M592.07 332.9L594.97 335.8L592.07 338.7L589.17 335.8ZM589.17 335.8H594.97M592.07 332.9V338.7" stroke="#9999CC" stroke-width="1.0" fill="none"/>
<path d="M605.88 339.1L608.78 342L605.88 344.9L602.98 342ZM602.98 342H608.78M605.88 339.1V344.9" stroke="#CC6666" stroke-width="1.0" fill="none"/>
<path d="M614.12 332.1L617.02 335L614.12 337.9L611.22 335ZM611.22 335H617.02M614.12 332.1V337.9" stroke="#9999CC" stroke-width="1.0" fill="none"/>
<path d="M627.93 339.1L630.83 342L627.93 344.9L625.03 342ZM625.03 342H630.83M627.93 339.1V344.9" stroke="#CC6666" stroke-width="1.0" fill="none"/>
<path d="M636.17 329.7L639.07 332.6L636.17 335.5L633.27 332.6ZM633.27 332.6H639.07M636.17 329.7V335.5" stroke="#9999CC" stroke-width="1.0" fill="none"/>
</g>
<g clip-path="url(#c6)">
<path d="M76.68 364.2V365.1M76.68 367.1V368" stroke="#777777" stroke-width="0.9"/><rect x="72.56" y="365.1" width="8.24" height="2" fill="#F0BCBC" stroke="#777777" stroke-width="0.85"/><path d="M72.56 366.1H80.8" stroke="#333" stroke-width="1.05"/><circle cx="76.68" cy="360.3" r="1.25" fill="#111"/>
<path d="M84.92 364.2V365.1M84.92 367.1V368" stroke="#777777" stroke-width="0.9"/><rect x="80.8" y="365.1" width="8.24" height="2" fill="#D5D5F0" stroke="#777777" stroke-width="0.85"/><path d="M80.8 366.1H89.04" stroke="#333" stroke-width="1.05"/><circle cx="84.92" cy="360.3" r="1.25" fill="#111"/>
<path d="M98.73 366.93V368.5M98.73 372V373.57" stroke="#777777" stroke-width="0.9"/><rect x="94.61" y="368.5" width="8.24" height="3.5" fill="#F0BCBC" stroke="#777777" stroke-width="0.85"/><path d="M94.61 369.1H102.85" stroke="#333" stroke-width="1.05"/><circle cx="98.73" cy="377.3" r="1.25" fill="#111"/>
<path d="M106.97 366.75V368.5M106.97 372.4V374.15" stroke="#777777" stroke-width="0.9"/><rect x="102.85" y="368.5" width="8.24" height="3.9" fill="#D5D5F0" stroke="#777777" stroke-width="0.85"/><path d="M102.85 369.5H111.09" stroke="#333" stroke-width="1.05"/><circle cx="106.97" cy="377.3" r="1.25" fill="#111"/>
<path d="M120.78 372V372.6M120.78 373.4V374" stroke="#777777" stroke-width="0.9"/><rect x="116.66" y="372.6" width="8.24" height="0.8" fill="#F0BCBC" stroke="#777777" stroke-width="0.85"/><path d="M116.66 373H124.9" stroke="#333" stroke-width="1.05"/><circle cx="120.78" cy="370.6" r="1.25" fill="#111"/><circle cx="120.78" cy="379.5" r="1.25" fill="#111"/>
<path d="M129.02 369.47V371M129.02 374.4V375.93" stroke="#777777" stroke-width="0.9"/><rect x="124.9" y="371" width="8.24" height="3.4" fill="#D5D5F0" stroke="#777777" stroke-width="0.85"/><path d="M124.9 372.4H133.14" stroke="#333" stroke-width="1.05"/><circle cx="129.02" cy="378.9" r="1.25" fill="#111"/>
<path d="M142.83 374.75V375.6M142.83 377.5V378.36" stroke="#777777" stroke-width="0.9"/><rect x="138.71" y="375.6" width="8.24" height="1.9" fill="#F0BCBC" stroke="#777777" stroke-width="0.85"/><path d="M138.71 376.5H146.95" stroke="#333" stroke-width="1.05"/>
<path d="M151.07 371.92V373M151.07 375.4V376.48" stroke="#777777" stroke-width="0.9"/><rect x="146.95" y="373" width="8.24" height="2.4" fill="#D5D5F0" stroke="#777777" stroke-width="0.85"/><path d="M146.95 374H155.19" stroke="#333" stroke-width="1.05"/>
<path d="M164.88 377.18V377.9M164.88 379.5V380.22" stroke="#777777" stroke-width="0.9"/><rect x="160.76" y="377.9" width="8.24" height="1.6" fill="#F0BCBC" stroke="#777777" stroke-width="0.85"/><path d="M160.76 378.9H169" stroke="#333" stroke-width="1.05"/>
<path d="M173.12 372.43V374M173.12 377.5V379.07" stroke="#777777" stroke-width="0.9"/><rect x="169" y="374" width="8.24" height="3.5" fill="#D5D5F0" stroke="#777777" stroke-width="0.85"/><path d="M169 375H177.24" stroke="#333" stroke-width="1.05"/>
<path d="M186.93 377.18V377.9M186.93 379.5V380.22" stroke="#777777" stroke-width="0.9"/><rect x="182.81" y="377.9" width="8.24" height="1.6" fill="#F0BCBC" stroke="#777777" stroke-width="0.85"/><path d="M182.81 378.9H191.05" stroke="#333" stroke-width="1.05"/>
<path d="M195.17 370.8V373M195.17 377.9V380.1" stroke="#777777" stroke-width="0.9"/><rect x="191.05" y="373" width="8.24" height="4.9" fill="#D5D5F0" stroke="#777777" stroke-width="0.85"/><path d="M191.05 375H199.29" stroke="#333" stroke-width="1.05"/>
<path d="M208.98 375.92V377.9M208.98 382.3V384.28" stroke="#777777" stroke-width="0.9"/><rect x="204.86" y="377.9" width="8.24" height="4.4" fill="#F0BCBC" stroke="#777777" stroke-width="0.85"/><path d="M204.86 380.9H213.1" stroke="#333" stroke-width="1.05"/>
<path d="M217.22 371.52V374M217.22 379.5V384.8" stroke="#777777" stroke-width="0.9"/><rect x="213.1" y="374" width="8.24" height="5.5" fill="#D5D5F0" stroke="#777777" stroke-width="0.85"/><path d="M213.1 375.6H221.34" stroke="#333" stroke-width="1.05"/>
<path d="M231.03 375.92V377.9M231.03 382.3V384.28" stroke="#777777" stroke-width="0.9"/><rect x="226.91" y="377.9" width="8.24" height="4.4" fill="#F0BCBC" stroke="#777777" stroke-width="0.85"/><path d="M226.91 380.9H235.15" stroke="#333" stroke-width="1.05"/>
<path d="M239.27 372.98V375M239.27 379.5V384.8" stroke="#777777" stroke-width="0.9"/><rect x="235.15" y="375" width="8.24" height="4.5" fill="#D5D5F0" stroke="#777777" stroke-width="0.85"/><path d="M235.15 376.5H243.39" stroke="#333" stroke-width="1.05"/>
<path d="M253.08 375.42V377.9M253.08 383.4V385.88" stroke="#777777" stroke-width="0.9"/><rect x="248.96" y="377.9" width="8.24" height="5.5" fill="#F0BCBC" stroke="#777777" stroke-width="0.85"/><path d="M248.96 381.5H257.2" stroke="#333" stroke-width="1.05"/>
<path d="M261.32 371.8V374M261.32 378.9V383.8" stroke="#777777" stroke-width="0.9"/><rect x="257.2" y="374" width="8.24" height="4.9" fill="#D5D5F0" stroke="#777777" stroke-width="0.85"/><path d="M257.2 376H265.44" stroke="#333" stroke-width="1.05"/>
<path d="M275.13 377.12V379.5M275.13 384.8V387.19" stroke="#777777" stroke-width="0.9"/><rect x="271.01" y="379.5" width="8.24" height="5.3" fill="#F0BCBC" stroke="#777777" stroke-width="0.85"/><path d="M271.01 382.8H279.25" stroke="#333" stroke-width="1.05"/>
<path d="M283.37 374.25V376M283.37 379.9V384.8" stroke="#777777" stroke-width="0.9"/><rect x="279.25" y="376" width="8.24" height="3.9" fill="#D5D5F0" stroke="#777777" stroke-width="0.85"/><path d="M279.25 376.5H287.49" stroke="#333" stroke-width="1.05"/>
<path d="M297.18 377.82V380.3M297.18 385.8V388.28" stroke="#777777" stroke-width="0.9"/><rect x="293.06" y="380.3" width="8.24" height="5.5" fill="#F0BCBC" stroke="#777777" stroke-width="0.85"/><path d="M293.06 383.4H301.3" stroke="#333" stroke-width="1.05"/>
<path d="M305.42 374.65V376.9M305.42 381.9V387.4" stroke="#777777" stroke-width="0.9"/><rect x="301.3" y="376.9" width="8.24" height="5" fill="#D5D5F0" stroke="#777777" stroke-width="0.85"/><path d="M301.3 378.5H309.54" stroke="#333" stroke-width="1.05"/>
<path d="M319.23 379.12V381.5M319.23 386.8V389.19" stroke="#777777" stroke-width="0.9"/><rect x="315.11" y="381.5" width="8.24" height="5.3" fill="#F0BCBC" stroke="#777777" stroke-width="0.85"/><path d="M315.11 383.8H323.35" stroke="#333" stroke-width="1.05"/>
<path d="M327.47 378.18V378.9M327.47 380.5V381.22" stroke="#777777" stroke-width="0.9"/><rect x="323.35" y="378.9" width="8.24" height="1.6" fill="#D5D5F0" stroke="#777777" stroke-width="0.85"/><path d="M323.35 379.7H331.59" stroke="#333" stroke-width="1.05"/><circle cx="327.47" cy="386.2" r="1.25" fill="#111"/>
<path d="M341.28 382V383.8M341.28 387.8V389.6" stroke="#777777" stroke-width="0.9"/><rect x="337.16" y="383.8" width="8.24" height="4" fill="#F0BCBC" stroke="#777777" stroke-width="0.85"/><path d="M337.16 385.8H345.4" stroke="#333" stroke-width="1.05"/>
<path d="M349.52 376.5V378.3M349.52 382.3V387.4" stroke="#777777" stroke-width="0.9"/><rect x="345.4" y="378.3" width="8.24" height="4" fill="#D5D5F0" stroke="#777777" stroke-width="0.85"/><path d="M345.4 379.9H353.64" stroke="#333" stroke-width="1.05"/>
<path d="M363.33 382.45V383.8M363.33 386.8V388.15" stroke="#777777" stroke-width="0.9"/><rect x="359.21" y="383.8" width="8.24" height="3" fill="#F0BCBC" stroke="#777777" stroke-width="0.85"/><path d="M359.21 385.8H367.45" stroke="#333" stroke-width="1.05"/>
<path d="M371.57 376.88V378.9M371.57 383.4V386.8" stroke="#777777" stroke-width="0.9"/><rect x="367.45" y="378.9" width="8.24" height="4.5" fill="#D5D5F0" stroke="#777777" stroke-width="0.85"/><path d="M367.45 379.9H375.69" stroke="#333" stroke-width="1.05"/>
<path d="M385.38 382V383.8M385.38 387.8V389.6" stroke="#777777" stroke-width="0.9"/><rect x="381.26" y="383.8" width="8.24" height="4" fill="#F0BCBC" stroke="#777777" stroke-width="0.85"/><path d="M381.26 385.8H389.5" stroke="#333" stroke-width="1.05"/>
<path d="M393.62 378.82V379.9M393.62 382.3V383.38" stroke="#777777" stroke-width="0.9"/><rect x="389.5" y="379.9" width="8.24" height="2.4" fill="#D5D5F0" stroke="#777777" stroke-width="0.85"/><path d="M389.5 381H397.74" stroke="#333" stroke-width="1.05"/><circle cx="393.62" cy="386.8" r="1.25" fill="#111"/>
<path d="M407.43 382V383.8M407.43 387.8V389.6" stroke="#777777" stroke-width="0.9"/><rect x="403.31" y="383.8" width="8.24" height="4" fill="#F0BCBC" stroke="#777777" stroke-width="0.85"/><path d="M403.31 385.8H411.55" stroke="#333" stroke-width="1.05"/>
<path d="M415.67 376.69V378.9M415.67 383.8V386.01" stroke="#777777" stroke-width="0.9"/><rect x="411.55" y="378.9" width="8.24" height="4.9" fill="#D5D5F0" stroke="#777777" stroke-width="0.85"/><path d="M411.55 380.9H419.79" stroke="#333" stroke-width="1.05"/>
<path d="M429.48 382V383.8M429.48 387.8V389.6" stroke="#777777" stroke-width="0.9"/><rect x="425.36" y="383.8" width="8.24" height="4" fill="#F0BCBC" stroke="#777777" stroke-width="0.85"/><path d="M425.36 385.8H433.6" stroke="#333" stroke-width="1.05"/><circle cx="429.48" cy="380.9" r="1.25" fill="#111"/>
<path d="M437.72 377.96V379.9M437.72 384.2V386.13" stroke="#777777" stroke-width="0.9"/><rect x="433.6" y="379.9" width="8.24" height="4.3" fill="#D5D5F0" stroke="#777777" stroke-width="0.85"/><path d="M433.6 381.9H441.84" stroke="#333" stroke-width="1.05"/>
<path d="M451.53 382V383.8M451.53 387.8V389.6" stroke="#777777" stroke-width="0.9"/><rect x="447.41" y="383.8" width="8.24" height="4" fill="#F0BCBC" stroke="#777777" stroke-width="0.85"/><path d="M447.41 385.8H455.65" stroke="#333" stroke-width="1.05"/><circle cx="451.53" cy="380.9" r="1.25" fill="#111"/>
<path d="M459.77 376.69V378.9M459.77 383.8V386.01" stroke="#777777" stroke-width="0.9"/><rect x="455.65" y="378.9" width="8.24" height="4.9" fill="#D5D5F0" stroke="#777777" stroke-width="0.85"/><path d="M455.65 383.4H463.89" stroke="#333" stroke-width="1.05"/>
<path d="M473.58 383.6V385.4M473.58 389.4V391.2" stroke="#777777" stroke-width="0.9"/><rect x="469.46" y="385.4" width="8.24" height="4" fill="#F0BCBC" stroke="#777777" stroke-width="0.85"/><path d="M469.46 387.4H477.7" stroke="#333" stroke-width="1.05"/>
<path d="M481.82 379.41V380.9M481.82 384.2V388.4" stroke="#777777" stroke-width="0.9"/><rect x="477.7" y="380.9" width="8.24" height="3.3" fill="#D5D5F0" stroke="#777777" stroke-width="0.85"/><path d="M477.7 383.4H485.94" stroke="#333" stroke-width="1.05"/>
<path d="M495.63 383V384.8M495.63 388.8V390.6" stroke="#777777" stroke-width="0.9"/><rect x="491.51" y="384.8" width="8.24" height="4" fill="#F0BCBC" stroke="#777777" stroke-width="0.85"/><path d="M491.51 387.4H499.75" stroke="#333" stroke-width="1.05"/>
<path d="M503.87 379.56V381.5M503.87 385.8V387.74" stroke="#777777" stroke-width="0.9"/><rect x="499.75" y="381.5" width="8.24" height="4.3" fill="#D5D5F0" stroke="#777777" stroke-width="0.85"/><path d="M499.75 383.8H507.99" stroke="#333" stroke-width="1.05"/>
<path d="M517.68 383.6V385.4M517.68 389.4V391.2" stroke="#777777" stroke-width="0.9"/><rect x="513.56" y="385.4" width="8.24" height="4" fill="#F0BCBC" stroke="#777777" stroke-width="0.85"/><path d="M513.56 387.8H521.8" stroke="#333" stroke-width="1.05"/>
<path d="M525.92 377.06V379.9M525.92 386.2V389.4" stroke="#777777" stroke-width="0.9"/><rect x="521.8" y="379.9" width="8.24" height="6.3" fill="#D5D5F0" stroke="#777777" stroke-width="0.85"/><path d="M521.8 383.4H530.04" stroke="#333" stroke-width="1.05"/>
<path d="M539.73 383.6V385.4M539.73 389.4V391.2" stroke="#777777" stroke-width="0.9"/><rect x="535.61" y="385.4" width="8.24" height="4" fill="#F0BCBC" stroke="#777777" stroke-width="0.85"/><path d="M535.61 387.8H543.85" stroke="#333" stroke-width="1.05"/>
<path d="M547.97 377.06V379.9M547.97 386.2V389.4" stroke="#777777" stroke-width="0.9"/><rect x="543.85" y="379.9" width="8.24" height="6.3" fill="#D5D5F0" stroke="#777777" stroke-width="0.85"/><path d="M543.85 383.8H552.09" stroke="#333" stroke-width="1.05"/>
<path d="M561.78 383.8V385.6M561.78 389.6V391.4" stroke="#777777" stroke-width="0.9"/><rect x="557.66" y="385.6" width="8.24" height="4" fill="#F0BCBC" stroke="#777777" stroke-width="0.85"/><path d="M557.66 387.7H565.9" stroke="#333" stroke-width="1.05"/>
<path d="M570.02 377.83V380.4M570.02 386.1V388.5" stroke="#777777" stroke-width="0.9"/><rect x="565.9" y="380.4" width="8.24" height="5.7" fill="#D5D5F0" stroke="#777777" stroke-width="0.85"/><path d="M565.9 383.6H574.14" stroke="#333" stroke-width="1.05"/>
<path d="M583.83 384.3V386.1M583.83 390.1V391.9" stroke="#777777" stroke-width="0.9"/><rect x="579.71" y="386.1" width="8.24" height="4" fill="#F0BCBC" stroke="#777777" stroke-width="0.85"/><path d="M579.71 388H587.95" stroke="#333" stroke-width="1.05"/>
<path d="M592.07 378.6V380.4M592.07 384.4V386.9" stroke="#777777" stroke-width="0.9"/><rect x="587.95" y="380.4" width="8.24" height="4" fill="#D5D5F0" stroke="#777777" stroke-width="0.85"/><path d="M587.95 382.5H596.19" stroke="#333" stroke-width="1.05"/>
<path d="M605.88 384.08V386.1M605.88 390.6V392.62" stroke="#777777" stroke-width="0.9"/><rect x="601.76" y="386.1" width="8.24" height="4.5" fill="#F0BCBC" stroke="#777777" stroke-width="0.85"/><path d="M601.76 388.5H610" stroke="#333" stroke-width="1.05"/>
<path d="M614.12 378.01V380.4M614.12 385.7V389.3" stroke="#777777" stroke-width="0.9"/><rect x="610" y="380.4" width="8.24" height="5.3" fill="#D5D5F0" stroke="#777777" stroke-width="0.85"/><path d="M610 383.6H618.24" stroke="#333" stroke-width="1.05"/>
<path d="M627.93 384.3V386.1M627.93 390.1V391.9" stroke="#777777" stroke-width="0.9"/><rect x="623.81" y="386.1" width="8.24" height="4" fill="#F0BCBC" stroke="#777777" stroke-width="0.85"/><path d="M623.81 388.5H632.05" stroke="#333" stroke-width="1.05"/>
<path d="M636.17 378.6V380.4M636.17 384.4V387" stroke="#777777" stroke-width="0.9"/><rect x="632.05" y="380.4" width="8.24" height="4" fill="#D5D5F0" stroke="#777777" stroke-width="0.85"/><path d="M632.05 381H640.29" stroke="#333" stroke-width="1.05"/>
<path d="M76.68 356.3L79.58 359.2L76.68 362.1L73.78 359.2ZM73.78 359.2H79.58M76.68 356.3V362.1" stroke="#CC6666" stroke-width="1.0" fill="none"/>
<path d="M84.92 356.3L87.82 359.2L84.92 362.1L82.02 359.2ZM82.02 359.2H87.82M84.92 356.3V362.1" stroke="#9999CC" stroke-width="1.0" fill="none"/>
<path d="M98.73 369.1L101.63 372L98.73 374.9L95.83 372ZM95.83 372H101.63M98.73 369.1V374.9" stroke="#CC6666" stroke-width="1.0" fill="none"/>
<path d="M106.97 368.1L109.87 371L106.97 373.9L104.07 371ZM104.07 371H109.87M106.97 368.1V373.9" stroke="#9999CC" stroke-width="1.0" fill="none"/>
<path d="M120.78 372.1L123.68 375L120.78 377.9L117.88 375ZM117.88 375H123.68M120.78 372.1V377.9" stroke="#CC6666" stroke-width="1.0" fill="none"/>
<path d="M129.02 369.5L131.92 372.4L129.02 375.3L126.12 372.4ZM126.12 372.4H131.92M129.02 369.5V375.3" stroke="#9999CC" stroke-width="1.0" fill="none"/>
<path d="M142.83 373.4L145.73 376.3L142.83 379.2L139.93 376.3ZM139.93 376.3H145.73M142.83 373.4V379.2" stroke="#CC6666" stroke-width="1.0" fill="none"/>
<path d="M151.07 369.5L153.97 372.4L151.07 375.3L148.17 372.4ZM148.17 372.4H153.97M151.07 369.5V375.3" stroke="#9999CC" stroke-width="1.0" fill="none"/>
<path d="M164.88 372.1L167.78 375L164.88 377.9L161.98 375ZM161.98 375H167.78M164.88 372.1V377.9" stroke="#CC6666" stroke-width="1.0" fill="none"/>
<path d="M173.12 369.5L176.02 372.4L173.12 375.3L170.22 372.4ZM170.22 372.4H176.02M173.12 369.5V375.3" stroke="#9999CC" stroke-width="1.0" fill="none"/>
<path d="M186.93 373.4L189.83 376.3L186.93 379.2L184.03 376.3ZM184.03 376.3H189.83M186.93 373.4V379.2" stroke="#CC6666" stroke-width="1.0" fill="none"/>
<path d="M195.17 372.1L198.07 375L195.17 377.9L192.27 375ZM192.27 375H198.07M195.17 372.1V377.9" stroke="#9999CC" stroke-width="1.0" fill="none"/>
<path d="M208.98 376.6L211.88 379.5L208.98 382.4L206.08 379.5ZM206.08 379.5H211.88M208.98 376.6V382.4" stroke="#CC6666" stroke-width="1.0" fill="none"/>
<path d="M217.22 373.1L220.12 376L217.22 378.9L214.32 376ZM214.32 376H220.12M217.22 373.1V378.9" stroke="#9999CC" stroke-width="1.0" fill="none"/>
<path d="M231.03 377L233.93 379.9L231.03 382.8L228.13 379.9ZM228.13 379.9H233.93M231.03 377V382.8" stroke="#CC6666" stroke-width="1.0" fill="none"/>
<path d="M239.27 373.6L242.17 376.5L239.27 379.4L236.37 376.5ZM236.37 376.5H242.17M239.27 373.6V379.4" stroke="#9999CC" stroke-width="1.0" fill="none"/>
<path d="M253.08 377.4L255.98 380.3L253.08 383.2L250.18 380.3ZM250.18 380.3H255.98M253.08 377.4V383.2" stroke="#CC6666" stroke-width="1.0" fill="none"/>
<path d="M261.32 372.7L264.22 375.6L261.32 378.5L258.42 375.6ZM258.42 375.6H264.22M261.32 372.7V378.5" stroke="#9999CC" stroke-width="1.0" fill="none"/>
<path d="M275.13 379.6L278.03 382.5L275.13 385.4L272.23 382.5ZM272.23 382.5H278.03M275.13 379.6V385.4" stroke="#CC6666" stroke-width="1.0" fill="none"/>
<path d="M283.37 374.6L286.27 377.5L283.37 380.4L280.47 377.5ZM280.47 377.5H286.27M283.37 374.6V380.4" stroke="#9999CC" stroke-width="1.0" fill="none"/>
<path d="M297.18 380.5L300.08 383.4L297.18 386.3L294.28 383.4ZM294.28 383.4H300.08M297.18 380.5V386.3" stroke="#CC6666" stroke-width="1.0" fill="none"/>
<path d="M305.42 376L308.32 378.9L305.42 381.8L302.52 378.9ZM302.52 378.9H308.32M305.42 376V381.8" stroke="#9999CC" stroke-width="1.0" fill="none"/>
<path d="M319.23 379.9L322.13 382.8L319.23 385.7L316.33 382.8ZM316.33 382.8H322.13M319.23 379.9V385.7" stroke="#CC6666" stroke-width="1.0" fill="none"/>
<path d="M327.47 376L330.37 378.9L327.47 381.8L324.57 378.9ZM324.57 378.9H330.37M327.47 376V381.8" stroke="#9999CC" stroke-width="1.0" fill="none"/>
<path d="M341.28 380.5L344.18 383.4L341.28 386.3L338.38 383.4ZM338.38 383.4H344.18M341.28 380.5V386.3" stroke="#CC6666" stroke-width="1.0" fill="none"/>
<path d="M349.52 376L352.42 378.9L349.52 381.8L346.62 378.9ZM346.62 378.9H352.42M349.52 376V381.8" stroke="#9999CC" stroke-width="1.0" fill="none"/>
<path d="M363.33 380.9L366.23 383.8L363.33 386.7L360.43 383.8ZM360.43 383.8H366.23M363.33 380.9V386.7" stroke="#CC6666" stroke-width="1.0" fill="none"/>
<path d="M371.57 376.6L374.47 379.5L371.57 382.4L368.67 379.5ZM368.67 379.5H374.47M371.57 376.6V382.4" stroke="#9999CC" stroke-width="1.0" fill="none"/>
<path d="M385.38 382.5L388.28 385.4L385.38 388.3L382.48 385.4ZM382.48 385.4H388.28M385.38 382.5V388.3" stroke="#CC6666" stroke-width="1.0" fill="none"/>
<path d="M393.62 375.4L396.52 378.3L393.62 381.2L390.72 378.3ZM390.72 378.3H396.52M393.62 375.4V381.2" stroke="#9999CC" stroke-width="1.0" fill="none"/>
<path d="M407.43 381.9L410.33 384.8L407.43 387.7L404.53 384.8ZM404.53 384.8H410.33M407.43 381.9V387.7" stroke="#CC6666" stroke-width="1.0" fill="none"/>
<path d="M415.67 378L418.57 380.9L415.67 383.8L412.77 380.9ZM412.77 380.9H418.57M415.67 378V383.8" stroke="#9999CC" stroke-width="1.0" fill="none"/>
<path d="M429.48 382.9L432.38 385.8L429.48 388.7L426.58 385.8ZM426.58 385.8H432.38M429.48 382.9V388.7" stroke="#CC6666" stroke-width="1.0" fill="none"/>
<path d="M437.72 379L440.62 381.9L437.72 384.8L434.82 381.9ZM434.82 381.9H440.62M437.72 379V384.8" stroke="#9999CC" stroke-width="1.0" fill="none"/>
<path d="M451.53 382.9L454.43 385.8L451.53 388.7L448.63 385.8ZM448.63 385.8H454.43M451.53 382.9V388.7" stroke="#CC6666" stroke-width="1.0" fill="none"/>
<path d="M459.77 376.6L462.67 379.5L459.77 382.4L456.87 379.5ZM456.87 379.5H462.67M459.77 376.6V382.4" stroke="#9999CC" stroke-width="1.0" fill="none"/>
<path d="M473.58 382.5L476.48 385.4L473.58 388.3L470.68 385.4ZM470.68 385.4H476.48M473.58 382.5V388.3" stroke="#CC6666" stroke-width="1.0" fill="none"/>
<path d="M481.82 376L484.72 378.9L481.82 381.8L478.92 378.9ZM478.92 378.9H484.72M481.82 376V381.8" stroke="#9999CC" stroke-width="1.0" fill="none"/>
<path d="M495.63 383.3L498.53 386.2L495.63 389.1L492.73 386.2ZM492.73 386.2H498.53M495.63 383.3V389.1" stroke="#CC6666" stroke-width="1.0" fill="none"/>
<path d="M503.87 379.9L506.77 382.8L503.87 385.7L500.97 382.8ZM500.97 382.8H506.77M503.87 379.9V385.7" stroke="#9999CC" stroke-width="1.0" fill="none"/>
<path d="M517.68 383.9L520.58 386.8L517.68 389.7L514.78 386.8ZM514.78 386.8H520.58M517.68 383.9V389.7" stroke="#CC6666" stroke-width="1.0" fill="none"/>
<path d="M525.92 376.6L528.82 379.5L525.92 382.4L523.02 379.5ZM523.02 379.5H528.82M525.92 376.6V382.4" stroke="#9999CC" stroke-width="1.0" fill="none"/>
<path d="M539.73 383.9L542.63 386.8L539.73 389.7L536.83 386.8ZM536.83 386.8H542.63M539.73 383.9V389.7" stroke="#CC6666" stroke-width="1.0" fill="none"/>
<path d="M547.97 378L550.87 380.9L547.97 383.8L545.07 380.9ZM545.07 380.9H550.87M547.97 378V383.8" stroke="#9999CC" stroke-width="1.0" fill="none"/>
<path d="M561.78 384.5L564.68 387.4L561.78 390.3L558.88 387.4ZM558.88 387.4H564.68M561.78 384.5V390.3" stroke="#CC6666" stroke-width="1.0" fill="none"/>
<path d="M570.02 379.6L572.92 382.5L570.02 385.4L567.12 382.5ZM567.12 382.5H572.92M570.02 379.6V385.4" stroke="#9999CC" stroke-width="1.0" fill="none"/>
<path d="M583.83 385.6L586.73 388.5L583.83 391.4L580.93 388.5ZM580.93 388.5H586.73M583.83 385.6V391.4" stroke="#CC6666" stroke-width="1.0" fill="none"/>
<path d="M592.07 379.6L594.97 382.5L592.07 385.4L589.17 382.5ZM589.17 382.5H594.97M592.07 379.6V385.4" stroke="#9999CC" stroke-width="1.0" fill="none"/>
<path d="M605.88 386.1L608.78 389L605.88 391.9L602.98 389ZM602.98 389H608.78M605.88 386.1V391.9" stroke="#CC6666" stroke-width="1.0" fill="none"/>
<path d="M614.12 379.1L617.02 382L614.12 384.9L611.22 382ZM611.22 382H617.02M614.12 379.1V384.9" stroke="#9999CC" stroke-width="1.0" fill="none"/>
<path d="M627.93 385.1L630.83 388L627.93 390.9L625.03 388ZM625.03 388H630.83M627.93 385.1V390.9" stroke="#CC6666" stroke-width="1.0" fill="none"/>
<path d="M636.17 376.7L639.07 379.6L636.17 382.5L633.27 379.6ZM633.27 379.6H639.07M636.17 376.7V382.5" stroke="#9999CC" stroke-width="1.0" fill="none"/>
</g>
<g clip-path="url(#c7)">
<path d="M76.68 410.8V411.7M76.68 413.7V415.1" stroke="#777777" stroke-width="0.9"/><rect x="72.56" y="411.7" width="8.24" height="2" fill="#F0BCBC" stroke="#777777" stroke-width="0.85"/><path d="M72.56 412.5H80.8" stroke="#333" stroke-width="1.05"/><circle cx="76.68" cy="407.1" r="1.25" fill="#111"/>
<path d="M84.92 410.8V411.7M84.92 413.7V414.6" stroke="#777777" stroke-width="0.9"/><rect x="80.8" y="411.7" width="8.24" height="2" fill="#D5D5F0" stroke="#777777" stroke-width="0.85"/><path d="M80.8 412.5H89.04" stroke="#333" stroke-width="1.05"/><circle cx="84.92" cy="407.1" r="1.25" fill="#111"/>
<path d="M98.73 413.7V415.6M98.73 417.6V418.5" stroke="#777777" stroke-width="0.9"/><rect x="94.61" y="415.6" width="8.24" height="2" fill="#F0BCBC" stroke="#777777" stroke-width="0.85"/><path d="M94.61 416H102.85" stroke="#333" stroke-width="1.05"/><circle cx="98.73" cy="423.9" r="1.25" fill="#111"/>
<path d="M106.97 414.07V415.6M106.97 419V420.53" stroke="#777777" stroke-width="0.9"/><rect x="102.85" y="415.6" width="8.24" height="3.4" fill="#D5D5F0" stroke="#777777" stroke-width="0.85"/><path d="M102.85 416.4H111.09" stroke="#333" stroke-width="1.05"/><circle cx="106.97" cy="423.9" r="1.25" fill="#111"/>
<path d="M120.78 418.6V419.2M120.78 420V420.6" stroke="#777777" stroke-width="0.9"/><rect x="116.66" y="419.2" width="8.24" height="0.8" fill="#F0BCBC" stroke="#777777" stroke-width="0.85"/><path d="M116.66 419.6H124.9" stroke="#333" stroke-width="1.05"/><circle cx="120.78" cy="417.4" r="1.25" fill="#111"/><circle cx="120.78" cy="426.5" r="1.25" fill="#111"/>
<path d="M129.02 416.52V417.6M129.02 420V421.08" stroke="#777777" stroke-width="0.9"/><rect x="124.9" y="417.6" width="8.24" height="2.4" fill="#D5D5F0" stroke="#777777" stroke-width="0.85"/><path d="M124.9 418.8H133.14" stroke="#333" stroke-width="1.05"/><circle cx="129.02" cy="425.5" r="1.25" fill="#111"/>
<path d="M142.83 420.96V422M142.83 424.3V425.34" stroke="#777777" stroke-width="0.9"/><rect x="138.71" y="422" width="8.24" height="2.3" fill="#F0BCBC" stroke="#777777" stroke-width="0.85"/><path d="M138.71 422.9H146.95" stroke="#333" stroke-width="1.05"/>
<path d="M151.07 418.96V420M151.07 422.3V423.34" stroke="#777777" stroke-width="0.9"/><rect x="146.95" y="420" width="8.24" height="2.3" fill="#D5D5F0" stroke="#777777" stroke-width="0.85"/><path d="M146.95 421H155.19" stroke="#333" stroke-width="1.05"/>
<path d="M164.88 423V423.9M164.88 425.9V427.9" stroke="#777777" stroke-width="0.9"/><rect x="160.76" y="423.9" width="8.24" height="2" fill="#F0BCBC" stroke="#777777" stroke-width="0.85"/><path d="M160.76 425.3H169" stroke="#333" stroke-width="1.05"/>
<path d="M173.12 419.25V421M173.12 424.9V426.66" stroke="#777777" stroke-width="0.9"/><rect x="169" y="421" width="8.24" height="3.9" fill="#D5D5F0" stroke="#777777" stroke-width="0.85"/><path d="M169 422.3H177.24" stroke="#333" stroke-width="1.05"/>
<path d="M186.93 423.69V424.5M186.93 426.3V427.11" stroke="#777777" stroke-width="0.9"/><rect x="182.81" y="424.5" width="8.24" height="1.8" fill="#F0BCBC" stroke="#777777" stroke-width="0.85"/><path d="M182.81 425.9H191.05" stroke="#333" stroke-width="1.05"/>
<path d="M195.17 417.22V419.6M195.17 424.9V427.29" stroke="#777777" stroke-width="0.9"/><rect x="191.05" y="419.6" width="8.24" height="5.3" fill="#D5D5F0" stroke="#777777" stroke-width="0.85"/><path d="M191.05 422H199.29" stroke="#333" stroke-width="1.05"/>
<path d="M208.98 422.56V424.5M208.98 428.8V430.74" stroke="#777777" stroke-width="0.9"/><rect x="204.86" y="424.5" width="8.24" height="4.3" fill="#F0BCBC" stroke="#777777" stroke-width="0.85"/><path d="M204.86 428.3H213.1" stroke="#333" stroke-width="1.05"/>
<path d="M217.22 418.79V421M217.22 425.9V431.8" stroke="#777777" stroke-width="0.9"/><rect x="213.1" y="421" width="8.24" height="4.9" fill="#D5D5F0" stroke="#777777" stroke-width="0.85"/><path d="M213.1 422.3H221.34" stroke="#333" stroke-width="1.05"/>
<path d="M231.03 422.88V424.9M231.03 429.4V431.43" stroke="#777777" stroke-width="0.9"/><rect x="226.91" y="424.9" width="8.24" height="4.5" fill="#F0BCBC" stroke="#777777" stroke-width="0.85"/><path d="M226.91 428.3H235.15" stroke="#333" stroke-width="1.05"/>
<path d="M239.27 419.67V421.6M239.27 425.9V431.8" stroke="#777777" stroke-width="0.9"/><rect x="235.15" y="421.6" width="8.24" height="4.3" fill="#D5D5F0" stroke="#777777" stroke-width="0.85"/><path d="M235.15 422.9H243.39" stroke="#333" stroke-width="1.05"/>
<path d="M253.08 422.43V424.9M253.08 430.4V432.88" stroke="#777777" stroke-width="0.9"/><rect x="248.96" y="424.9" width="8.24" height="5.5" fill="#F0BCBC" stroke="#777777" stroke-width="0.85"/><path d="M248.96 426.9H257.2" stroke="#333" stroke-width="1.05"/>
<path d="M261.32 418.79V421M261.32 425.9V429.8" stroke="#777777" stroke-width="0.9"/><rect x="257.2" y="421" width="8.24" height="4.9" fill="#D5D5F0" stroke="#777777" stroke-width="0.85"/><path d="M257.2 423.5H265.44" stroke="#333" stroke-width="1.05"/>
<path d="M275.13 424.7V426.9M275.13 431.8V434" stroke="#777777" stroke-width="0.9"/><rect x="271.01" y="426.9" width="8.24" height="4.9" fill="#F0BCBC" stroke="#777777" stroke-width="0.85"/><path d="M271.01 429.4H279.25" stroke="#333" stroke-width="1.05"/>
<path d="M283.37 421.1V422.9M283.37 426.9V430.8" stroke="#777777" stroke-width="0.9"/><rect x="279.25" y="422.9" width="8.24" height="4" fill="#D5D5F0" stroke="#777777" stroke-width="0.85"/><path d="M279.25 423.9H287.49" stroke="#333" stroke-width="1.05"/>
<path d="M297.18 425.7V427.9M297.18 432.8V435" stroke="#777777" stroke-width="0.9"/><rect x="293.06" y="427.9" width="8.24" height="4.9" fill="#F0BCBC" stroke="#777777" stroke-width="0.85"/><path d="M293.06 430.2H301.3" stroke="#333" stroke-width="1.05"/>
<path d="M305.42 421.12V423.5M305.42 428.8V434.8" stroke="#777777" stroke-width="0.9"/><rect x="301.3" y="423.5" width="8.24" height="5.3" fill="#D5D5F0" stroke="#777777" stroke-width="0.85"/><path d="M301.3 425.9H309.54" stroke="#333" stroke-width="1.05"/>
<path d="M319.23 426.55V428.8M319.23 433.8V436.05" stroke="#777777" stroke-width="0.9"/><rect x="315.11" y="428.8" width="8.24" height="5" fill="#F0BCBC" stroke="#777777" stroke-width="0.85"/><path d="M315.11 431.8H323.35" stroke="#333" stroke-width="1.05"/>
<path d="M327.47 425.18V425.9M327.47 427.5V428.22" stroke="#777777" stroke-width="0.9"/><rect x="323.35" y="425.9" width="8.24" height="1.6" fill="#D5D5F0" stroke="#777777" stroke-width="0.85"/><path d="M323.35 426.7H331.59" stroke="#333" stroke-width="1.05"/><circle cx="327.47" cy="433.4" r="1.25" fill="#111"/>
<path d="M341.28 429V430.8M341.28 434.8V436.6" stroke="#777777" stroke-width="0.9"/><rect x="337.16" y="430.8" width="8.24" height="4" fill="#F0BCBC" stroke="#777777" stroke-width="0.85"/><path d="M337.16 433.4H345.4" stroke="#333" stroke-width="1.05"/>
<path d="M349.52 423.15V424.9M349.52 428.8V433.8" stroke="#777777" stroke-width="0.9"/><rect x="345.4" y="424.9" width="8.24" height="3.9" fill="#D5D5F0" stroke="#777777" stroke-width="0.85"/><path d="M345.4 427.5H353.64" stroke="#333" stroke-width="1.05"/>
<path d="M363.33 430.9V431.8M363.33 433.8V434.7" stroke="#777777" stroke-width="0.9"/><rect x="359.21" y="431.8" width="8.24" height="2" fill="#F0BCBC" stroke="#777777" stroke-width="0.85"/><path d="M359.21 432.8H367.45" stroke="#333" stroke-width="1.05"/>
<path d="M371.57 424.15V425.9M371.57 429.8V433.8" stroke="#777777" stroke-width="0.9"/><rect x="367.45" y="425.9" width="8.24" height="3.9" fill="#D5D5F0" stroke="#777777" stroke-width="0.85"/><path d="M367.45 427.5H375.69" stroke="#333" stroke-width="1.05"/>
<path d="M385.38 430.45V431.8M385.38 434.8V436.15" stroke="#777777" stroke-width="0.9"/><rect x="381.26" y="431.8" width="8.24" height="3" fill="#F0BCBC" stroke="#777777" stroke-width="0.85"/><path d="M381.26 433.4H389.5" stroke="#333" stroke-width="1.05"/>
<path d="M393.62 425.78V426.9M393.62 429.4V430.53" stroke="#777777" stroke-width="0.9"/><rect x="389.5" y="426.9" width="8.24" height="2.5" fill="#D5D5F0" stroke="#777777" stroke-width="0.85"/><path d="M389.5 427.9H397.74" stroke="#333" stroke-width="1.05"/><circle cx="393.62" cy="433.8" r="1.25" fill="#111"/>
<path d="M407.43 430.45V431.8M407.43 434.8V436.15" stroke="#777777" stroke-width="0.9"/><rect x="403.31" y="431.8" width="8.24" height="3" fill="#F0BCBC" stroke="#777777" stroke-width="0.85"/><path d="M403.31 433.4H411.55" stroke="#333" stroke-width="1.05"/>
<path d="M415.67 423.7V425.9M415.67 430.8V433" stroke="#777777" stroke-width="0.9"/><rect x="411.55" y="425.9" width="8.24" height="4.9" fill="#D5D5F0" stroke="#777777" stroke-width="0.85"/><path d="M411.55 428.3H419.79" stroke="#333" stroke-width="1.05"/>
<path d="M429.48 430.05V431.8M429.48 435.7V437.45" stroke="#777777" stroke-width="0.9"/><rect x="425.36" y="431.8" width="8.24" height="3.9" fill="#F0BCBC" stroke="#777777" stroke-width="0.85"/><path d="M425.36 433.8H433.6" stroke="#333" stroke-width="1.05"/><circle cx="429.48" cy="427.9" r="1.25" fill="#111"/>
<path d="M437.72 424.88V426.9M437.72 431.4V434.8" stroke="#777777" stroke-width="0.9"/><rect x="433.6" y="426.9" width="8.24" height="4.5" fill="#D5D5F0" stroke="#777777" stroke-width="0.85"/><path d="M433.6 428.8H441.84" stroke="#333" stroke-width="1.05"/>
<path d="M451.53 430.05V431.8M451.53 435.7V437.45" stroke="#777777" stroke-width="0.9"/><rect x="447.41" y="431.8" width="8.24" height="3.9" fill="#F0BCBC" stroke="#777777" stroke-width="0.85"/><path d="M447.41 433.8H455.65" stroke="#333" stroke-width="1.05"/><circle cx="451.53" cy="427.9" r="1.25" fill="#111"/>
<path d="M459.77 423.7V425.9M459.77 430.8V434.8" stroke="#777777" stroke-width="0.9"/><rect x="455.65" y="425.9" width="8.24" height="4.9" fill="#D5D5F0" stroke="#777777" stroke-width="0.85"/><path d="M455.65 428.3H463.89" stroke="#333" stroke-width="1.05"/>
<path d="M473.58 432.19V433.4M473.58 436.1V437.31" stroke="#777777" stroke-width="0.9"/><rect x="469.46" y="433.4" width="8.24" height="2.7" fill="#F0BCBC" stroke="#777777" stroke-width="0.85"/><path d="M469.46 434.8H477.7" stroke="#333" stroke-width="1.05"/>
<path d="M481.82 426.9V428.3M481.82 431.4V433.8" stroke="#777777" stroke-width="0.9"/><rect x="477.7" y="428.3" width="8.24" height="3.1" fill="#D5D5F0" stroke="#777777" stroke-width="0.85"/><path d="M477.7 429.8H485.94" stroke="#333" stroke-width="1.05"/>
<path d="M495.63 431.31V432.8M495.63 436.1V437.59" stroke="#777777" stroke-width="0.9"/><rect x="491.51" y="432.8" width="8.24" height="3.3" fill="#F0BCBC" stroke="#777777" stroke-width="0.85"/><path d="M491.51 434.8H499.75" stroke="#333" stroke-width="1.05"/>
<path d="M503.87 427V428.8M503.87 432.8V434.6" stroke="#777777" stroke-width="0.9"/><rect x="499.75" y="428.8" width="8.24" height="4" fill="#D5D5F0" stroke="#777777" stroke-width="0.85"/><path d="M499.75 430.8H507.99" stroke="#333" stroke-width="1.05"/>
<path d="M517.68 431.31V432.8M517.68 436.1V437.59" stroke="#777777" stroke-width="0.9"/><rect x="513.56" y="432.8" width="8.24" height="3.3" fill="#F0BCBC" stroke="#777777" stroke-width="0.85"/><path d="M513.56 435.3H521.8" stroke="#333" stroke-width="1.05"/>
<path d="M525.92 425.56V427.5M525.92 431.8V435.7" stroke="#777777" stroke-width="0.9"/><rect x="521.8" y="427.5" width="8.24" height="4.3" fill="#D5D5F0" stroke="#777777" stroke-width="0.85"/><path d="M521.8 429.4H530.04" stroke="#333" stroke-width="1.05"/>
<path d="M539.73 431.31V432.8M539.73 436.1V437.59" stroke="#777777" stroke-width="0.9"/><rect x="535.61" y="432.8" width="8.24" height="3.3" fill="#F0BCBC" stroke="#777777" stroke-width="0.85"/><path d="M535.61 435.3H543.85" stroke="#333" stroke-width="1.05"/>
<path d="M547.97 425.38V427.5M547.97 432.2V435.7" stroke="#777777" stroke-width="0.9"/><rect x="543.85" y="427.5" width="8.24" height="4.7" fill="#D5D5F0" stroke="#777777" stroke-width="0.85"/><path d="M543.85 429.8H552.09" stroke="#333" stroke-width="1.05"/>
<path d="M561.78 430.81V432.7M561.78 436.9V438.79" stroke="#777777" stroke-width="0.9"/><rect x="557.66" y="432.7" width="8.24" height="4.2" fill="#F0BCBC" stroke="#777777" stroke-width="0.85"/><path d="M557.66 435.6H565.9" stroke="#333" stroke-width="1.05"/>
<path d="M570.02 424.72V427.2M570.02 432.7V434.8" stroke="#777777" stroke-width="0.9"/><rect x="565.9" y="427.2" width="8.24" height="5.5" fill="#D5D5F0" stroke="#777777" stroke-width="0.85"/><path d="M565.9 429.9H574.14" stroke="#333" stroke-width="1.05"/>
<path d="M583.83 430.8V433.2M583.83 436.9V438.57" stroke="#777777" stroke-width="0.9"/><rect x="579.71" y="433.2" width="8.24" height="3.7" fill="#F0BCBC" stroke="#777777" stroke-width="0.85"/><path d="M579.71 435.3H587.95" stroke="#333" stroke-width="1.05"/>
<path d="M592.07 425.62V427.2M592.07 430.7V433.2" stroke="#777777" stroke-width="0.9"/><rect x="587.95" y="427.2" width="8.24" height="3.5" fill="#D5D5F0" stroke="#777777" stroke-width="0.85"/><path d="M587.95 429.1H596.19" stroke="#333" stroke-width="1.05"/>
<path d="M605.88 431.53V433.2M605.88 436.9V438.57" stroke="#777777" stroke-width="0.9"/><rect x="601.76" y="433.2" width="8.24" height="3.7" fill="#F0BCBC" stroke="#777777" stroke-width="0.85"/><path d="M601.76 435.3H610" stroke="#333" stroke-width="1.05"/>
<path d="M614.12 424.9V427.2M614.12 432.3V436.4" stroke="#777777" stroke-width="0.9"/><rect x="610" y="427.2" width="8.24" height="5.1" fill="#D5D5F0" stroke="#777777" stroke-width="0.85"/><path d="M610 429.9H618.24" stroke="#333" stroke-width="1.05"/>
<path d="M627.93 430.95V432.8M627.93 436.9V438.75" stroke="#777777" stroke-width="0.9"/><rect x="623.81" y="432.8" width="8.24" height="4.1" fill="#F0BCBC" stroke="#777777" stroke-width="0.85"/><path d="M623.81 434.8H632.05" stroke="#333" stroke-width="1.05"/>
<path d="M636.17 426.06V427.5M636.17 430.7V434.3" stroke="#777777" stroke-width="0.9"/><rect x="632.05" y="427.5" width="8.24" height="3.2" fill="#D5D5F0" stroke="#777777" stroke-width="0.85"/><path d="M632.05 428.3H640.29" stroke="#333" stroke-width="1.05"/>
<path d="M76.68 403.3L79.58 406.2L76.68 409.1L73.78 406.2ZM73.78 406.2H79.58M76.68 403.3V409.1" stroke="#CC6666" stroke-width="1.0" fill="none"/>
<path d="M84.92 403.3L87.82 406.2L84.92 409.1L82.02 406.2ZM82.02 406.2H87.82M84.92 403.3V409.1" stroke="#9999CC" stroke-width="1.0" fill="none"/>
<path d="M98.73 416.1L101.63 419L98.73 421.9L95.83 419ZM95.83 419H101.63M98.73 416.1V421.9" stroke="#CC6666" stroke-width="1.0" fill="none"/>
<path d="M106.97 415.1L109.87 418L106.97 420.9L104.07 418ZM104.07 418H109.87M106.97 415.1V420.9" stroke="#9999CC" stroke-width="1.0" fill="none"/>
<path d="M120.78 419.1L123.68 422L120.78 424.9L117.88 422ZM117.88 422H123.68M120.78 419.1V424.9" stroke="#CC6666" stroke-width="1.0" fill="none"/>
<path d="M129.02 416.1L131.92 419L129.02 421.9L126.12 419ZM126.12 419H131.92M129.02 416.1V421.9" stroke="#9999CC" stroke-width="1.0" fill="none"/>
<path d="M142.83 420.6L145.73 423.5L142.83 426.4L139.93 423.5ZM139.93 423.5H145.73M142.83 420.6V426.4" stroke="#CC6666" stroke-width="1.0" fill="none"/>
<path d="M151.07 416.7L153.97 419.6L151.07 422.5L148.17 419.6ZM148.17 419.6H153.97M151.07 416.7V422.5" stroke="#9999CC" stroke-width="1.0" fill="none"/>
<path d="M164.88 419.1L167.78 422L164.88 424.9L161.98 422ZM161.98 422H167.78M164.88 419.1V424.9" stroke="#CC6666" stroke-width="1.0" fill="none"/>
<path d="M173.12 416.1L176.02 419L173.12 421.9L170.22 419ZM170.22 419H176.02M173.12 416.1V421.9" stroke="#9999CC" stroke-width="1.0" fill="none"/>
<path d="M186.93 420.6L189.83 423.5L186.93 426.4L184.03 423.5ZM184.03 423.5H189.83M186.93 420.6V426.4" stroke="#CC6666" stroke-width="1.0" fill="none"/>
<path d="M195.17 419.1L198.07 422L195.17 424.9L192.27 422ZM192.27 422H198.07M195.17 419.1V424.9" stroke="#9999CC" stroke-width="1.0" fill="none"/>
<path d="M208.98 423.4L211.88 426.3L208.98 429.2L206.08 426.3ZM206.08 426.3H211.88M208.98 423.4V429.2" stroke="#CC6666" stroke-width="1.0" fill="none"/>
<path d="M217.22 420L220.12 422.9L217.22 425.8L214.32 422.9ZM214.32 422.9H220.12M217.22 420V425.8" stroke="#9999CC" stroke-width="1.0" fill="none"/>
<path d="M231.03 424L233.93 426.9L231.03 429.8L228.13 426.9ZM228.13 426.9H233.93M231.03 424V429.8" stroke="#CC6666" stroke-width="1.0" fill="none"/>
<path d="M239.27 420.6L242.17 423.5L239.27 426.4L236.37 423.5ZM236.37 423.5H242.17M239.27 420.6V426.4" stroke="#9999CC" stroke-width="1.0" fill="none"/>
<path d="M253.08 424.6L255.98 427.5L253.08 430.4L250.18 427.5ZM250.18 427.5H255.98M253.08 424.6V430.4" stroke="#CC6666" stroke-width="1.0" fill="none"/>
<path d="M261.32 420L264.22 422.9L261.32 425.8L258.42 422.9ZM258.42 422.9H264.22M261.32 420V425.8" stroke="#9999CC" stroke-width="1.0" fill="none"/>
<path d="M275.13 426.5L278.03 429.4L275.13 432.3L272.23 429.4ZM272.23 429.4H278.03M275.13 426.5V432.3" stroke="#CC6666" stroke-width="1.0" fill="none"/>
<path d="M283.37 421.6L286.27 424.5L283.37 427.4L280.47 424.5ZM280.47 424.5H286.27M283.37 421.6V427.4" stroke="#9999CC" stroke-width="1.0" fill="none"/>
<path d="M297.18 427.5L300.08 430.4L297.18 433.3L294.28 430.4ZM294.28 430.4H300.08M297.18 427.5V433.3" stroke="#CC6666" stroke-width="1.0" fill="none"/>
<path d="M305.42 423L308.32 425.9L305.42 428.8L302.52 425.9ZM302.52 425.9H308.32M305.42 423V428.8" stroke="#9999CC" stroke-width="1.0" fill="none"/>
<path d="M319.23 427.3L322.13 430.2L319.23 433.1L316.33 430.2ZM316.33 430.2H322.13M319.23 427.3V433.1" stroke="#CC6666" stroke-width="1.0" fill="none"/>
<path d="M327.47 423L330.37 425.9L327.47 428.8L324.57 425.9ZM324.57 425.9H330.37M327.47 423V428.8" stroke="#9999CC" stroke-width="1.0" fill="none"/>
<path d="M341.28 427.3L344.18 430.2L341.28 433.1L338.38 430.2ZM338.38 430.2H344.18M341.28 427.3V433.1" stroke="#CC6666" stroke-width="1.0" fill="none"/>
<path d="M349.52 422.6L352.42 425.5L349.52 428.4L346.62 425.5ZM346.62 425.5H352.42M349.52 422.6V428.4" stroke="#9999CC" stroke-width="1.0" fill="none"/>
<path d="M363.33 427.9L366.23 430.8L363.33 433.7L360.43 430.8ZM360.43 430.8H366.23M363.33 427.9V433.7" stroke="#CC6666" stroke-width="1.0" fill="none"/>
<path d="M371.57 423L374.47 425.9L371.57 428.8L368.67 425.9ZM368.67 425.9H374.47M371.57 423V428.8" stroke="#9999CC" stroke-width="1.0" fill="none"/>
<path d="M385.38 429.3L388.28 432.2L385.38 435.1L382.48 432.2ZM382.48 432.2H388.28M385.38 429.3V435.1" stroke="#CC6666" stroke-width="1.0" fill="none"/>
<path d="M393.62 422L396.52 424.9L393.62 427.8L390.72 424.9ZM390.72 424.9H396.52M393.62 422V427.8" stroke="#9999CC" stroke-width="1.0" fill="none"/>
<path d="M407.43 428.9L410.33 431.8L407.43 434.7L404.53 431.8ZM404.53 431.8H410.33M407.43 428.9V434.7" stroke="#CC6666" stroke-width="1.0" fill="none"/>
<path d="M415.67 424.6L418.57 427.5L415.67 430.4L412.77 427.5ZM412.77 427.5H418.57M415.67 424.6V430.4" stroke="#9999CC" stroke-width="1.0" fill="none"/>
<path d="M429.48 430.5L432.38 433.4L429.48 436.3L426.58 433.4ZM426.58 433.4H432.38M429.48 430.5V436.3" stroke="#CC6666" stroke-width="1.0" fill="none"/>
<path d="M437.72 425.9L440.62 428.8L437.72 431.7L434.82 428.8ZM434.82 428.8H440.62M437.72 425.9V431.7" stroke="#9999CC" stroke-width="1.0" fill="none"/>
<path d="M451.53 430.5L454.43 433.4L451.53 436.3L448.63 433.4ZM448.63 433.4H454.43M451.53 430.5V436.3" stroke="#CC6666" stroke-width="1.0" fill="none"/>
<path d="M459.77 423L462.67 425.9L459.77 428.8L456.87 425.9ZM456.87 425.9H462.67M459.77 423V428.8" stroke="#9999CC" stroke-width="1.0" fill="none"/>
<path d="M473.58 429.3L476.48 432.2L473.58 435.1L470.68 432.2ZM470.68 432.2H476.48M473.58 429.3V435.1" stroke="#CC6666" stroke-width="1.0" fill="none"/>
<path d="M481.82 423L484.72 425.9L481.82 428.8L478.92 425.9ZM478.92 425.9H484.72M481.82 423V428.8" stroke="#9999CC" stroke-width="1.0" fill="none"/>
<path d="M495.63 430.9L498.53 433.8L495.63 436.7L492.73 433.8ZM492.73 433.8H498.53M495.63 430.9V436.7" stroke="#CC6666" stroke-width="1.0" fill="none"/>
<path d="M503.87 426.5L506.77 429.4L503.87 432.3L500.97 429.4ZM500.97 429.4H506.77M503.87 426.5V432.3" stroke="#9999CC" stroke-width="1.0" fill="none"/>
<path d="M517.68 431.3L520.58 434.2L517.68 437.1L514.78 434.2ZM514.78 434.2H520.58M517.68 431.3V437.1" stroke="#CC6666" stroke-width="1.0" fill="none"/>
<path d="M525.92 424L528.82 426.9L525.92 429.8L523.02 426.9ZM523.02 426.9H528.82M525.92 424V429.8" stroke="#9999CC" stroke-width="1.0" fill="none"/>
<path d="M539.73 431.3L542.63 434.2L539.73 437.1L536.83 434.2ZM536.83 434.2H542.63M539.73 431.3V437.1" stroke="#CC6666" stroke-width="1.0" fill="none"/>
<path d="M547.97 425L550.87 427.9L547.97 430.8L545.07 427.9ZM545.07 427.9H550.87M547.97 425V430.8" stroke="#9999CC" stroke-width="1.0" fill="none"/>
<path d="M561.78 431.4L564.68 434.3L561.78 437.2L558.88 434.3ZM558.88 434.3H564.68M561.78 431.4V437.2" stroke="#CC6666" stroke-width="1.0" fill="none"/>
<path d="M570.02 425.4L572.92 428.3L570.02 431.2L567.12 428.3ZM567.12 428.3H572.92M570.02 425.4V431.2" stroke="#9999CC" stroke-width="1.0" fill="none"/>
<path d="M583.83 432.7L586.73 435.6L583.83 438.5L580.93 435.6ZM580.93 435.6H586.73M583.83 432.7V438.5" stroke="#CC6666" stroke-width="1.0" fill="none"/>
<path d="M592.07 426.2L594.97 429.1L592.07 432L589.17 429.1ZM589.17 429.1H594.97M592.07 426.2V432" stroke="#9999CC" stroke-width="1.0" fill="none"/>
<path d="M605.88 432.4L608.78 435.3L605.88 438.2L602.98 435.3ZM602.98 435.3H608.78M605.88 432.4V438.2" stroke="#CC6666" stroke-width="1.0" fill="none"/>
<path d="M614.12 425.4L617.02 428.3L614.12 431.2L611.22 428.3ZM611.22 428.3H617.02M614.12 425.4V431.2" stroke="#9999CC" stroke-width="1.0" fill="none"/>
<path d="M627.93 432.4L630.83 435.3L627.93 438.2L625.03 435.3ZM625.03 435.3H630.83M627.93 432.4V438.2" stroke="#CC6666" stroke-width="1.0" fill="none"/>
<path d="M636.17 423L639.07 425.9L636.17 428.8L633.27 425.9ZM633.27 425.9H639.07M636.17 423V428.8" stroke="#9999CC" stroke-width="1.0" fill="none"/>
</g>
<g clip-path="url(#c8)">
<path d="M76.68 455.48V457.1M76.68 460.7V462.32" stroke="#777777" stroke-width="0.9"/><rect x="72.56" y="457.1" width="8.24" height="3.6" fill="#F0BCBC" stroke="#777777" stroke-width="0.85"/><path d="M72.56 457.8H80.8" stroke="#333" stroke-width="1.05"/>
<path d="M84.92 455.48V457.1M84.92 460.7V462.32" stroke="#777777" stroke-width="0.9"/><rect x="80.8" y="457.1" width="8.24" height="3.6" fill="#D5D5F0" stroke="#777777" stroke-width="0.85"/><path d="M80.8 457.8H89.04" stroke="#333" stroke-width="1.05"/>
<path d="M98.73 460.38V461.5M98.73 464V465.12" stroke="#777777" stroke-width="0.9"/><rect x="94.61" y="461.5" width="8.24" height="2.5" fill="#F0BCBC" stroke="#777777" stroke-width="0.85"/><path d="M94.61 462H102.85" stroke="#333" stroke-width="1.05"/><circle cx="98.73" cy="469.9" r="1.25" fill="#111"/>
<path d="M106.97 459.93V461.5M106.97 465V466.57" stroke="#777777" stroke-width="0.9"/><rect x="102.85" y="461.5" width="8.24" height="3.5" fill="#D5D5F0" stroke="#777777" stroke-width="0.85"/><path d="M102.85 462H111.09" stroke="#333" stroke-width="1.05"/><circle cx="106.97" cy="469.3" r="1.25" fill="#111"/>
<path d="M120.78 465V465.6M120.78 466.4V467" stroke="#777777" stroke-width="0.9"/><rect x="116.66" y="465.6" width="8.24" height="0.8" fill="#F0BCBC" stroke="#777777" stroke-width="0.85"/><path d="M116.66 466H124.9" stroke="#333" stroke-width="1.05"/><circle cx="120.78" cy="463.4" r="1.25" fill="#111"/><circle cx="120.78" cy="472.9" r="1.25" fill="#111"/>
<path d="M129.02 463.52V464.6M129.02 467V468.08" stroke="#777777" stroke-width="0.9"/><rect x="124.9" y="464.6" width="8.24" height="2.4" fill="#D5D5F0" stroke="#777777" stroke-width="0.85"/><path d="M124.9 465.4H133.14" stroke="#333" stroke-width="1.05"/><circle cx="129.02" cy="472.9" r="1.25" fill="#111"/>
<path d="M142.83 467.75V468.6M142.83 470.5V471.36" stroke="#777777" stroke-width="0.9"/><rect x="138.71" y="468.6" width="8.24" height="1.9" fill="#F0BCBC" stroke="#777777" stroke-width="0.85"/><path d="M138.71 469.5H146.95" stroke="#333" stroke-width="1.05"/>
<path d="M151.07 463.78V465.4M151.07 469V470.62" stroke="#777777" stroke-width="0.9"/><rect x="146.95" y="465.4" width="8.24" height="3.6" fill="#D5D5F0" stroke="#777777" stroke-width="0.85"/><path d="M146.95 467H155.19" stroke="#333" stroke-width="1.05"/>
<path d="M164.88 469.6V470.5M164.88 472.5V475.8" stroke="#777777" stroke-width="0.9"/><rect x="160.76" y="470.5" width="8.24" height="2" fill="#F0BCBC" stroke="#777777" stroke-width="0.85"/><path d="M160.76 471.9H169" stroke="#333" stroke-width="1.05"/>
<path d="M173.12 465.96V467M173.12 469.3V470.34" stroke="#777777" stroke-width="0.9"/><rect x="169" y="467" width="8.24" height="2.3" fill="#D5D5F0" stroke="#777777" stroke-width="0.85"/><path d="M169 468.9H177.24" stroke="#333" stroke-width="1.05"/><circle cx="173.12" cy="475.3" r="1.25" fill="#111"/>
<path d="M186.93 467.68V469.3M186.93 472.9V476.8" stroke="#777777" stroke-width="0.9"/><rect x="182.81" y="469.3" width="8.24" height="3.6" fill="#F0BCBC" stroke="#777777" stroke-width="0.85"/><path d="M182.81 471.9H191.05" stroke="#333" stroke-width="1.05"/>
<path d="M195.17 463.98V466M195.17 470.5V474.5" stroke="#777777" stroke-width="0.9"/><rect x="191.05" y="466" width="8.24" height="4.5" fill="#D5D5F0" stroke="#777777" stroke-width="0.85"/><path d="M191.05 468H199.29" stroke="#333" stroke-width="1.05"/>
<path d="M208.98 469.1V470.9M208.98 474.9V476.8" stroke="#777777" stroke-width="0.9"/><rect x="204.86" y="470.9" width="8.24" height="4" fill="#F0BCBC" stroke="#777777" stroke-width="0.85"/><path d="M204.86 472.9H213.1" stroke="#333" stroke-width="1.05"/>
<path d="M217.22 465.38V467.4M217.22 471.9V473.92" stroke="#777777" stroke-width="0.9"/><rect x="213.1" y="467.4" width="8.24" height="4.5" fill="#D5D5F0" stroke="#777777" stroke-width="0.85"/><path d="M213.1 469.3H221.34" stroke="#333" stroke-width="1.05"/><circle cx="217.22" cy="478.4" r="1.25" fill="#111"/>
<path d="M231.03 468.69V470.9M231.03 475.8V478.8" stroke="#777777" stroke-width="0.9"/><rect x="226.91" y="470.9" width="8.24" height="4.9" fill="#F0BCBC" stroke="#777777" stroke-width="0.85"/><path d="M226.91 472.9H235.15" stroke="#333" stroke-width="1.05"/>
<path d="M239.27 465.1V467.4M239.27 472.5V474.8" stroke="#777777" stroke-width="0.9"/><rect x="235.15" y="467.4" width="8.24" height="5.1" fill="#D5D5F0" stroke="#777777" stroke-width="0.85"/><path d="M235.15 469.3H243.39" stroke="#333" stroke-width="1.05"/><circle cx="239.27" cy="478.8" r="1.25" fill="#111"/>
<path d="M253.08 468.42V470.9M253.08 476.4V480.4" stroke="#777777" stroke-width="0.9"/><rect x="248.96" y="470.9" width="8.24" height="5.5" fill="#F0BCBC" stroke="#777777" stroke-width="0.85"/><path d="M248.96 473.9H257.2" stroke="#333" stroke-width="1.05"/>
<path d="M261.32 465.25V467M261.32 470.9V472.65" stroke="#777777" stroke-width="0.9"/><rect x="257.2" y="467" width="8.24" height="3.9" fill="#D5D5F0" stroke="#777777" stroke-width="0.85"/><path d="M257.2 468H265.44" stroke="#333" stroke-width="1.05"/><circle cx="261.32" cy="477.2" r="1.25" fill="#111"/>
<path d="M275.13 472.59V473.9M275.13 476.8V478.8" stroke="#777777" stroke-width="0.9"/><rect x="271.01" y="473.9" width="8.24" height="2.9" fill="#F0BCBC" stroke="#777777" stroke-width="0.85"/><path d="M271.01 474.9H279.25" stroke="#333" stroke-width="1.05"/><circle cx="275.13" cy="482.4" r="1.25" fill="#111"/>
<path d="M283.37 466.85V468.6M283.37 472.5V474.25" stroke="#777777" stroke-width="0.9"/><rect x="279.25" y="468.6" width="8.24" height="3.9" fill="#D5D5F0" stroke="#777777" stroke-width="0.85"/><path d="M279.25 470.5H287.49" stroke="#333" stroke-width="1.05"/><circle cx="283.37" cy="478.4" r="1.25" fill="#111"/>
<path d="M297.18 472.14V473.9M297.18 477.8V481.8" stroke="#777777" stroke-width="0.9"/><rect x="293.06" y="473.9" width="8.24" height="3.9" fill="#F0BCBC" stroke="#777777" stroke-width="0.85"/><path d="M293.06 475.8H301.3" stroke="#333" stroke-width="1.05"/>
<path d="M305.42 467.83V469.9M305.42 474.5V476.57" stroke="#777777" stroke-width="0.9"/><rect x="301.3" y="469.9" width="8.24" height="4.6" fill="#D5D5F0" stroke="#777777" stroke-width="0.85"/><path d="M301.3 472.5H309.54" stroke="#333" stroke-width="1.05"/><circle cx="305.42" cy="481.2" r="1.25" fill="#111"/>
<path d="M319.23 473.14V474.9M319.23 478.8V481.8" stroke="#777777" stroke-width="0.9"/><rect x="315.11" y="474.9" width="8.24" height="3.9" fill="#F0BCBC" stroke="#777777" stroke-width="0.85"/><path d="M315.11 476.8H323.35" stroke="#333" stroke-width="1.05"/>
<path d="M327.47 471V471.6M327.47 472.8V473.4" stroke="#777777" stroke-width="0.9"/><rect x="323.35" y="471.6" width="8.24" height="1.2" fill="#D5D5F0" stroke="#777777" stroke-width="0.85"/><path d="M323.35 472.2H331.59" stroke="#333" stroke-width="1.05"/><circle cx="327.47" cy="480.4" r="1.25" fill="#111"/>
<path d="M341.28 474V475.8M341.28 479.8V483.7" stroke="#777777" stroke-width="0.9"/><rect x="337.16" y="475.8" width="8.24" height="4" fill="#F0BCBC" stroke="#777777" stroke-width="0.85"/><path d="M337.16 477.8H345.4" stroke="#333" stroke-width="1.05"/>
<path d="M349.52 469.68V471.3M349.52 474.9V476.52" stroke="#777777" stroke-width="0.9"/><rect x="345.4" y="471.3" width="8.24" height="3.6" fill="#D5D5F0" stroke="#777777" stroke-width="0.85"/><path d="M345.4 472.9H353.64" stroke="#333" stroke-width="1.05"/><circle cx="349.52" cy="481.2" r="1.25" fill="#111"/>
<path d="M363.33 473.75V475.5M363.33 479.4V483.7" stroke="#777777" stroke-width="0.9"/><rect x="359.21" y="475.5" width="8.24" height="3.9" fill="#F0BCBC" stroke="#777777" stroke-width="0.85"/><path d="M359.21 477.4H367.45" stroke="#333" stroke-width="1.05"/>
<path d="M371.57 469.5V471.3M371.57 475.3V480.4" stroke="#777777" stroke-width="0.9"/><rect x="367.45" y="471.3" width="8.24" height="4" fill="#D5D5F0" stroke="#777777" stroke-width="0.85"/><path d="M367.45 472.9H375.69" stroke="#333" stroke-width="1.05"/>
<path d="M385.38 473.55V475.8M385.38 480.8V484.7" stroke="#777777" stroke-width="0.9"/><rect x="381.26" y="475.8" width="8.24" height="5" fill="#F0BCBC" stroke="#777777" stroke-width="0.85"/><path d="M381.26 478.4H389.5" stroke="#333" stroke-width="1.05"/>
<path d="M393.62 470.73V471.9M393.62 474.5V475.67" stroke="#777777" stroke-width="0.9"/><rect x="389.5" y="471.9" width="8.24" height="2.6" fill="#D5D5F0" stroke="#777777" stroke-width="0.85"/><path d="M389.5 473H397.74" stroke="#333" stroke-width="1.05"/><circle cx="393.62" cy="480.4" r="1.25" fill="#111"/>
<path d="M407.43 473.73V475.8M407.43 480.4V484.7" stroke="#777777" stroke-width="0.9"/><rect x="403.31" y="475.8" width="8.24" height="4.6" fill="#F0BCBC" stroke="#777777" stroke-width="0.85"/><path d="M403.31 477.8H411.55" stroke="#333" stroke-width="1.05"/>
<path d="M415.67 470.14V471.9M415.67 475.8V478.8" stroke="#777777" stroke-width="0.9"/><rect x="411.55" y="471.9" width="8.24" height="3.9" fill="#D5D5F0" stroke="#777777" stroke-width="0.85"/><path d="M411.55 473.9H419.79" stroke="#333" stroke-width="1.05"/>
<path d="M429.48 472.11V475.3M429.48 482.4V485.7" stroke="#777777" stroke-width="0.9"/><rect x="425.36" y="475.3" width="8.24" height="7.1" fill="#F0BCBC" stroke="#777777" stroke-width="0.85"/><path d="M425.36 477.8H433.6" stroke="#333" stroke-width="1.05"/>
<path d="M437.72 470.56V472.5M437.72 476.8V481.8" stroke="#777777" stroke-width="0.9"/><rect x="433.6" y="472.5" width="8.24" height="4.3" fill="#D5D5F0" stroke="#777777" stroke-width="0.85"/><path d="M433.6 474.9H441.84" stroke="#333" stroke-width="1.05"/>
<path d="M451.53 472.11V475.3M451.53 482.4V485.7" stroke="#777777" stroke-width="0.9"/><rect x="447.41" y="475.3" width="8.24" height="7.1" fill="#F0BCBC" stroke="#777777" stroke-width="0.85"/><path d="M447.41 477.8H455.65" stroke="#333" stroke-width="1.05"/>
<path d="M459.77 469.01V471.3M459.77 476.4V481.8" stroke="#777777" stroke-width="0.9"/><rect x="455.65" y="471.3" width="8.24" height="5.1" fill="#D5D5F0" stroke="#777777" stroke-width="0.85"/><path d="M455.65 475.8H463.89" stroke="#333" stroke-width="1.05"/>
<path d="M473.58 474V477.2M473.58 484.3V487.5" stroke="#777777" stroke-width="0.9"/><rect x="469.46" y="477.2" width="8.24" height="7.1" fill="#F0BCBC" stroke="#777777" stroke-width="0.85"/><path d="M469.46 479.8H477.7" stroke="#333" stroke-width="1.05"/>
<path d="M481.82 472.41V473.9M481.82 477.2V480.8" stroke="#777777" stroke-width="0.9"/><rect x="477.7" y="473.9" width="8.24" height="3.3" fill="#D5D5F0" stroke="#777777" stroke-width="0.85"/><path d="M477.7 475.8H485.94" stroke="#333" stroke-width="1.05"/>
<path d="M495.63 474V477.2M495.63 484.3V487.5" stroke="#777777" stroke-width="0.9"/><rect x="491.51" y="477.2" width="8.24" height="7.1" fill="#F0BCBC" stroke="#777777" stroke-width="0.85"/><path d="M491.51 480.8H499.75" stroke="#333" stroke-width="1.05"/>
<path d="M503.87 471.88V473.9M503.87 478.4V481.8" stroke="#777777" stroke-width="0.9"/><rect x="499.75" y="473.9" width="8.24" height="4.5" fill="#D5D5F0" stroke="#777777" stroke-width="0.85"/><path d="M499.75 476.4H507.99" stroke="#333" stroke-width="1.05"/>
<path d="M517.68 474V477.2M517.68 484.3V487.5" stroke="#777777" stroke-width="0.9"/><rect x="513.56" y="477.2" width="8.24" height="7.1" fill="#F0BCBC" stroke="#777777" stroke-width="0.85"/><path d="M513.56 480.4H521.8" stroke="#333" stroke-width="1.05"/>
<path d="M525.92 471.51V473.9M525.92 479.2V482.4" stroke="#777777" stroke-width="0.9"/><rect x="521.8" y="473.9" width="8.24" height="5.3" fill="#D5D5F0" stroke="#777777" stroke-width="0.85"/><path d="M521.8 477.2H530.04" stroke="#333" stroke-width="1.05"/>
<path d="M539.73 473.11V476.4M539.73 483.7V486.99" stroke="#777777" stroke-width="0.9"/><rect x="535.61" y="476.4" width="8.24" height="7.3" fill="#F0BCBC" stroke="#777777" stroke-width="0.85"/><path d="M535.61 481.2H543.85" stroke="#333" stroke-width="1.05"/>
<path d="M547.97 471.69V473.9M547.97 478.8V481.01" stroke="#777777" stroke-width="0.9"/><rect x="543.85" y="473.9" width="8.24" height="4.9" fill="#D5D5F0" stroke="#777777" stroke-width="0.85"/><path d="M543.85 475.8H552.09" stroke="#333" stroke-width="1.05"/>
<path d="M561.78 474.83V477.4M561.78 483.1V485.5" stroke="#777777" stroke-width="0.9"/><rect x="557.66" y="477.4" width="8.24" height="5.7" fill="#F0BCBC" stroke="#777777" stroke-width="0.85"/><path d="M557.66 480.4H565.9" stroke="#333" stroke-width="1.05"/>
<path d="M570.02 470.69V472.9M570.02 477.8V481.5" stroke="#777777" stroke-width="0.9"/><rect x="565.9" y="472.9" width="8.24" height="4.9" fill="#D5D5F0" stroke="#777777" stroke-width="0.85"/><path d="M565.9 474.2H574.14" stroke="#333" stroke-width="1.05"/>
<path d="M583.83 475.78V478.3M583.83 483.9V486.42" stroke="#777777" stroke-width="0.9"/><rect x="579.71" y="478.3" width="8.24" height="5.6" fill="#F0BCBC" stroke="#777777" stroke-width="0.85"/><path d="M579.71 481.5H587.95" stroke="#333" stroke-width="1.05"/>
<path d="M592.07 471.23V472.9M592.07 476.6V479.9" stroke="#777777" stroke-width="0.9"/><rect x="587.95" y="472.9" width="8.24" height="3.7" fill="#D5D5F0" stroke="#777777" stroke-width="0.85"/><path d="M587.95 474.2H596.19" stroke="#333" stroke-width="1.05"/>
<path d="M605.88 474.47V477.4M605.88 483.9V486.82" stroke="#777777" stroke-width="0.9"/><rect x="601.76" y="477.4" width="8.24" height="6.5" fill="#F0BCBC" stroke="#777777" stroke-width="0.85"/><path d="M601.76 482H610" stroke="#333" stroke-width="1.05"/>
<path d="M614.12 471.6V473.4M614.12 477.4V481.5" stroke="#777777" stroke-width="0.9"/><rect x="610" y="473.4" width="8.24" height="4" fill="#D5D5F0" stroke="#777777" stroke-width="0.85"/><path d="M610 475.8H618.24" stroke="#333" stroke-width="1.05"/>
<path d="M627.93 474.47V477.4M627.93 483.9V486.82" stroke="#777777" stroke-width="0.9"/><rect x="623.81" y="477.4" width="8.24" height="6.5" fill="#F0BCBC" stroke="#777777" stroke-width="0.85"/><path d="M623.81 482H632.05" stroke="#333" stroke-width="1.05"/>
<path d="M636.17 471.23V472.9M636.17 476.6V480.4" stroke="#777777" stroke-width="0.9"/><rect x="632.05" y="472.9" width="8.24" height="3.7" fill="#D5D5F0" stroke="#777777" stroke-width="0.85"/><path d="M632.05 474.5H640.29" stroke="#333" stroke-width="1.05"/>
<path d="M76.68 448.7L79.58 451.6L76.68 454.5L73.78 451.6ZM73.78 451.6H79.58M76.68 448.7V454.5" stroke="#CC6666" stroke-width="1.0" fill="none"/>
<path d="M84.92 448.7L87.82 451.6L84.92 454.5L82.02 451.6ZM82.02 451.6H87.82M84.92 448.7V454.5" stroke="#9999CC" stroke-width="1.0" fill="none"/>
<path d="M98.73 462.1L101.63 465L98.73 467.9L95.83 465ZM95.83 465H101.63M98.73 462.1V467.9" stroke="#CC6666" stroke-width="1.0" fill="none"/>
<path d="M106.97 461.7L109.87 464.6L106.97 467.5L104.07 464.6ZM104.07 464.6H109.87M106.97 461.7V467.5" stroke="#9999CC" stroke-width="1.0" fill="none"/>
<path d="M120.78 465.1L123.68 468L120.78 470.9L117.88 468ZM117.88 468H123.68M120.78 465.1V470.9" stroke="#CC6666" stroke-width="1.0" fill="none"/>
<path d="M129.02 463.1L131.92 466L129.02 468.9L126.12 466ZM126.12 466H131.92M129.02 463.1V468.9" stroke="#9999CC" stroke-width="1.0" fill="none"/>
<path d="M142.83 467L145.73 469.9L142.83 472.8L139.93 469.9ZM139.93 469.9H145.73M142.83 467V472.8" stroke="#CC6666" stroke-width="1.0" fill="none"/>
<path d="M151.07 462.5L153.97 465.4L151.07 468.3L148.17 465.4ZM148.17 465.4H153.97M151.07 462.5V468.3" stroke="#9999CC" stroke-width="1.0" fill="none"/>
<path d="M164.88 466.4L167.78 469.3L164.88 472.2L161.98 469.3ZM161.98 469.3H167.78M164.88 466.4V472.2" stroke="#CC6666" stroke-width="1.0" fill="none"/>
<path d="M173.12 462.5L176.02 465.4L173.12 468.3L170.22 465.4ZM170.22 465.4H176.02M173.12 462.5V468.3" stroke="#9999CC" stroke-width="1.0" fill="none"/>
<path d="M186.93 467L189.83 469.9L186.93 472.8L184.03 469.9ZM184.03 469.9H189.83M186.93 467V472.8" stroke="#CC6666" stroke-width="1.0" fill="none"/>
<path d="M195.17 465.1L198.07 468L195.17 470.9L192.27 468ZM192.27 468H198.07M195.17 465.1V470.9" stroke="#9999CC" stroke-width="1.0" fill="none"/>
<path d="M208.98 469L211.88 471.9L208.98 474.8L206.08 471.9ZM206.08 471.9H211.88M208.98 469V474.8" stroke="#CC6666" stroke-width="1.0" fill="none"/>
<path d="M217.22 466L220.12 468.9L217.22 471.8L214.32 468.9ZM214.32 468.9H220.12M217.22 466V471.8" stroke="#9999CC" stroke-width="1.0" fill="none"/>
<path d="M231.03 471.6L233.93 474.5L231.03 477.4L228.13 474.5ZM228.13 474.5H233.93M231.03 471.6V477.4" stroke="#CC6666" stroke-width="1.0" fill="none"/>
<path d="M239.27 466.4L242.17 469.3L239.27 472.2L236.37 469.3ZM236.37 469.3H242.17M239.27 466.4V472.2" stroke="#9999CC" stroke-width="1.0" fill="none"/>
<path d="M253.08 471L255.98 473.9L253.08 476.8L250.18 473.9ZM250.18 473.9H255.98M253.08 471V476.8" stroke="#CC6666" stroke-width="1.0" fill="none"/>
<path d="M261.32 465.7L264.22 468.6L261.32 471.5L258.42 468.6ZM258.42 468.6H264.22M261.32 465.7V471.5" stroke="#9999CC" stroke-width="1.0" fill="none"/>
<path d="M275.13 473.9L278.03 476.8L275.13 479.7L272.23 476.8ZM272.23 476.8H278.03M275.13 473.9V479.7" stroke="#CC6666" stroke-width="1.0" fill="none"/>
<path d="M283.37 467L286.27 469.9L283.37 472.8L280.47 469.9ZM280.47 469.9H286.27M283.37 467V472.8" stroke="#9999CC" stroke-width="1.0" fill="none"/>
<path d="M297.18 474.9L300.08 477.8L297.18 480.7L294.28 477.8ZM294.28 477.8H300.08M297.18 474.9V480.7" stroke="#CC6666" stroke-width="1.0" fill="none"/>
<path d="M305.42 469L308.32 471.9L305.42 474.8L302.52 471.9ZM302.52 471.9H308.32M305.42 469V474.8" stroke="#9999CC" stroke-width="1.0" fill="none"/>
<path d="M319.23 473.9L322.13 476.8L319.23 479.7L316.33 476.8ZM316.33 476.8H322.13M319.23 473.9V479.7" stroke="#CC6666" stroke-width="1.0" fill="none"/>
<path d="M327.47 467.6L330.37 470.5L327.47 473.4L324.57 470.5ZM324.57 470.5H330.37M327.47 467.6V473.4" stroke="#9999CC" stroke-width="1.0" fill="none"/>
<path d="M341.28 474.9L344.18 477.8L341.28 480.7L338.38 477.8ZM338.38 477.8H344.18M341.28 474.9V480.7" stroke="#CC6666" stroke-width="1.0" fill="none"/>
<path d="M349.52 469.6L352.42 472.5L349.52 475.4L346.62 472.5ZM346.62 472.5H352.42M349.52 469.6V475.4" stroke="#9999CC" stroke-width="1.0" fill="none"/>
<path d="M363.33 474.3L366.23 477.2L363.33 480.1L360.43 477.2ZM360.43 477.2H366.23M363.33 474.3V480.1" stroke="#CC6666" stroke-width="1.0" fill="none"/>
<path d="M371.57 469L374.47 471.9L371.57 474.8L368.67 471.9ZM368.67 471.9H374.47M371.57 469V474.8" stroke="#9999CC" stroke-width="1.0" fill="none"/>
<path d="M385.38 475.5L388.28 478.4L385.38 481.3L382.48 478.4ZM382.48 478.4H388.28M385.38 475.5V481.3" stroke="#CC6666" stroke-width="1.0" fill="none"/>
<path d="M393.62 468L396.52 470.9L393.62 473.8L390.72 470.9ZM390.72 470.9H396.52M393.62 468V473.8" stroke="#9999CC" stroke-width="1.0" fill="none"/>
<path d="M407.43 474.9L410.33 477.8L407.43 480.7L404.53 477.8ZM404.53 477.8H410.33M407.43 474.9V480.7" stroke="#CC6666" stroke-width="1.0" fill="none"/>
<path d="M415.67 470L418.57 472.9L415.67 475.8L412.77 472.9ZM412.77 472.9H418.57M415.67 470V475.8" stroke="#9999CC" stroke-width="1.0" fill="none"/>
<path d="M429.48 475.9L432.38 478.8L429.48 481.7L426.58 478.8ZM426.58 478.8H432.38M429.48 475.9V481.7" stroke="#CC6666" stroke-width="1.0" fill="none"/>
<path d="M437.72 471L440.62 473.9L437.72 476.8L434.82 473.9ZM434.82 473.9H440.62M437.72 471V476.8" stroke="#9999CC" stroke-width="1.0" fill="none"/>
<path d="M451.53 475.9L454.43 478.8L451.53 481.7L448.63 478.8ZM448.63 478.8H454.43M451.53 475.9V481.7" stroke="#CC6666" stroke-width="1.0" fill="none"/>
<path d="M459.77 468.4L462.67 471.3L459.77 474.2L456.87 471.3ZM456.87 471.3H462.67M459.77 468.4V474.2" stroke="#9999CC" stroke-width="1.0" fill="none"/>
<path d="M473.58 475.9L476.48 478.8L473.58 481.7L470.68 478.8ZM470.68 478.8H476.48M473.58 475.9V481.7" stroke="#CC6666" stroke-width="1.0" fill="none"/>
<path d="M481.82 469L484.72 471.9L481.82 474.8L478.92 471.9ZM478.92 471.9H484.72M481.82 469V474.8" stroke="#9999CC" stroke-width="1.0" fill="none"/>
<path d="M495.63 477.9L498.53 480.8L495.63 483.7L492.73 480.8ZM492.73 480.8H498.53M495.63 477.9V483.7" stroke="#CC6666" stroke-width="1.0" fill="none"/>
<path d="M503.87 472.4L506.77 475.3L503.87 478.2L500.97 475.3ZM500.97 475.3H506.77M503.87 472.4V478.2" stroke="#9999CC" stroke-width="1.0" fill="none"/>
<path d="M517.68 477.9L520.58 480.8L517.68 483.7L514.78 480.8ZM514.78 480.8H520.58M517.68 477.9V483.7" stroke="#CC6666" stroke-width="1.0" fill="none"/>
<path d="M525.92 469L528.82 471.9L525.92 474.8L523.02 471.9ZM523.02 471.9H528.82M525.92 469V474.8" stroke="#9999CC" stroke-width="1.0" fill="none"/>
<path d="M539.73 475.9L542.63 478.8L539.73 481.7L536.83 478.8ZM536.83 478.8H542.63M539.73 475.9V481.7" stroke="#CC6666" stroke-width="1.0" fill="none"/>
<path d="M547.97 470.4L550.87 473.3L547.97 476.2L545.07 473.3ZM545.07 473.3H550.87M547.97 470.4V476.2" stroke="#9999CC" stroke-width="1.0" fill="none"/>
<path d="M561.78 477L564.68 479.9L561.78 482.8L558.88 479.9ZM558.88 479.9H564.68M561.78 477V482.8" stroke="#CC6666" stroke-width="1.0" fill="none"/>
<path d="M570.02 471.3L572.92 474.2L570.02 477.1L567.12 474.2ZM567.12 474.2H572.92M570.02 471.3V477.1" stroke="#9999CC" stroke-width="1.0" fill="none"/>
<path d="M583.83 481L586.73 483.9L583.83 486.8L580.93 483.9ZM580.93 483.9H586.73M583.83 481V486.8" stroke="#CC6666" stroke-width="1.0" fill="none"/>
<path d="M592.07 471.3L594.97 474.2L592.07 477.1L589.17 474.2ZM589.17 474.2H594.97M592.07 471.3V477.1" stroke="#9999CC" stroke-width="1.0" fill="none"/>
<path d="M605.88 480.2L608.78 483.1L605.88 486L602.98 483.1ZM602.98 483.1H608.78M605.88 480.2V486" stroke="#CC6666" stroke-width="1.0" fill="none"/>
<path d="M614.12 470.5L617.02 473.4L614.12 476.3L611.22 473.4ZM611.22 473.4H617.02M614.12 470.5V476.3" stroke="#9999CC" stroke-width="1.0" fill="none"/>
<path d="M627.93 480.2L630.83 483.1L627.93 486L625.03 483.1ZM625.03 483.1H630.83M627.93 480.2V486" stroke="#CC6666" stroke-width="1.0" fill="none"/>
<path d="M636.17 468.9L639.07 471.8L636.17 474.7L633.27 471.8ZM633.27 471.8H639.07M636.17 468.9V474.7" stroke="#9999CC" stroke-width="1.0" fill="none"/>
</g>
<g clip-path="url(#c9)">
<path d="M76.68 503.68V504.8M76.68 507.3V508.43" stroke="#777777" stroke-width="0.9"/><rect x="72.56" y="504.8" width="8.24" height="2.5" fill="#F0BCBC" stroke="#777777" stroke-width="0.85"/><path d="M72.56 505.4H80.8" stroke="#333" stroke-width="1.05"/><circle cx="76.68" cy="501.2" r="1.25" fill="#111"/>
<path d="M84.92 503.68V504.8M84.92 507.3V508.43" stroke="#777777" stroke-width="0.9"/><rect x="80.8" y="504.8" width="8.24" height="2.5" fill="#D5D5F0" stroke="#777777" stroke-width="0.85"/><path d="M80.8 505.4H89.04" stroke="#333" stroke-width="1.05"/><circle cx="84.92" cy="501.2" r="1.25" fill="#111"/>
<path d="M98.73 507.11V508.1M98.73 510.3V511.29" stroke="#777777" stroke-width="0.9"/><rect x="94.61" y="508.1" width="8.24" height="2.2" fill="#F0BCBC" stroke="#777777" stroke-width="0.85"/><path d="M94.61 509.3H102.85" stroke="#333" stroke-width="1.05"/>
<path d="M106.97 507.38V508.1M106.97 509.7V510.42" stroke="#777777" stroke-width="0.9"/><rect x="102.85" y="508.1" width="8.24" height="1.6" fill="#D5D5F0" stroke="#777777" stroke-width="0.85"/><path d="M102.85 508.9H111.09" stroke="#333" stroke-width="1.05"/>
<path d="M120.78 508.94V510.7M120.78 514.6V518.5" stroke="#777777" stroke-width="0.9"/><rect x="116.66" y="510.7" width="8.24" height="3.9" fill="#F0BCBC" stroke="#777777" stroke-width="0.85"/><path d="M116.66 513.6H124.9" stroke="#333" stroke-width="1.05"/>
<path d="M129.02 508.94V510.7M129.02 514.6V517.5" stroke="#777777" stroke-width="0.9"/><rect x="124.9" y="510.7" width="8.24" height="3.9" fill="#D5D5F0" stroke="#777777" stroke-width="0.85"/><path d="M124.9 511.6H133.14" stroke="#333" stroke-width="1.05"/>
<path d="M142.83 511.27V513.2M142.83 517.5V519.43" stroke="#777777" stroke-width="0.9"/><rect x="138.71" y="513.2" width="8.24" height="4.3" fill="#F0BCBC" stroke="#777777" stroke-width="0.85"/><path d="M138.71 516H146.95" stroke="#333" stroke-width="1.05"/>
<path d="M151.07 510.11V512M151.07 516.2V518.09" stroke="#777777" stroke-width="0.9"/><rect x="146.95" y="512" width="8.24" height="4.2" fill="#D5D5F0" stroke="#777777" stroke-width="0.85"/><path d="M146.95 513.6H155.19" stroke="#333" stroke-width="1.05"/>
<path d="M164.88 511.58V513.6M164.88 518.1V520.5" stroke="#777777" stroke-width="0.9"/><rect x="160.76" y="513.6" width="8.24" height="4.5" fill="#F0BCBC" stroke="#777777" stroke-width="0.85"/><path d="M160.76 516.6H169" stroke="#333" stroke-width="1.05"/>
<path d="M173.12 511.67V513.2M173.12 516.6V518.13" stroke="#777777" stroke-width="0.9"/><rect x="169" y="513.2" width="8.24" height="3.4" fill="#D5D5F0" stroke="#777777" stroke-width="0.85"/><path d="M169 514.6H177.24" stroke="#333" stroke-width="1.05"/>
<path d="M186.93 511.67V513.6M186.93 517.9V519.83" stroke="#777777" stroke-width="0.9"/><rect x="182.81" y="513.6" width="8.24" height="4.3" fill="#F0BCBC" stroke="#777777" stroke-width="0.85"/><path d="M182.81 516.6H191.05" stroke="#333" stroke-width="1.05"/>
<path d="M195.17 509.53V511.6M195.17 516.2V518.27" stroke="#777777" stroke-width="0.9"/><rect x="191.05" y="511.6" width="8.24" height="4.6" fill="#D5D5F0" stroke="#777777" stroke-width="0.85"/><path d="M191.05 514H199.29" stroke="#333" stroke-width="1.05"/>
<path d="M208.98 513.27V515.2M208.98 519.5V521.43" stroke="#777777" stroke-width="0.9"/><rect x="204.86" y="515.2" width="8.24" height="4.3" fill="#F0BCBC" stroke="#777777" stroke-width="0.85"/><path d="M204.86 517.5H213.1" stroke="#333" stroke-width="1.05"/>
<path d="M217.22 511.27V513.2M217.22 517.5V519.43" stroke="#777777" stroke-width="0.9"/><rect x="213.1" y="513.2" width="8.24" height="4.3" fill="#D5D5F0" stroke="#777777" stroke-width="0.85"/><path d="M213.1 514.6H221.34" stroke="#333" stroke-width="1.05"/><circle cx="217.22" cy="523.4" r="1.25" fill="#111"/>
<path d="M231.03 511.95V514.6M231.03 520.5V523.15" stroke="#777777" stroke-width="0.9"/><rect x="226.91" y="514.6" width="8.24" height="5.9" fill="#F0BCBC" stroke="#777777" stroke-width="0.85"/><path d="M226.91 517.5H235.15" stroke="#333" stroke-width="1.05"/>
<path d="M239.27 508.95V511.6M239.27 517.5V521.5" stroke="#777777" stroke-width="0.9"/><rect x="235.15" y="511.6" width="8.24" height="5.9" fill="#D5D5F0" stroke="#777777" stroke-width="0.85"/><path d="M235.15 514.6H243.39" stroke="#333" stroke-width="1.05"/>
<path d="M253.08 513.12V515.6M253.08 521.1V523.58" stroke="#777777" stroke-width="0.9"/><rect x="248.96" y="515.6" width="8.24" height="5.5" fill="#F0BCBC" stroke="#777777" stroke-width="0.85"/><path d="M248.96 518.5H257.2" stroke="#333" stroke-width="1.05"/>
<path d="M261.32 514.57V515.2M261.32 516.6V517.23" stroke="#777777" stroke-width="0.9"/><rect x="257.2" y="515.2" width="8.24" height="1.4" fill="#D5D5F0" stroke="#777777" stroke-width="0.85"/><path d="M257.2 515.9H265.44" stroke="#333" stroke-width="1.05"/><circle cx="261.32" cy="520.1" r="1.25" fill="#111"/>
<path d="M275.13 516.15V517.5M275.13 520.5V523.4" stroke="#777777" stroke-width="0.9"/><rect x="271.01" y="517.5" width="8.24" height="3" fill="#F0BCBC" stroke="#777777" stroke-width="0.85"/><path d="M271.01 519.5H279.25" stroke="#333" stroke-width="1.05"/>
<path d="M283.37 514.2V514.8M283.37 515.6V516.2" stroke="#777777" stroke-width="0.9"/><rect x="279.25" y="514.8" width="8.24" height="0.8" fill="#D5D5F0" stroke="#777777" stroke-width="0.85"/><path d="M279.25 515.2H287.49" stroke="#333" stroke-width="1.05"/><circle cx="283.37" cy="521.5" r="1.25" fill="#111"/>
<path d="M297.18 517.15V518.5M297.18 521.5V522.85" stroke="#777777" stroke-width="0.9"/><rect x="293.06" y="518.5" width="8.24" height="3" fill="#F0BCBC" stroke="#777777" stroke-width="0.85"/><path d="M293.06 520.5H301.3" stroke="#333" stroke-width="1.05"/><circle cx="297.18" cy="526.4" r="1.25" fill="#111"/>
<path d="M305.42 515.48V516.6M305.42 519.1V520.23" stroke="#777777" stroke-width="0.9"/><rect x="301.3" y="516.6" width="8.24" height="2.5" fill="#D5D5F0" stroke="#777777" stroke-width="0.85"/><path d="M301.3 517.9H309.54" stroke="#333" stroke-width="1.05"/><circle cx="305.42" cy="525.8" r="1.25" fill="#111"/>
<path d="M319.23 518.73V519.9M319.23 522.5V523.67" stroke="#777777" stroke-width="0.9"/><rect x="315.11" y="519.9" width="8.24" height="2.6" fill="#F0BCBC" stroke="#777777" stroke-width="0.85"/><path d="M315.11 521.1H323.35" stroke="#333" stroke-width="1.05"/><circle cx="319.23" cy="526.4" r="1.25" fill="#111"/>
<path d="M327.47 516.5V517.1M327.47 518.1V518.7" stroke="#777777" stroke-width="0.9"/><rect x="323.35" y="517.1" width="8.24" height="1" fill="#D5D5F0" stroke="#777777" stroke-width="0.85"/><path d="M323.35 517.6H331.59" stroke="#333" stroke-width="1.05"/><circle cx="327.47" cy="524" r="1.25" fill="#111"/>
<path d="M341.28 519.6V520.5M341.28 522.5V523.4" stroke="#777777" stroke-width="0.9"/><rect x="337.16" y="520.5" width="8.24" height="2" fill="#F0BCBC" stroke="#777777" stroke-width="0.85"/><path d="M337.16 521.5H345.4" stroke="#333" stroke-width="1.05"/><circle cx="341.28" cy="527.4" r="1.25" fill="#111"/>
<path d="M349.52 519.3V519.9M349.52 521.1V521.7" stroke="#777777" stroke-width="0.9"/><rect x="345.4" y="519.9" width="8.24" height="1.2" fill="#D5D5F0" stroke="#777777" stroke-width="0.85"/><path d="M345.4 520.5H353.64" stroke="#333" stroke-width="1.05"/><circle cx="349.52" cy="526.4" r="1.25" fill="#111"/>
<path d="M363.33 519.38V520.5M363.33 523V524.12" stroke="#777777" stroke-width="0.9"/><rect x="359.21" y="520.5" width="8.24" height="2.5" fill="#F0BCBC" stroke="#777777" stroke-width="0.85"/><path d="M359.21 521.9H367.45" stroke="#333" stroke-width="1.05"/><circle cx="363.33" cy="527.4" r="1.25" fill="#111"/>
<path d="M371.57 517.15V518.5M371.57 521.5V526.4" stroke="#777777" stroke-width="0.9"/><rect x="367.45" y="518.5" width="8.24" height="3" fill="#D5D5F0" stroke="#777777" stroke-width="0.85"/><path d="M367.45 519.9H375.69" stroke="#333" stroke-width="1.05"/>
<path d="M385.38 519.38V520.5M385.38 523V524.12" stroke="#777777" stroke-width="0.9"/><rect x="381.26" y="520.5" width="8.24" height="2.5" fill="#F0BCBC" stroke="#777777" stroke-width="0.85"/><path d="M381.26 521.5H389.5" stroke="#333" stroke-width="1.05"/><circle cx="385.38" cy="527.4" r="1.25" fill="#111"/>
<path d="M393.62 516.39V518.1M393.62 521.9V525.8" stroke="#777777" stroke-width="0.9"/><rect x="389.5" y="518.1" width="8.24" height="3.8" fill="#D5D5F0" stroke="#777777" stroke-width="0.85"/><path d="M389.5 519.5H397.74" stroke="#333" stroke-width="1.05"/>
<path d="M407.43 517.17V519.1M407.43 523.4V527" stroke="#777777" stroke-width="0.9"/><rect x="403.31" y="519.1" width="8.24" height="4.3" fill="#F0BCBC" stroke="#777777" stroke-width="0.85"/><path d="M403.31 521.5H411.55" stroke="#333" stroke-width="1.05"/>
<path d="M415.67 516.12V518.1M415.67 522.5V525.8" stroke="#777777" stroke-width="0.9"/><rect x="411.55" y="518.1" width="8.24" height="4.4" fill="#D5D5F0" stroke="#777777" stroke-width="0.85"/><path d="M411.55 519.9H419.79" stroke="#333" stroke-width="1.05"/>
<path d="M429.48 518.32V519.9M429.48 523.4V524.98" stroke="#777777" stroke-width="0.9"/><rect x="425.36" y="519.9" width="8.24" height="3.5" fill="#F0BCBC" stroke="#777777" stroke-width="0.85"/><path d="M425.36 521.5H433.6" stroke="#333" stroke-width="1.05"/><circle cx="429.48" cy="527.4" r="1.25" fill="#111"/>
<path d="M437.72 515.61V517.9M437.72 523V526.4" stroke="#777777" stroke-width="0.9"/><rect x="433.6" y="517.9" width="8.24" height="5.1" fill="#D5D5F0" stroke="#777777" stroke-width="0.85"/><path d="M433.6 520.5H441.84" stroke="#333" stroke-width="1.05"/>
<path d="M451.53 517.75V519.5M451.53 523.4V527.4" stroke="#777777" stroke-width="0.9"/><rect x="447.41" y="519.5" width="8.24" height="3.9" fill="#F0BCBC" stroke="#777777" stroke-width="0.85"/><path d="M447.41 521.5H455.65" stroke="#333" stroke-width="1.05"/>
<path d="M459.77 517.17V519.1M459.77 523.4V525.33" stroke="#777777" stroke-width="0.9"/><rect x="455.65" y="519.1" width="8.24" height="4.3" fill="#D5D5F0" stroke="#777777" stroke-width="0.85"/><path d="M455.65 521.1H463.89" stroke="#333" stroke-width="1.05"/>
<path d="M473.58 517.57V519.5M473.58 523.8V527.4" stroke="#777777" stroke-width="0.9"/><rect x="469.46" y="519.5" width="8.24" height="4.3" fill="#F0BCBC" stroke="#777777" stroke-width="0.85"/><path d="M469.46 521.9H477.7" stroke="#333" stroke-width="1.05"/>
<path d="M481.82 517.75V519.5M481.82 523.4V525.15" stroke="#777777" stroke-width="0.9"/><rect x="477.7" y="519.5" width="8.24" height="3.9" fill="#D5D5F0" stroke="#777777" stroke-width="0.85"/><path d="M477.7 521.1H485.94" stroke="#333" stroke-width="1.05"/>
<path d="M495.63 516.99V519.1M495.63 523.8V527.4" stroke="#777777" stroke-width="0.9"/><rect x="491.51" y="519.1" width="8.24" height="4.7" fill="#F0BCBC" stroke="#777777" stroke-width="0.85"/><path d="M491.51 521.9H499.75" stroke="#333" stroke-width="1.05"/>
<path d="M503.87 517.02V519.5M503.87 525V527.48" stroke="#777777" stroke-width="0.9"/><rect x="499.75" y="519.5" width="8.24" height="5.5" fill="#D5D5F0" stroke="#777777" stroke-width="0.85"/><path d="M499.75 521.5H507.99" stroke="#333" stroke-width="1.05"/>
<path d="M517.68 517.29V519.5M517.68 524.4V527.4" stroke="#777777" stroke-width="0.9"/><rect x="513.56" y="519.5" width="8.24" height="4.9" fill="#F0BCBC" stroke="#777777" stroke-width="0.85"/><path d="M513.56 522.5H521.8" stroke="#333" stroke-width="1.05"/>
<path d="M525.92 516.48V518.5M525.92 523V525.02" stroke="#777777" stroke-width="0.9"/><rect x="521.8" y="518.5" width="8.24" height="4.5" fill="#D5D5F0" stroke="#777777" stroke-width="0.85"/><path d="M521.8 520.5H530.04" stroke="#333" stroke-width="1.05"/>
<path d="M539.73 516.72V519.1M539.73 524.4V526.78" stroke="#777777" stroke-width="0.9"/><rect x="535.61" y="519.1" width="8.24" height="5.3" fill="#F0BCBC" stroke="#777777" stroke-width="0.85"/><path d="M535.61 522.5H543.85" stroke="#333" stroke-width="1.05"/>
<path d="M547.97 517.29V519.5M547.97 524.4V526.61" stroke="#777777" stroke-width="0.9"/><rect x="543.85" y="519.5" width="8.24" height="4.9" fill="#D5D5F0" stroke="#777777" stroke-width="0.85"/><path d="M543.85 521.9H552.09" stroke="#333" stroke-width="1.05"/>
<path d="M561.78 518.27V520.2M561.78 524.5V528.1" stroke="#777777" stroke-width="0.9"/><rect x="557.66" y="520.2" width="8.24" height="4.3" fill="#F0BCBC" stroke="#777777" stroke-width="0.85"/><path d="M557.66 522.9H565.9" stroke="#333" stroke-width="1.05"/>
<path d="M570.02 517.27V519.2M570.02 523.5V527.5" stroke="#777777" stroke-width="0.9"/><rect x="565.9" y="519.2" width="8.24" height="4.3" fill="#D5D5F0" stroke="#777777" stroke-width="0.85"/><path d="M565.9 521.3H574.14" stroke="#333" stroke-width="1.05"/>
<path d="M583.83 518.27V520.2M583.83 524.5V526.43" stroke="#777777" stroke-width="0.9"/><rect x="579.71" y="520.2" width="8.24" height="4.3" fill="#F0BCBC" stroke="#777777" stroke-width="0.85"/><path d="M579.71 522.9H587.95" stroke="#333" stroke-width="1.05"/>
<path d="M592.07 516.54V518.3M592.07 522.2V525.5" stroke="#777777" stroke-width="0.9"/><rect x="587.95" y="518.3" width="8.24" height="3.9" fill="#D5D5F0" stroke="#777777" stroke-width="0.85"/><path d="M587.95 520.2H596.19" stroke="#333" stroke-width="1.05"/>
<path d="M605.88 518.27V520.2M605.88 524.5V526.43" stroke="#777777" stroke-width="0.9"/><rect x="601.76" y="520.2" width="8.24" height="4.3" fill="#F0BCBC" stroke="#777777" stroke-width="0.85"/><path d="M601.76 522.9H610" stroke="#333" stroke-width="1.05"/>
<path d="M614.12 519.01V520M614.12 522.2V523.19" stroke="#777777" stroke-width="0.9"/><rect x="610" y="520" width="8.24" height="2.2" fill="#D5D5F0" stroke="#777777" stroke-width="0.85"/><path d="M610 521.3H618.24" stroke="#333" stroke-width="1.05"/><circle cx="614.12" cy="527.1" r="1.25" fill="#111"/>
<path d="M627.93 517.39V519.6M627.93 524.5V528.8" stroke="#777777" stroke-width="0.9"/><rect x="623.81" y="519.6" width="8.24" height="4.9" fill="#F0BCBC" stroke="#777777" stroke-width="0.85"/><path d="M623.81 522.6H632.05" stroke="#333" stroke-width="1.05"/>
<path d="M636.17 518.43V519.6M636.17 522.2V523.37" stroke="#777777" stroke-width="0.9"/><rect x="632.05" y="519.6" width="8.24" height="2.6" fill="#D5D5F0" stroke="#777777" stroke-width="0.85"/><path d="M632.05 521H640.29" stroke="#333" stroke-width="1.05"/><circle cx="636.17" cy="526.2" r="1.25" fill="#111"/>
<path d="M76.68 495.4L79.58 498.3L76.68 501.2L73.78 498.3ZM73.78 498.3H79.58M76.68 495.4V501.2" stroke="#CC6666" stroke-width="1.0" fill="none"/>
<path d="M84.92 495.4L87.82 498.3L84.92 501.2L82.02 498.3ZM82.02 498.3H87.82M84.92 495.4V501.2" stroke="#9999CC" stroke-width="1.0" fill="none"/>
<path d="M98.73 501.3L101.63 504.2L98.73 507.1L95.83 504.2ZM95.83 504.2H101.63M98.73 501.3V507.1" stroke="#CC6666" stroke-width="1.0" fill="none"/>
<path d="M106.97 500.5L109.87 503.4L106.97 506.3L104.07 503.4ZM104.07 503.4H109.87M106.97 500.5V506.3" stroke="#9999CC" stroke-width="1.0" fill="none"/>
<path d="M120.78 509.1L123.68 512L120.78 514.9L117.88 512ZM117.88 512H123.68M120.78 509.1V514.9" stroke="#CC6666" stroke-width="1.0" fill="none"/>
<path d="M129.02 505.2L131.92 508.1L129.02 511L126.12 508.1ZM126.12 508.1H131.92M129.02 505.2V511" stroke="#9999CC" stroke-width="1.0" fill="none"/>
<path d="M142.83 510.7L145.73 513.6L142.83 516.5L139.93 513.6ZM139.93 513.6H145.73M142.83 510.7V516.5" stroke="#CC6666" stroke-width="1.0" fill="none"/>
<path d="M151.07 506.4L153.97 509.3L151.07 512.2L148.17 509.3ZM148.17 509.3H153.97M151.07 506.4V512.2" stroke="#9999CC" stroke-width="1.0" fill="none"/>
<path d="M164.88 511.1L167.78 514L164.88 516.9L161.98 514ZM161.98 514H167.78M164.88 511.1V516.9" stroke="#CC6666" stroke-width="1.0" fill="none"/>
<path d="M173.12 506.8L176.02 509.7L173.12 512.6L170.22 509.7ZM170.22 509.7H176.02M173.12 506.8V512.6" stroke="#9999CC" stroke-width="1.0" fill="none"/>
<path d="M186.93 511.7L189.83 514.6L186.93 517.5L184.03 514.6ZM184.03 514.6H189.83M186.93 511.7V517.5" stroke="#CC6666" stroke-width="1.0" fill="none"/>
<path d="M195.17 507.4L198.07 510.3L195.17 513.2L192.27 510.3ZM192.27 510.3H198.07M195.17 507.4V513.2" stroke="#9999CC" stroke-width="1.0" fill="none"/>
<path d="M208.98 512.7L211.88 515.6L208.98 518.5L206.08 515.6ZM206.08 515.6H211.88M208.98 512.7V518.5" stroke="#CC6666" stroke-width="1.0" fill="none"/>
<path d="M217.22 512.7L220.12 515.6L217.22 518.5L214.32 515.6ZM214.32 515.6H220.12M217.22 512.7V518.5" stroke="#9999CC" stroke-width="1.0" fill="none"/>
<path d="M231.03 512.7L233.93 515.6L231.03 518.5L228.13 515.6ZM228.13 515.6H233.93M231.03 512.7V518.5" stroke="#CC6666" stroke-width="1.0" fill="none"/>
<path d="M239.27 509.1L242.17 512L239.27 514.9L236.37 512ZM236.37 512H242.17M239.27 509.1V514.9" stroke="#9999CC" stroke-width="1.0" fill="none"/>
<path d="M253.08 513.7L255.98 516.6L253.08 519.5L250.18 516.6ZM250.18 516.6H255.98M253.08 513.7V519.5" stroke="#CC6666" stroke-width="1.0" fill="none"/>
<path d="M261.32 510.3L264.22 513.2L261.32 516.1L258.42 513.2ZM258.42 513.2H264.22M261.32 510.3V516.1" stroke="#9999CC" stroke-width="1.0" fill="none"/>
<path d="M275.13 515L278.03 517.9L275.13 520.8L272.23 517.9ZM272.23 517.9H278.03M275.13 515V520.8" stroke="#CC6666" stroke-width="1.0" fill="none"/>
<path d="M283.37 507.8L286.27 510.7L283.37 513.6L280.47 510.7ZM280.47 510.7H286.27M283.37 507.8V513.6" stroke="#9999CC" stroke-width="1.0" fill="none"/>
<path d="M297.18 514.6L300.08 517.5L297.18 520.4L294.28 517.5ZM294.28 517.5H300.08M297.18 514.6V520.4" stroke="#CC6666" stroke-width="1.0" fill="none"/>
<path d="M305.42 510.7L308.32 513.6L305.42 516.5L302.52 513.6ZM302.52 513.6H308.32M305.42 510.7V516.5" stroke="#9999CC" stroke-width="1.0" fill="none"/>
<path d="M319.23 515.6L322.13 518.5L319.23 521.4L316.33 518.5ZM316.33 518.5H322.13M319.23 515.6V521.4" stroke="#CC6666" stroke-width="1.0" fill="none"/>
<path d="M327.47 511.3L330.37 514.2L327.47 517.1L324.57 514.2ZM324.57 514.2H330.37M327.47 511.3V517.1" stroke="#9999CC" stroke-width="1.0" fill="none"/>
<path d="M341.28 516.2L344.18 519.1L341.28 522L338.38 519.1ZM338.38 519.1H344.18M341.28 516.2V522" stroke="#CC6666" stroke-width="1.0" fill="none"/>
<path d="M349.52 514.2L352.42 517.1L349.52 520L346.62 517.1ZM346.62 517.1H352.42M349.52 514.2V520" stroke="#9999CC" stroke-width="1.0" fill="none"/>
<path d="M363.33 516.6L366.23 519.5L363.33 522.4L360.43 519.5ZM360.43 519.5H366.23M363.33 516.6V522.4" stroke="#CC6666" stroke-width="1.0" fill="none"/>
<path d="M371.57 512.7L374.47 515.6L371.57 518.5L368.67 515.6ZM368.67 515.6H374.47M371.57 512.7V518.5" stroke="#9999CC" stroke-width="1.0" fill="none"/>
<path d="M385.38 516.2L388.28 519.1L385.38 522L382.48 519.1ZM382.48 519.1H388.28M385.38 516.2V522" stroke="#CC6666" stroke-width="1.0" fill="none"/>
<path d="M393.62 510.7L396.52 513.6L393.62 516.5L390.72 513.6ZM390.72 513.6H396.52M393.62 510.7V516.5" stroke="#9999CC" stroke-width="1.0" fill="none"/>
<path d="M407.43 516.2L410.33 519.1L407.43 522L404.53 519.1ZM404.53 519.1H410.33M407.43 516.2V522" stroke="#CC6666" stroke-width="1.0" fill="none"/>
<path d="M415.67 512.3L418.57 515.2L415.67 518.1L412.77 515.2ZM412.77 515.2H418.57M415.67 512.3V518.1" stroke="#9999CC" stroke-width="1.0" fill="none"/>
<path d="M429.48 517L432.38 519.9L429.48 522.8L426.58 519.9ZM426.58 519.9H432.38M429.48 517V522.8" stroke="#CC6666" stroke-width="1.0" fill="none"/>
<path d="M437.72 516.6L440.62 519.5L437.72 522.4L434.82 519.5ZM434.82 519.5H440.62M437.72 516.6V522.4" stroke="#9999CC" stroke-width="1.0" fill="none"/>
<path d="M451.53 517.6L454.43 520.5L451.53 523.4L448.63 520.5ZM448.63 520.5H454.43M451.53 517.6V523.4" stroke="#CC6666" stroke-width="1.0" fill="none"/>
<path d="M459.77 516.6L462.67 519.5L459.77 522.4L456.87 519.5ZM456.87 519.5H462.67M459.77 516.6V522.4" stroke="#9999CC" stroke-width="1.0" fill="none"/>
<path d="M473.58 517.6L476.48 520.5L473.58 523.4L470.68 520.5ZM470.68 520.5H476.48M473.58 517.6V523.4" stroke="#CC6666" stroke-width="1.0" fill="none"/>
<path d="M481.82 517L484.72 519.9L481.82 522.8L478.92 519.9ZM478.92 519.9H484.72M481.82 517V522.8" stroke="#9999CC" stroke-width="1.0" fill="none"/>
<path d="M495.63 518.2L498.53 521.1L495.63 524L492.73 521.1ZM492.73 521.1H498.53M495.63 518.2V524" stroke="#CC6666" stroke-width="1.0" fill="none"/>
<path d="M503.87 518.2L506.77 521.1L503.87 524L500.97 521.1ZM500.97 521.1H506.77M503.87 518.2V524" stroke="#9999CC" stroke-width="1.0" fill="none"/>
<path d="M517.68 518.2L520.58 521.1L517.68 524L514.78 521.1ZM514.78 521.1H520.58M517.68 518.2V524" stroke="#CC6666" stroke-width="1.0" fill="none"/>
<path d="M525.92 515L528.82 517.9L525.92 520.8L523.02 517.9ZM523.02 517.9H528.82M525.92 515V520.8" stroke="#9999CC" stroke-width="1.0" fill="none"/>
<path d="M539.73 517.6L542.63 520.5L539.73 523.4L536.83 520.5ZM536.83 520.5H542.63M539.73 517.6V523.4" stroke="#CC6666" stroke-width="1.0" fill="none"/>
<path d="M547.97 514.6L550.87 517.5L547.97 520.4L545.07 517.5ZM545.07 517.5H550.87M547.97 514.6V520.4" stroke="#9999CC" stroke-width="1.0" fill="none"/>
<path d="M561.78 517.1L564.68 520L561.78 522.9L558.88 520ZM558.88 520H564.68M561.78 517.1V522.9" stroke="#CC6666" stroke-width="1.0" fill="none"/>
<path d="M570.02 515.4L572.92 518.3L570.02 521.2L567.12 518.3ZM567.12 518.3H572.92M570.02 515.4V521.2" stroke="#9999CC" stroke-width="1.0" fill="none"/>
<path d="M583.83 517.1L586.73 520L583.83 522.9L580.93 520ZM580.93 520H586.73M583.83 517.1V522.9" stroke="#CC6666" stroke-width="1.0" fill="none"/>
<path d="M592.07 512.7L594.97 515.6L592.07 518.5L589.17 515.6ZM589.17 515.6H594.97M592.07 512.7V518.5" stroke="#9999CC" stroke-width="1.0" fill="none"/>
<path d="M605.88 517.1L608.78 520L605.88 522.9L602.98 520ZM602.98 520H608.78M605.88 517.1V522.9" stroke="#CC6666" stroke-width="1.0" fill="none"/>
<path d="M614.12 511.4L617.02 514.3L614.12 517.2L611.22 514.3ZM611.22 514.3H617.02M614.12 511.4V517.2" stroke="#9999CC" stroke-width="1.0" fill="none"/>
<path d="M627.93 517.3L630.83 520.2L627.93 523.1L625.03 520.2ZM625.03 520.2H630.83M627.93 517.3V523.1" stroke="#CC6666" stroke-width="1.0" fill="none"/>
<path d="M636.17 512.1L639.07 515L636.17 517.9L633.27 515ZM633.27 515H639.07M636.17 512.1V517.9" stroke="#9999CC" stroke-width="1.0" fill="none"/>
</g>
<path d="M66.5 286.9H645.2M66.5 534.3H645.2" stroke="#000" stroke-width="1.4"/>
<path d="M80.8 535V538.5M102.85 535V538.5M124.9 535V538.5M146.95 535V538.5M169 535V538.5M191.05 535V538.5M213.1 535V538.5M235.15 535V538.5M257.2 535V538.5M279.25 535V538.5M301.3 535V538.5M323.35 535V538.5M345.4 535V538.5M367.45 535V538.5M389.5 535V538.5M411.55 535V538.5M433.6 535V538.5M455.65 535V538.5M477.7 535V538.5M499.75 535V538.5M521.8 535V538.5M543.85 535V538.5M565.9 535V538.5M587.95 535V538.5M610 535V538.5M632.05 535V538.5" stroke="#000" stroke-width="1.15"/>
<text x="80.8" y="550.9" text-anchor="middle" font-size="12.8">12</text>
<text x="102.85" y="550.9" text-anchor="middle" font-size="12.8">19</text>
<text x="124.9" y="550.9" text-anchor="middle" font-size="12.8">24</text>
<text x="146.95" y="550.9" text-anchor="middle" font-size="12.8">26</text>
<text x="169" y="550.9" text-anchor="middle" font-size="12.8">31</text>
<text x="191.05" y="550.9" text-anchor="middle" font-size="12.8">34</text>
<text x="213.1" y="550.9" text-anchor="middle" font-size="12.8">38</text>
<text x="235.15" y="550.9" text-anchor="middle" font-size="12.8">40</text>
<text x="257.2" y="550.9" text-anchor="middle" font-size="12.8">41</text>
<text x="279.25" y="550.9" text-anchor="middle" font-size="12.8">45</text>
<text x="301.3" y="550.9" text-anchor="middle" font-size="12.8">48</text>
<text x="323.35" y="550.9" text-anchor="middle" font-size="12.8">52</text>
<text x="345.4" y="550.9" text-anchor="middle" font-size="12.8">55</text>
<text x="367.45" y="550.9" text-anchor="middle" font-size="12.8">56</text>
<text x="389.5" y="550.9" text-anchor="middle" font-size="12.8">59</text>
<text x="411.55" y="550.9" text-anchor="middle" font-size="12.8">61</text>
<text x="433.6" y="550.9" text-anchor="middle" font-size="12.8">63</text>
<text x="455.65" y="550.9" text-anchor="middle" font-size="12.8">66</text>
<text x="477.7" y="550.9" text-anchor="middle" font-size="12.8">68</text>
<text x="499.75" y="550.9" text-anchor="middle" font-size="12.8">70</text>
<text x="521.8" y="550.9" text-anchor="middle" font-size="12.8">75</text>
<text x="543.85" y="550.9" text-anchor="middle" font-size="12.8">77</text>
<text x="565.9" y="550.9" text-anchor="middle" font-size="12.8">80</text>
<text x="587.95" y="550.9" text-anchor="middle" font-size="12.8">87</text>
<text x="610" y="550.9" text-anchor="middle" font-size="12.8">96</text>
<text x="632.05" y="550.9" text-anchor="middle" font-size="12.8">101</text>
<text x="353.7" y="580.2" text-anchor="middle" font-weight="bold" font-size="16">Days after transplanting (DAT)</text>
<text transform="translate(20.1 167.3) rotate(-90)" text-anchor="middle" font-weight="bold" font-size="16">R<tspan dy="-4.8" font-size="9.4">2</tspan></text>
<text transform="translate(14.6 421) rotate(-90)" text-anchor="middle" font-weight="bold" font-size="16">RMSE (g/plant)</text>
<text x="272.6" y="13.3" text-anchor="end" font-weight="bold" font-size="16">Input scheme:</text>
<circle cx="286.6" cy="7.5" r="4.1" fill="#CC6666"/>
<text x="299.2" y="12.8" font-size="14.9">Multi-temporal</text>
<circle cx="402.3" cy="7.5" r="4.1" fill="#9999CC"/>
<text x="414.6" y="12.8" font-size="14.9">Single time-point</text>
<text x="275" y="33.4" text-anchor="end" font-weight="bold" font-size="16">Dataset:</text>
<path d="M289.3 21.3V23.5M289.3 31.7V33.8M287 23.5H291.6V31.7H287ZM287 27.6H291.6" stroke="#000" stroke-width="1" fill="none"/>
<text x="300.2" y="32.9" font-size="14.9">Cross-validation</text>
<path d="M432.2 21.9L437.9 27.6L432.2 33.3L426.5 27.6ZM426.5 27.6H437.9M432.2 21.9V33.3" stroke="#000" stroke-width="1" fill="none"/>
<text x="444.4" y="32.9" font-size="14.9">Test</text></svg>
</body></html>
